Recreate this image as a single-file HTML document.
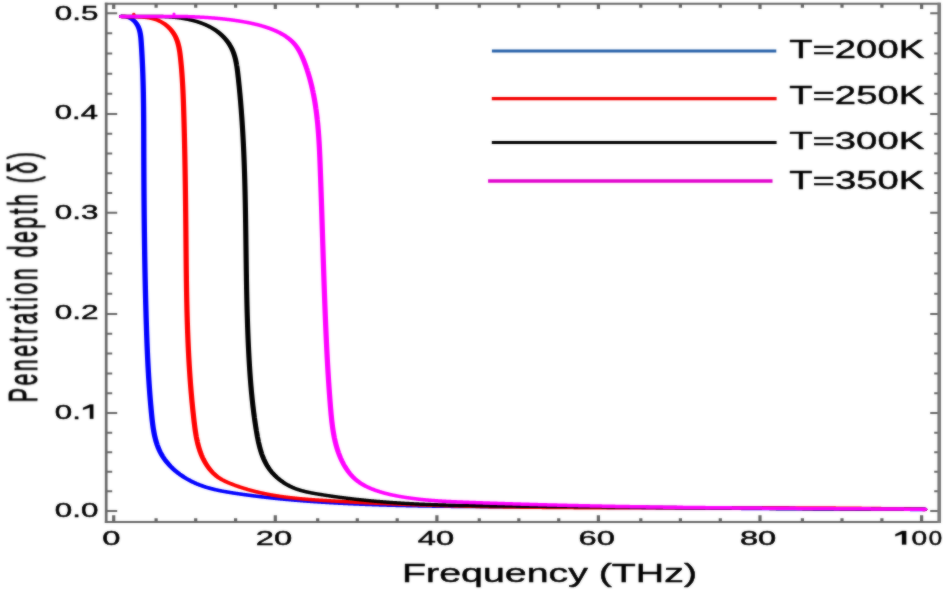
<!DOCTYPE html>
<html><head><meta charset="utf-8"><style>
html,body{margin:0;padding:0;background:#fff;width:943px;height:590px;overflow:hidden}
svg{display:block}
#w{width:943px;height:590px}
text{font-family:"Liberation Sans",sans-serif}
</style></head><body>
<div id="w"><svg width="943" height="590" viewBox="0 0 943 590">
<defs><filter id="bl" x="0" y="0" width="943" height="590" filterUnits="userSpaceOnUse" color-interpolation-filters="sRGB"><feGaussianBlur in="SourceGraphic" stdDeviation="0.9" result="b"/><feComposite in="SourceGraphic" in2="b" operator="arithmetic" k1="0" k2="0.5" k3="0.5" k4="0"/></filter></defs>
<rect width="943" height="590" fill="#fff"/>
<g filter="url(#bl)">
<path d="M113.70,522.0 V515.20 M113.70,3.7 V9.10 M156.10,522.0 V518.20 M156.10,3.7 V7.70 M195.70,522.0 V518.20 M195.70,3.7 V7.70 M235.60,522.0 V518.20 M235.60,3.7 V7.70 M275.30,522.0 V515.20 M275.30,3.7 V9.10 M317.70,522.0 V518.20 M317.70,3.7 V7.70 M357.30,522.0 V518.20 M357.30,3.7 V7.70 M397.20,522.0 V518.20 M397.20,3.7 V7.70 M436.90,522.0 V515.20 M436.90,3.7 V9.10 M479.27,522.0 V518.20 M479.27,3.7 V7.70 M518.85,522.0 V518.20 M518.85,3.7 V7.70 M558.73,522.0 V518.20 M558.73,3.7 V7.70 M598.40,522.0 V515.20 M598.40,3.7 V9.10 M640.80,522.0 V518.20 M640.80,3.7 V7.70 M680.40,522.0 V518.20 M680.40,3.7 V7.70 M720.30,522.0 V518.20 M720.30,3.7 V7.70 M760.00,522.0 V515.20 M760.00,3.7 V9.10 M802.40,522.0 V518.20 M802.40,3.7 V7.70 M842.00,522.0 V518.20 M842.00,3.7 V7.70 M881.90,522.0 V518.20 M881.90,3.7 V7.70 M921.60,522.0 V515.20 M921.60,3.7 V9.10" fill="none" stroke="#666" stroke-width="3.2"/>
<path d="M106.2,510.90 H117.20 M939.2,510.90 H930.20 M106.2,491.34 H112.20 M939.2,491.34 H934.20 M106.2,471.78 H112.20 M939.2,471.78 H934.20 M106.2,452.22 H112.20 M939.2,452.22 H934.20 M106.2,432.66 H112.20 M939.2,432.66 H934.20 M106.2,413.10 H117.20 M939.2,413.10 H930.20 M106.2,393.26 H112.20 M939.2,393.26 H934.20 M106.2,373.42 H112.20 M939.2,373.42 H934.20 M106.2,353.58 H112.20 M939.2,353.58 H934.20 M106.2,333.74 H112.20 M939.2,333.74 H934.20 M106.2,313.90 H117.20 M939.2,313.90 H930.20 M106.2,293.68 H112.20 M939.2,293.68 H934.20 M106.2,273.46 H112.20 M939.2,273.46 H934.20 M106.2,253.24 H112.20 M939.2,253.24 H934.20 M106.2,233.02 H112.20 M939.2,233.02 H934.20 M106.2,212.80 H117.20 M939.2,212.80 H930.20 M106.2,193.03 H112.20 M939.2,193.03 H934.20 M106.2,173.26 H112.20 M939.2,173.26 H934.20 M106.2,153.49 H112.20 M939.2,153.49 H934.20 M106.2,133.72 H112.20 M939.2,133.72 H934.20 M106.2,113.95 H117.20 M939.2,113.95 H930.20 M106.2,93.80 H112.20 M939.2,93.80 H934.20 M106.2,73.65 H112.20 M939.2,73.65 H934.20 M106.2,53.50 H112.20 M939.2,53.50 H934.20 M106.2,33.35 H112.20 M939.2,33.35 H934.20 M106.2,13.20 H117.20 M939.2,13.20 H930.20" fill="none" stroke="#666" stroke-width="2.0"/>
<path d="M104.85,3.7 H940.55 M104.85,522.0 H940.55" fill="none" stroke="#666" stroke-width="2.0"/>
<path d="M106.2,2.70 V523.00" fill="none" stroke="#666" stroke-width="2.7"/>
<path d="M939.2,2.70 V523.00" fill="none" stroke="#7a7a7a" stroke-width="3.6"/>
<g transform="scale(1.5,1)">
<path d="M80.98,16.39 L81.39,16.39 L81.78,16.40 L82.17,16.43 L82.56,16.48 L82.93,16.53 L83.30,16.61 L83.66,16.70 L84.02,16.80 L84.36,16.91 L84.70,17.04 L85.04,17.18 L85.36,17.33 L85.68,17.50 L86.00,17.68 L86.30,17.87 L86.60,18.07 L86.90,18.28 L87.18,18.51 L87.46,18.74 L87.74,18.99 L88.00,19.25 L88.26,19.52 L88.52,19.79 L88.76,20.08 L89.00,20.38 L89.24,20.68 L89.46,21.00 L89.69,21.32 L89.90,21.65 L90.11,21.99 L90.31,22.34 L90.51,22.69 L90.69,23.05 L90.88,23.42 L91.05,23.80 L91.22,24.18 L91.39,24.57 L91.55,24.97 L91.70,25.37 L91.84,25.78 L91.98,26.19 L92.12,26.61 L92.24,27.03 L92.37,27.45 L92.48,27.88 L92.59,28.32 L92.70,28.76 L92.79,29.20 L92.89,29.65 L92.98,30.10 L93.06,30.56 L93.14,31.01 L93.22,31.48 L93.29,31.94 L93.36,32.41 L93.42,32.88 L93.48,33.35 L93.54,33.83 L93.59,34.31 L93.64,34.79 L93.69,35.27 L93.73,35.76 L93.77,36.24 L93.81,36.73 L93.85,37.22 L93.88,37.71 L93.92,38.21 L93.95,38.70 L93.98,39.19 L94.00,39.69 L94.03,40.19 L94.06,40.68 L94.08,41.18 L94.11,41.68 L94.13,42.18 L94.15,42.68 L94.17,43.18 L94.20,43.67 L94.22,44.17 L94.24,44.67 L94.26,45.17 L94.28,45.66 L94.31,46.16 L94.33,46.66 L94.35,47.16 L94.37,47.65 L94.39,48.15 L94.41,48.65 L94.43,49.14 L94.45,49.64 L94.47,50.14 L94.49,50.63 L94.51,51.13 L94.53,51.63 L94.55,52.12 L94.57,52.62 L94.58,53.12 L94.60,53.61 L94.62,54.11 L94.64,54.60 L94.66,55.10 L94.67,55.59 L94.69,56.09 L94.71,56.59 L94.73,57.08 L94.74,57.58 L94.76,58.07 L94.78,58.57 L94.79,59.06 L94.81,59.56 L94.83,60.05 L94.84,60.54 L94.86,61.04 L94.87,61.53 L94.89,62.03 L94.90,62.52 L94.92,63.02 L94.93,63.51 L94.95,64.00 L94.96,64.50 L94.98,64.99 L94.99,65.49 L95.00,65.98 L95.02,66.47 L95.03,66.97 L95.05,67.46 L95.06,67.95 L95.07,68.45 L95.09,68.94 L95.10,69.43 L95.11,69.93 L95.12,70.42 L95.14,70.91 L95.15,71.40 L95.16,71.90 L95.17,72.39 L95.18,72.88 L95.20,73.37 L95.21,73.87 L95.22,74.36 L95.23,74.85 L95.24,75.34 L95.25,75.84 L95.26,76.33 L95.27,76.82 L95.28,77.31 L95.29,77.80 L95.30,78.29 L95.31,78.79 L95.32,79.28 L95.33,79.77 L95.34,80.26 L95.35,80.75 L95.36,81.24 L95.37,81.74 L95.38,82.23 L95.39,82.72 L95.40,83.21 L95.41,83.70 L95.42,84.19 L95.42,84.68 L95.43,85.17 L95.44,85.66 L95.45,86.16 L95.46,86.65 L95.46,87.14 L95.47,87.63 L95.48,88.12 L95.49,88.61 L95.49,89.10 L95.50,89.59 L95.51,90.08 L95.52,90.57 L95.52,91.06 L95.53,91.55 L95.54,92.04 L95.54,92.53 L95.55,93.02 L95.56,93.51 L95.56,94.00 L95.57,94.49 L95.57,94.98 L95.58,95.47 L95.59,95.96 L95.59,96.45 L95.60,96.94 L95.60,97.43 L95.61,97.92 L95.61,98.41 L95.62,98.90 L95.62,99.39 L95.63,99.88 L95.63,100.37 L95.64,100.86 L95.64,101.35 L95.65,101.84 L95.65,102.33 L95.66,102.82 L95.66,103.31 L95.67,103.79 L95.67,104.28 L95.68,104.77 L95.68,105.26 L95.68,105.75 L95.69,106.24 L95.69,106.73 L95.70,107.22 L95.70,107.71 L95.70,108.20 L95.71,108.69 L95.71,109.18 L95.71,109.67 L95.72,110.15 L95.72,110.64 L95.72,111.13 L95.73,111.62 L95.73,112.11 L95.73,112.60 L95.74,113.09 L95.74,113.58 L95.74,114.07 L95.74,114.55 L95.75,115.04 L95.75,115.53 L95.75,116.02 L95.75,116.51 L95.76,117.00 L95.76,117.49 L95.76,117.98 L95.76,118.47 L95.77,118.95 L95.77,119.44 L95.77,119.93 L95.77,120.42 L95.77,120.91 L95.78,121.40 L95.78,121.89 L95.78,122.38 L95.78,122.86 L95.78,123.35 L95.79,123.84 L95.79,124.33 L95.79,124.82 L95.79,125.31 L95.79,125.80 L95.79,126.29 L95.80,126.78 L95.80,127.26 L95.80,127.75 L95.80,128.24 L95.80,128.73 L95.80,129.22 L95.80,129.71 L95.81,130.20 L95.81,130.69 L95.81,131.17 L95.81,131.66 L95.81,132.15 L95.81,132.64 L95.81,133.13 L95.81,133.62 L95.82,134.11 L95.82,134.60 L95.82,135.09 L95.82,135.58 L95.82,136.06 L95.82,136.55 L95.82,137.04 L95.82,137.53 L95.82,138.02 L95.82,138.51 L95.83,139.00 L95.83,139.49 L95.83,139.98 L95.83,140.47 L95.83,140.96 L95.83,141.45 L95.83,141.93 L95.83,142.42 L95.83,142.91 L95.83,143.40 L95.84,143.89 L95.84,144.38 L95.84,144.87 L95.84,145.36 L95.84,145.85 L95.84,146.34 L95.84,146.83 L95.84,147.32 L95.84,147.81 L95.84,148.30 L95.84,148.79 L95.85,149.28 L95.85,149.77 L95.85,150.26 L95.85,150.75 L95.85,151.24 L95.85,151.73 L95.85,152.22 L95.85,152.71 L95.85,153.20 L95.86,153.69 L95.86,154.18 L95.86,154.67 L95.86,155.16 L95.86,155.65 L95.86,156.14 L95.86,156.63 L95.86,157.12 L95.87,157.61 L95.87,158.10 L95.87,158.59 L95.87,159.08 L95.87,159.57 L95.87,160.06 L95.87,160.55 L95.87,161.04 L95.88,161.53 L95.88,162.02 L95.88,162.51 L95.88,163.01 L95.88,163.50 L95.88,163.99 L95.88,164.48 L95.89,164.97 L95.89,165.46 L95.89,165.95 L95.89,166.44 L95.89,166.93 L95.89,167.42 L95.89,167.91 L95.90,168.41 L95.90,168.90 L95.90,169.39 L95.90,169.88 L95.90,170.37 L95.90,170.86 L95.91,171.35 L95.91,171.84 L95.91,172.33 L95.91,172.83 L95.91,173.32 L95.91,173.81 L95.92,174.30 L95.92,174.79 L95.92,175.28 L95.92,175.77 L95.92,176.27 L95.92,176.76 L95.93,177.25 L95.93,177.74 L95.93,178.23 L95.93,178.72 L95.93,179.21 L95.93,179.71 L95.94,180.20 L95.94,180.69 L95.94,181.18 L95.94,181.67 L95.94,182.16 L95.95,182.66 L95.95,183.15 L95.95,183.64 L95.95,184.13 L95.95,184.62 L95.96,185.12 L95.96,185.61 L95.96,186.10 L95.96,186.59 L95.97,187.08 L95.97,187.57 L95.97,188.07 L95.97,188.56 L95.97,189.05 L95.98,189.54 L95.98,190.03 L95.98,190.53 L95.98,191.02 L95.99,191.51 L95.99,192.00 L95.99,192.49 L95.99,192.99 L95.99,193.48 L96.00,193.97 L96.00,194.46 L96.00,194.96 L96.00,195.45 L96.01,195.94 L96.01,196.43 L96.01,196.92 L96.01,197.42 L96.02,197.91 L96.02,198.40 L96.02,198.89 L96.02,199.39 L96.03,199.88 L96.03,200.37 L96.03,200.86 L96.04,201.35 L96.04,201.85 L96.04,202.34 L96.04,202.83 L96.05,203.32 L96.05,203.82 L96.05,204.31 L96.05,204.80 L96.06,205.29 L96.06,205.79 L96.06,206.28 L96.07,206.77 L96.07,207.26 L96.07,207.76 L96.08,208.25 L96.08,208.74 L96.08,209.23 L96.08,209.73 L96.09,210.22 L96.09,210.71 L96.09,211.20 L96.10,211.70 L96.10,212.19 L96.10,212.68 L96.11,213.17 L96.11,213.67 L96.11,214.16 L96.12,214.65 L96.12,215.14 L96.12,215.64 L96.13,216.13 L96.13,216.62 L96.13,217.11 L96.14,217.61 L96.14,218.10 L96.14,218.59 L96.15,219.08 L96.15,219.58 L96.15,220.07 L96.16,220.56 L96.16,221.05 L96.16,221.55 L96.17,222.04 L96.17,222.53 L96.17,223.03 L96.18,223.52 L96.18,224.01 L96.19,224.50 L96.19,225.00 L96.19,225.49 L96.20,225.98 L96.20,226.47 L96.21,226.97 L96.21,227.46 L96.21,227.95 L96.22,228.44 L96.22,228.94 L96.22,229.43 L96.23,229.92 L96.23,230.41 L96.24,230.91 L96.24,231.40 L96.25,231.89 L96.25,232.39 L96.25,232.88 L96.26,233.37 L96.26,233.86 L96.27,234.36 L96.27,234.85 L96.27,235.34 L96.28,235.83 L96.28,236.33 L96.29,236.82 L96.29,237.31 L96.30,237.80 L96.30,238.30 L96.31,238.79 L96.31,239.28 L96.31,239.77 L96.32,240.27 L96.32,240.76 L96.33,241.25 L96.33,241.74 L96.34,242.24 L96.34,242.73 L96.35,243.22 L96.35,243.71 L96.36,244.21 L96.36,244.70 L96.37,245.19 L96.37,245.68 L96.38,246.18 L96.38,246.67 L96.39,247.16 L96.39,247.65 L96.40,248.15 L96.40,248.64 L96.41,249.13 L96.41,249.62 L96.42,250.11 L96.42,250.61 L96.43,251.10 L96.43,251.59 L96.44,252.08 L96.44,252.58 L96.45,253.07 L96.45,253.56 L96.46,254.05 L96.46,254.55 L96.47,255.04 L96.47,255.53 L96.48,256.02 L96.48,256.51 L96.49,257.01 L96.50,257.50 L96.50,257.99 L96.51,258.48 L96.51,258.97 L96.52,259.47 L96.52,259.96 L96.53,260.45 L96.54,260.94 L96.54,261.44 L96.55,261.93 L96.55,262.42 L96.56,262.91 L96.56,263.40 L96.57,263.90 L96.58,264.39 L96.58,264.88 L96.59,265.37 L96.59,265.86 L96.60,266.35 L96.61,266.85 L96.61,267.34 L96.62,267.83 L96.63,268.32 L96.63,268.81 L96.64,269.31 L96.64,269.80 L96.65,270.29 L96.66,270.78 L96.66,271.27 L96.67,271.76 L96.68,272.26 L96.68,272.75 L96.69,273.24 L96.70,273.73 L96.70,274.22 L96.71,274.71 L96.72,275.20 L96.72,275.70 L96.73,276.19 L96.74,276.68 L96.74,277.17 L96.75,277.66 L96.76,278.15 L96.76,278.64 L96.77,279.14 L96.78,279.63 L96.78,280.12 L96.79,280.61 L96.80,281.10 L96.81,281.59 L96.81,282.08 L96.82,282.57 L96.83,283.06 L96.83,283.56 L96.84,284.05 L96.85,284.54 L96.86,285.03 L96.86,285.52 L96.87,286.01 L96.88,286.50 L96.89,286.99 L96.89,287.48 L96.90,287.97 L96.91,288.46 L96.92,288.95 L96.92,289.45 L96.93,289.94 L96.94,290.43 L96.95,290.92 L96.96,291.41 L96.96,291.90 L96.97,292.39 L96.98,292.88 L96.99,293.37 L97.00,293.86 L97.00,294.35 L97.01,294.84 L97.02,295.33 L97.03,295.82 L97.04,296.31 L97.04,296.80 L97.05,297.29 L97.06,297.78 L97.07,298.27 L97.08,298.76 L97.09,299.25 L97.09,299.74 L97.10,300.23 L97.11,300.72 L97.12,301.21 L97.13,301.70 L97.14,302.19 L97.15,302.68 L97.15,303.17 L97.16,303.66 L97.17,304.15 L97.18,304.64 L97.19,305.13 L97.20,305.62 L97.21,306.11 L97.22,306.60 L97.23,307.09 L97.23,307.58 L97.24,308.07 L97.25,308.56 L97.26,309.05 L97.27,309.54 L97.28,310.02 L97.29,310.51 L97.30,311.00 L97.31,311.49 L97.32,311.98 L97.33,312.47 L97.34,312.96 L97.35,313.45 L97.36,313.94 L97.36,314.43 L97.37,314.91 L97.38,315.40 L97.39,315.89 L97.40,316.38 L97.41,316.87 L97.42,317.36 L97.43,317.85 L97.44,318.34 L97.45,318.82 L97.46,319.31 L97.47,319.80 L97.48,320.29 L97.49,320.78 L97.50,321.27 L97.51,321.75 L97.52,322.24 L97.53,322.73 L97.54,323.22 L97.55,323.71 L97.57,324.19 L97.58,324.68 L97.59,325.17 L97.60,325.66 L97.61,326.15 L97.62,326.63 L97.63,327.12 L97.64,327.61 L97.65,328.10 L97.66,328.58 L97.67,329.07 L97.68,329.56 L97.69,330.05 L97.70,330.53 L97.72,331.02 L97.73,331.51 L97.74,332.00 L97.75,332.48 L97.76,332.97 L97.77,333.46 L97.78,333.94 L97.79,334.43 L97.81,334.92 L97.82,335.41 L97.83,335.89 L97.84,336.38 L97.85,336.87 L97.86,337.35 L97.88,337.84 L97.89,338.33 L97.90,338.82 L97.91,339.30 L97.92,339.79 L97.94,340.28 L97.95,340.76 L97.96,341.25 L97.97,341.74 L97.98,342.22 L98.00,342.71 L98.01,343.20 L98.02,343.68 L98.04,344.17 L98.05,344.66 L98.06,345.14 L98.07,345.63 L98.09,346.12 L98.10,346.61 L98.11,347.09 L98.13,347.58 L98.14,348.07 L98.15,348.55 L98.17,349.04 L98.18,349.53 L98.19,350.01 L98.21,350.50 L98.22,350.99 L98.24,351.47 L98.25,351.96 L98.26,352.45 L98.28,352.94 L98.29,353.42 L98.31,353.91 L98.32,354.40 L98.34,354.88 L98.35,355.37 L98.36,355.86 L98.38,356.35 L98.39,356.83 L98.41,357.32 L98.42,357.81 L98.44,358.29 L98.46,358.78 L98.47,359.27 L98.49,359.76 L98.50,360.24 L98.52,360.73 L98.53,361.22 L98.55,361.71 L98.57,362.19 L98.58,362.68 L98.60,363.17 L98.61,363.66 L98.63,364.15 L98.65,364.63 L98.66,365.12 L98.68,365.61 L98.70,366.10 L98.72,366.59 L98.73,367.07 L98.75,367.56 L98.77,368.05 L98.79,368.54 L98.80,369.03 L98.82,369.52 L98.84,370.00 L98.86,370.49 L98.87,370.98 L98.89,371.47 L98.91,371.96 L98.93,372.45 L98.95,372.94 L98.97,373.43 L98.99,373.92 L99.01,374.41 L99.02,374.89 L99.04,375.38 L99.06,375.87 L99.08,376.36 L99.10,376.85 L99.12,377.34 L99.14,377.83 L99.16,378.32 L99.18,378.81 L99.20,379.30 L99.22,379.79 L99.24,380.28 L99.27,380.77 L99.29,381.26 L99.31,381.75 L99.33,382.24 L99.35,382.73 L99.37,383.23 L99.39,383.72 L99.42,384.21 L99.44,384.70 L99.46,385.19 L99.48,385.68 L99.50,386.17 L99.53,386.66 L99.55,387.16 L99.57,387.65 L99.60,388.14 L99.62,388.63 L99.64,389.12 L99.67,389.62 L99.69,390.11 L99.71,390.60 L99.74,391.09 L99.76,391.59 L99.79,392.08 L99.81,392.57 L99.83,393.06 L99.86,393.56 L99.88,394.05 L99.91,394.54 L99.93,395.04 L99.96,395.53 L99.99,396.02 L100.01,396.52 L100.04,397.01 L100.06,397.51 L100.09,398.00 L100.12,398.50 L100.14,398.99 L100.17,399.49 L100.20,399.98 L100.22,400.48 L100.25,400.97 L100.28,401.47 L100.31,401.96 L100.34,402.46 L100.36,402.95 L100.39,403.45 L100.42,403.95 L100.45,404.44 L100.48,404.94 L100.51,405.43 L100.54,405.93 L100.57,406.43 L100.60,406.93 L100.63,407.42 L100.66,407.92 L100.69,408.42 L100.72,408.91 L100.75,409.41 L100.78,409.91 L100.81,410.41 L100.84,410.91 L100.87,411.41 L100.90,411.90 L100.93,412.40 L100.97,412.90 L101.00,413.40 L101.03,413.90 L101.06,414.40 L101.10,414.90 L101.13,415.40 L101.16,415.90 L101.20,416.40 L101.23,416.90 L101.26,417.40 L101.30,417.90 L101.33,418.40 L101.37,418.90 L101.41,419.40 L101.44,419.90 L101.48,420.40 L101.52,420.90 L101.56,421.40 L101.60,421.90 L101.64,422.39 L101.68,422.89 L101.72,423.39 L101.76,423.89 L101.81,424.39 L101.85,424.88 L101.89,425.38 L101.94,425.88 L101.99,426.37 L102.03,426.87 L102.08,427.36 L102.13,427.85 L102.18,428.35 L102.23,428.84 L102.29,429.33 L102.34,429.82 L102.40,430.31 L102.45,430.80 L102.51,431.29 L102.57,431.78 L102.63,432.27 L102.69,432.76 L102.75,433.24 L102.82,433.73 L102.88,434.21 L102.95,434.69 L103.02,435.18 L103.09,435.66 L103.16,436.14 L103.23,436.62 L103.31,437.10 L103.38,437.57 L103.46,438.05 L103.54,438.52 L103.62,439.00 L103.70,439.47 L103.79,439.94 L103.87,440.41 L103.96,440.88 L104.05,441.35 L104.14,441.81 L104.24,442.28 L104.33,442.74 L104.43,443.20 L104.53,443.66 L104.63,444.12 L104.73,444.58 L104.84,445.03 L104.95,445.49 L105.06,445.94 L105.17,446.39 L105.28,446.84 L105.40,447.29 L105.52,447.74 L105.64,448.18 L105.76,448.62 L105.89,449.06 L106.02,449.50 L106.15,449.94 L106.28,450.38 L106.41,450.81 L106.55,451.24 L106.69,451.67 L106.83,452.10 L106.98,452.52 L107.13,452.95 L107.28,453.37 L107.43,453.79 L107.59,454.21 L107.74,454.62 L107.90,455.04 L108.07,455.45 L108.23,455.86 L108.40,456.26 L108.57,456.67 L108.75,457.07 L108.92,457.47 L109.10,457.87 L109.28,458.27 L109.46,458.67 L109.65,459.06 L109.83,459.45 L110.02,459.84 L110.21,460.22 L110.41,460.61 L110.60,460.99 L110.80,461.37 L111.00,461.75 L111.21,462.12 L111.41,462.50 L111.62,462.87 L111.83,463.24 L112.04,463.60 L112.25,463.97 L112.46,464.33 L112.68,464.69 L112.90,465.05 L113.12,465.40 L113.34,465.76 L113.57,466.11 L113.79,466.46 L114.02,466.80 L114.25,467.15 L114.48,467.49 L114.72,467.83 L114.95,468.17 L115.19,468.50 L115.43,468.84 L115.67,469.17 L115.91,469.50 L116.16,469.82 L116.40,470.15 L116.65,470.47 L116.90,470.79 L117.15,471.10 L117.40,471.42 L117.66,471.73 L117.91,472.04 L118.17,472.35 L118.43,472.65 L118.69,472.95 L118.95,473.25 L119.21,473.55 L119.47,473.85 L119.74,474.14 L120.00,474.43 L120.27,474.72 L120.54,475.01 L120.81,475.29 L121.08,475.57 L121.36,475.85 L121.63,476.13 L121.91,476.40 L122.18,476.67 L122.46,476.94 L122.74,477.20 L123.02,477.47 L123.30,477.73 L123.58,477.99 L123.86,478.25 L124.15,478.50 L124.43,478.75 L124.72,479.00 L125.01,479.25 L125.29,479.49 L125.58,479.73 L125.87,479.97 L126.16,480.20 L126.45,480.44 L126.75,480.67 L127.04,480.90 L127.33,481.12 L127.63,481.35 L127.92,481.57 L128.22,481.79 L128.52,482.00 L128.81,482.21 L129.11,482.42 L129.41,482.63 L129.71,482.84 L130.01,483.04 L130.31,483.24 L130.61,483.44 L130.91,483.63 L131.21,483.82 L131.52,484.01 L131.82,484.20 L132.12,484.38 L132.43,484.56 L132.73,484.74 L133.04,484.92 L133.34,485.09 L133.65,485.27 L133.95,485.44 L134.26,485.60 L134.57,485.77 L134.88,485.93 L135.19,486.09 L135.49,486.25 L135.80,486.41 L136.11,486.56 L136.42,486.72 L136.73,486.87 L137.05,487.01 L137.36,487.16 L137.67,487.30 L137.98,487.45 L138.29,487.59 L138.61,487.72 L138.92,487.86 L139.23,488.00 L139.55,488.13 L139.86,488.26 L140.18,488.39 L140.49,488.52 L140.81,488.64 L141.12,488.76 L141.44,488.89 L141.76,489.01 L142.07,489.13 L142.39,489.24 L142.71,489.36 L143.03,489.47 L143.34,489.59 L143.66,489.70 L143.98,489.81 L144.30,489.92 L144.62,490.02 L144.94,490.13 L145.26,490.23 L145.58,490.33 L145.90,490.44 L146.22,490.54 L146.54,490.64 L146.86,490.73 L147.18,490.83 L147.50,490.92 L147.82,491.02 L148.15,491.11 L148.47,491.20 L148.79,491.30 L149.11,491.39 L149.43,491.47 L149.76,491.56 L150.08,491.65 L150.40,491.74 L150.73,491.82 L151.05,491.91 L151.37,491.99 L151.70,492.07 L152.02,492.15 L152.34,492.24 L152.67,492.32 L152.99,492.40 L153.31,492.48 L153.64,492.55 L153.96,492.63 L154.29,492.71 L154.61,492.79 L154.94,492.86 L155.26,492.94 L155.59,493.01 L155.91,493.09 L156.23,493.16 L156.56,493.24 L156.88,493.31 L157.21,493.38 L157.53,493.46 L157.86,493.53 L158.18,493.60 L158.51,493.67 L158.83,493.74 L159.16,493.82 L159.48,493.89 L159.81,493.96 L160.13,494.03 L160.46,494.10 L160.78,494.17 L161.11,494.24 L161.43,494.31 L161.76,494.38 L162.08,494.44 L162.40,494.51 L162.73,494.58 L163.05,494.65 L163.38,494.72 L163.70,494.78 L164.03,494.85 L164.35,494.92 L164.68,494.98 L165.00,495.05 L165.33,495.11 L165.65,495.18 L165.98,495.24 L166.30,495.31 L166.63,495.37 L166.96,495.44 L167.28,495.50 L167.61,495.56 L167.93,495.63 L168.26,495.69 L168.58,495.75 L168.91,495.81 L169.23,495.88 L169.56,495.94 L169.88,496.00 L170.21,496.06 L170.53,496.12 L170.86,496.18 L171.18,496.24 L171.51,496.30 L171.83,496.36 L172.16,496.42 L172.48,496.48 L172.81,496.54 L173.13,496.60 L173.46,496.66 L173.79,496.72 L174.11,496.77 L174.44,496.83 L174.76,496.89 L175.09,496.95 L175.41,497.00 L175.74,497.06 L176.06,497.12 L176.39,497.17 L176.71,497.23 L177.04,497.28 L177.37,497.34 L177.69,497.39 L178.02,497.45 L178.34,497.50 L178.67,497.56 L178.99,497.61 L179.32,497.66 L179.64,497.72 L179.97,497.77 L180.30,497.82 L180.62,497.88 L180.95,497.93 L181.27,497.98 L181.60,498.03 L181.92,498.08 L182.25,498.13 L182.58,498.19 L182.90,498.24 L183.23,498.29 L183.55,498.34 L183.88,498.39 L184.20,498.44 L184.53,498.49 L184.86,498.54 L185.18,498.59 L185.51,498.63 L185.83,498.68 L186.16,498.73 L186.48,498.78 L186.81,498.83 L187.14,498.88 L187.46,498.92 L187.79,498.97 L188.11,499.02 L188.44,499.06 L188.77,499.11 L189.09,499.16 L189.42,499.20 L189.74,499.25 L190.07,499.29 L190.40,499.34 L190.72,499.39 L191.05,499.43 L191.37,499.47 L191.70,499.52 L192.03,499.56 L192.35,499.61 L192.68,499.65 L193.00,499.70 L193.33,499.74 L193.66,499.78 L193.98,499.82 L194.31,499.87 L194.63,499.91 L194.96,499.95 L195.29,499.99 L195.61,500.04 L195.94,500.08 L196.26,500.12 L196.59,500.16 L196.92,500.20 L197.24,500.24 L197.57,500.28 L197.90,500.32 L198.22,500.36 L198.55,500.40 L198.87,500.44 L199.20,500.48 L199.53,500.52 L199.85,500.56 L200.18,500.60 L200.51,500.64 L200.83,500.68 L201.16,500.72 L201.48,500.76 L201.81,500.79 L202.14,500.83 L202.46,500.87 L202.79,500.91 L203.12,500.94 L203.44,500.98 L203.77,501.02 L204.09,501.06 L204.42,501.09 L204.75,501.13 L205.07,501.16 L205.40,501.20 L205.73,501.24 L206.05,501.27 L206.38,501.31 L206.71,501.34 L207.03,501.38 L207.36,501.41 L207.68,501.45 L208.01,501.48 L208.34,501.52 L208.66,501.55 L208.99,501.58 L209.32,501.62 L209.64,501.65 L209.97,501.69 L210.30,501.72 L210.62,501.75 L210.95,501.79 L211.28,501.82 L211.60,501.85 L211.93,501.88 L212.26,501.92 L212.58,501.95 L212.91,501.98 L213.24,502.01 L213.56,502.04 L213.89,502.07 L214.21,502.11 L214.54,502.14 L214.87,502.17 L215.19,502.20 L215.52,502.23 L215.85,502.26 L216.17,502.29 L216.50,502.32 L216.83,502.35 L217.15,502.38 L217.48,502.41 L217.81,502.44 L218.13,502.47 L218.46,502.50 L218.79,502.53 L219.11,502.56 L219.44,502.59 L219.77,502.62 L220.09,502.65 L220.42,502.67 L220.75,502.70 L221.07,502.73 L221.40,502.76 L221.73,502.79 L222.05,502.81 L222.38,502.84 L222.71,502.87 L223.03,502.90 L223.36,502.92 L223.69,502.95 L224.01,502.98 L224.34,503.01 L224.67,503.03 L224.99,503.06 L225.32,503.09 L225.65,503.11 L225.97,503.14 L226.30,503.16 L226.63,503.19 L226.95,503.22 L227.28,503.24 L227.61,503.27 L227.94,503.29 L228.26,503.32 L228.59,503.34 L228.92,503.37 L229.24,503.39 L229.57,503.42 L229.90,503.44 L230.22,503.47 L230.55,503.49 L230.88,503.51 L231.20,503.54 L231.53,503.56 L231.86,503.59 L232.18,503.61 L232.51,503.63 L232.84,503.66 L233.16,503.68 L233.49,503.70 L233.82,503.73 L234.14,503.75 L234.47,503.77 L234.80,503.79 L235.13,503.82 L235.45,503.84 L235.78,503.86 L236.11,503.88 L236.43,503.91 L236.76,503.93 L237.09,503.95 L237.41,503.97 L237.74,503.99 L238.07,504.01 L238.39,504.04 L238.72,504.06 L239.05,504.08 L239.38,504.10 L239.70,504.12 L240.03,504.14 L240.36,504.16 L240.68,504.18 L241.01,504.20 L241.34,504.22 L241.66,504.24 L241.99,504.26 L242.32,504.28 L242.65,504.30 L242.97,504.32 L243.30,504.34 L243.63,504.36 L243.95,504.38 L244.28,504.40 L244.61,504.42 L244.93,504.44 L245.26,504.46 L245.59,504.48 L245.92,504.49 L246.24,504.51 L246.57,504.53 L246.90,504.55 L247.22,504.57 L247.55,504.59 L247.88,504.60 L248.20,504.62 L248.53,504.64 L248.86,504.66 L249.19,504.68 L249.51,504.69 L249.84,504.71 L250.17,504.73 L250.49,504.74 L250.82,504.76 L251.15,504.78 L251.48,504.80 L251.80,504.81 L252.13,504.83 L252.46,504.85 L252.78,504.86 L253.11,504.88 L253.44,504.89 L253.77,504.91 L254.09,504.93 L254.42,504.94 L254.75,504.96 L255.07,504.97 L255.40,504.99 L255.73,505.00 L256.06,505.02 L256.38,505.04 L256.71,505.05 L257.04,505.07 L257.36,505.08 L257.69,505.10 L258.02,505.11 L258.35,505.12 L258.67,505.14 L259.00,505.15 L259.33,505.17 L259.65,505.18 L259.98,505.20 L260.31,505.21 L260.64,505.23 L260.96,505.24 L261.29,505.25 L261.62,505.27 L261.94,505.28 L262.27,505.29 L262.60,505.31 L262.93,505.32 L263.25,505.33 L263.58,505.35 L263.91,505.36 L264.23,505.37 L264.56,505.39 L264.89,505.40 L265.22,505.41 L265.54,505.42 L265.87,505.44 L266.20,505.45 L266.53,505.46 L266.85,505.47 L267.18,505.49 L267.51,505.50 L267.83,505.51 L268.16,505.52 L268.49,505.53 L268.82,505.55 L269.14,505.56 L269.47,505.57 L269.80,505.58 L270.13,505.59 L270.45,505.60 L270.78,505.62 L271.11,505.63 L271.43,505.64 L271.76,505.65 L272.09,505.66 L272.42,505.67 L272.74,505.68 L273.07,505.69 L273.40,505.70 L273.73,505.71 L274.05,505.72 L274.38,505.73 L274.71,505.74 L275.04,505.76 L275.36,505.77 L275.69,505.78 L276.02,505.79 L276.34,505.80 L276.67,505.81 L277.00,505.82 L277.33,505.82 L277.65,505.83 L277.98,505.84 L278.31,505.85 L278.64,505.86 L278.96,505.87 L279.29,505.88 L279.62,505.89 L279.95,505.90 L280.27,505.91 L280.60,505.92 L280.93,505.93 L281.25,505.94 L281.58,505.94 L281.91,505.95 L282.24,505.96 L282.56,505.97 L282.89,505.98 L283.22,505.99 L283.55,506.00 L283.87,506.00 L284.20,506.01 L284.53,506.02 L284.86,506.03 L285.18,506.04 L285.51,506.04 L285.84,506.05 L286.17,506.06 L286.49,506.07 L286.82,506.08 L287.15,506.08 L287.48,506.09 L287.80,506.10 L288.13,506.11 L288.46,506.11 L288.78,506.12 L289.11,506.13 L289.44,506.14 L289.77,506.14 L290.09,506.15 L290.42,506.16 L290.75,506.16 L291.08,506.17 L291.40,506.18 L291.73,506.18 L292.06,506.19 L292.39,506.20 L292.71,506.20 L293.04,506.21 L293.37,506.22 L293.70,506.22 L294.02,506.23 L294.35,506.24 L294.68,506.24 L295.01,506.25 L295.33,506.26 L295.66,506.26 L295.99,506.27 L296.32,506.27 L296.64,506.28 L296.97,506.29 L297.30,506.29 L297.63,506.30 L297.95,506.30 L298.28,506.31 L298.61,506.31 L298.94,506.32 L299.26,506.33 L299.59,506.33 L299.92,506.34 L300.25,506.34 L300.57,506.35 L300.90,506.35 L301.23,506.36 L301.56,506.36 L301.88,506.37 L302.21,506.37 L302.54,506.38 L302.87,506.38 L303.19,506.39 L303.52,506.39 L303.85,506.40 L304.18,506.40 L304.50,506.41 L304.83,506.41 L305.16,506.42 L305.49,506.42 L305.81,506.43 L306.14,506.43 L306.47,506.44 L306.80,506.44 L307.12,506.45 L307.45,506.45 L307.78,506.46 L308.11,506.46 L308.43,506.46 L308.76,506.47 L309.09,506.47 L309.42,506.48 L309.74,506.48 L310.07,506.49 L310.40,506.49 L310.73,506.49 L311.05,506.50 L311.38,506.50 L311.71,506.51 L312.04,506.51 L312.36,506.51 L312.69,506.52 L313.02,506.52 L313.35,506.53 L313.67,506.53 L314.00,506.53 L314.33,506.54 L314.66,506.54 L314.98,506.54 L315.31,506.55 L315.64,506.55 L315.97,506.55 L316.29,506.56 L316.62,506.56 L316.95,506.57 L317.28,506.57 L317.60,506.57 L317.93,506.58 L318.26,506.58 L318.59,506.58 L318.91,506.59 L319.24,506.59 L319.57,506.59 L319.90,506.60 L320.22,506.60 L320.55,506.60 L320.88,506.61 L321.21,506.61 L321.53,506.61 L321.86,506.61 L322.19,506.62 L322.52,506.62 L322.84,506.62 L323.17,506.63 L323.50,506.63 L323.83,506.63 L324.15,506.64 L324.48,506.64 L324.81,506.64 L325.14,506.64 L325.46,506.65 L325.79,506.65 L326.12,506.65 L326.45,506.66 L326.77,506.66 L327.10,506.66 L327.43,506.66 L327.76,506.67 L328.08,506.67 L328.41,506.67 L328.74,506.68 L329.07,506.68 L329.39,506.68 L329.72,506.68 L330.05,506.69 L330.38,506.69 L330.70,506.69 L331.03,506.69 L331.36,506.70 L331.69,506.70 L332.01,506.70 L332.34,506.70 L332.67,506.71 L333.00,506.71 L333.32,506.71 L333.65,506.72 L333.98,506.72 L334.31,506.72 L334.64,506.72 L334.96,506.73 L335.29,506.73 L335.62,506.73 L335.95,506.73 L336.27,506.74 L336.60,506.74 L336.93,506.74 L337.26,506.74 L337.58,506.75 L337.91,506.75 L338.24,506.75 L338.57,506.75 L338.89,506.76 L339.22,506.76 L339.55,506.76 L339.88,506.76 L340.20,506.77 L340.53,506.77 L340.86,506.77 L341.19,506.77 L341.51,506.78 L341.84,506.78 L342.17,506.78 L342.50,506.78 L342.82,506.78 L343.15,506.79 L343.48,506.79 L343.81,506.79 L344.13,506.79 L344.46,506.80 L344.79,506.80 L345.12,506.80 L345.44,506.80 L345.77,506.81 L346.10,506.81 L346.43,506.81 L346.75,506.81 L347.08,506.82 L347.41,506.82 L347.74,506.82 L348.06,506.83 L348.39,506.83 L348.72,506.83 L349.05,506.83 L349.37,506.84 L349.70,506.84 L350.03,506.84 L350.36,506.84 L350.68,506.85 L351.01,506.85 L351.34,506.85 L351.67,506.85 L351.99,506.86 L352.32,506.86 L352.65,506.86 L352.98,506.86 L353.30,506.87 L353.63,506.87 L353.96,506.87 L354.29,506.87 L354.61,506.88 L354.94,506.88 L355.27,506.88 L355.60,506.89 L355.92,506.89 L356.25,506.89 L356.58,506.89 L356.91,506.90 L357.23,506.90 L357.56,506.90 L357.89,506.90 L358.22,506.91 L358.54,506.91 L358.87,506.91 L359.20,506.92 L359.53,506.92 L359.85,506.92 L360.18,506.92 L360.51,506.93 L360.84,506.93 L361.16,506.93 L361.49,506.94 L361.82,506.94 L362.15,506.94 L362.47,506.94 L362.80,506.95 L363.13,506.95 L363.46,506.95 L363.78,506.96 L364.11,506.96 L364.44,506.96 L364.77,506.96 L365.09,506.97 L365.42,506.97 L365.75,506.97 L366.08,506.98 L366.40,506.98 L366.73,506.98 L367.06,506.98 L367.38,506.99 L367.71,506.99 L368.04,506.99 L368.37,507.00 L368.69,507.00 L369.02,507.00 L369.35,507.00 L369.68,507.01 L370.00,507.01 L370.33,507.01 L370.66,507.02 L370.99,507.02 L371.31,507.02 L371.64,507.03 L371.97,507.03 L372.30,507.03 L372.62,507.03 L372.95,507.04 L373.28,507.04 L373.61,507.04 L373.93,507.05 L374.26,507.05 L374.59,507.05 L374.92,507.06 L375.24,507.06 L375.57,507.06 L375.90,507.06 L376.23,507.07 L376.55,507.07 L376.88,507.07 L377.21,507.08 L377.54,507.08 L377.86,507.08 L378.19,507.09 L378.52,507.09 L378.85,507.09 L379.17,507.10 L379.50,507.10 L379.83,507.10 L380.16,507.10 L380.48,507.11 L380.81,507.11 L381.14,507.11 L381.47,507.12 L381.79,507.12 L382.12,507.12 L382.45,507.13 L382.77,507.13 L383.10,507.13 L383.43,507.14 L383.76,507.14 L384.08,507.14 L384.41,507.15 L384.74,507.15 L385.07,507.15 L385.39,507.16 L385.72,507.16 L386.05,507.16 L386.38,507.16 L386.70,507.17 L387.03,507.17 L387.36,507.17 L387.69,507.18 L388.01,507.18 L388.34,507.18 L388.67,507.19 L389.00,507.19 L389.32,507.19 L389.65,507.20 L389.98,507.20 L390.31,507.20 L390.63,507.21 L390.96,507.21 L391.29,507.21 L391.62,507.22 L391.94,507.22 L392.27,507.22 L392.60,507.23 L392.92,507.23 L393.25,507.23 L393.58,507.24 L393.91,507.24 L394.23,507.24 L394.56,507.25 L394.89,507.25 L395.22,507.25 L395.54,507.26 L395.87,507.26 L396.20,507.26 L396.53,507.27 L396.85,507.27 L397.18,507.27 L397.51,507.28 L397.84,507.28 L398.16,507.28 L398.49,507.29 L398.82,507.29 L399.15,507.29 L399.47,507.30 L399.80,507.30 L400.13,507.30 L400.45,507.31 L400.78,507.31 L401.11,507.31 L401.44,507.32 L401.76,507.32 L402.09,507.32 L402.42,507.33 L402.75,507.33 L403.07,507.33 L403.40,507.34 L403.73,507.34 L404.06,507.34 L404.38,507.35 L404.71,507.35 L405.04,507.35 L405.37,507.36 L405.69,507.36 L406.02,507.36 L406.35,507.37 L406.68,507.37 L407.00,507.38 L407.33,507.38 L407.66,507.38 L407.98,507.39 L408.31,507.39 L408.64,507.39 L408.97,507.40 L409.29,507.40 L409.62,507.40 L409.95,507.41 L410.28,507.41 L410.60,507.41 L410.93,507.42 L411.26,507.42 L411.59,507.42 L411.91,507.43 L412.24,507.43 L412.57,507.43 L412.90,507.44 L413.22,507.44 L413.55,507.44 L413.88,507.45 L414.21,507.45 L414.53,507.46 L414.86,507.46 L415.19,507.46 L415.51,507.47 L415.84,507.47 L416.17,507.47 L416.50,507.48 L416.82,507.48 L417.15,507.48 L417.48,507.49 L417.81,507.49 L418.13,507.49 L418.46,507.50 L418.79,507.50 L419.12,507.50 L419.44,507.51 L419.77,507.51 L420.10,507.52 L420.43,507.52 L420.75,507.52 L421.08,507.53 L421.41,507.53 L421.73,507.53 L422.06,507.54 L422.39,507.54 L422.72,507.54 L423.04,507.55 L423.37,507.55 L423.70,507.55 L424.03,507.56 L424.35,507.56 L424.68,507.57 L425.01,507.57 L425.34,507.57 L425.66,507.58 L425.99,507.58 L426.32,507.58 L426.65,507.59 L426.97,507.59 L427.30,507.59 L427.63,507.60 L427.95,507.60 L428.28,507.61 L428.61,507.61 L428.94,507.61 L429.26,507.62 L429.59,507.62 L429.92,507.62 L430.25,507.63 L430.57,507.63 L430.90,507.63 L431.23,507.64 L431.56,507.64 L431.88,507.65 L432.21,507.65 L432.54,507.65 L432.86,507.66 L433.19,507.66 L433.52,507.66 L433.85,507.67 L434.17,507.67 L434.50,507.67 L434.83,507.68 L435.16,507.68 L435.48,507.69 L435.81,507.69 L436.14,507.69 L436.47,507.70 L436.79,507.70 L437.12,507.70 L437.45,507.71 L437.78,507.71 L438.10,507.71 L438.43,507.72 L438.76,507.72 L439.08,507.73 L439.41,507.73 L439.74,507.73 L440.07,507.74 L440.39,507.74 L440.72,507.74 L441.05,507.75 L441.38,507.75 L441.70,507.76 L442.03,507.76 L442.36,507.76 L442.69,507.77 L443.01,507.77 L443.34,507.77 L443.67,507.78 L443.99,507.78 L444.32,507.78 L444.65,507.79 L444.98,507.79 L445.30,507.80 L445.63,507.80 L445.96,507.80 L446.29,507.81 L446.61,507.81 L446.94,507.81 L447.27,507.82 L447.60,507.82 L447.92,507.83 L448.25,507.83 L448.58,507.83 L448.91,507.84 L449.23,507.84 L449.56,507.84 L449.89,507.85 L450.21,507.85 L450.54,507.86 L450.87,507.86 L451.20,507.86 L451.52,507.87 L451.85,507.87 L452.18,507.87 L452.51,507.88 L452.83,507.88 L453.16,507.89 L453.49,507.89 L453.82,507.89 L454.14,507.90 L454.47,507.90 L454.80,507.90 L455.12,507.91 L455.45,507.91 L455.78,507.91 L456.11,507.92 L456.43,507.92 L456.76,507.93 L457.09,507.93 L457.42,507.93 L457.74,507.94 L458.07,507.94 L458.40,507.94 L458.73,507.95 L459.05,507.95 L459.38,507.96 L459.71,507.96 L460.03,507.96 L460.36,507.97 L460.69,507.97 L461.02,507.97 L461.34,507.98 L461.67,507.98 L462.00,507.99 L462.33,507.99 L462.65,507.99 L462.98,508.00 L463.31,508.00 L463.64,508.00 L463.96,508.01 L464.29,508.01 L464.62,508.02 L464.94,508.02 L465.27,508.02 L465.60,508.03 L465.93,508.03 L466.25,508.03 L466.58,508.04 L466.91,508.04 L467.24,508.04 L467.56,508.05 L467.89,508.05 L468.22,508.06 L468.55,508.06 L468.87,508.06 L469.20,508.07 L469.53,508.07 L469.85,508.07 L470.18,508.08 L470.51,508.08 L470.84,508.09 L471.16,508.09 L471.49,508.09 L471.82,508.10 L472.15,508.10 L472.47,508.10 L472.80,508.11 L473.13,508.11 L473.46,508.12 L473.78,508.12 L474.11,508.12 L474.44,508.13 L474.76,508.13 L475.09,508.13 L475.42,508.14 L475.75,508.14 L476.07,508.15 L476.40,508.15 L476.73,508.15 L477.06,508.16 L477.38,508.16 L477.71,508.16 L478.04,508.17 L478.37,508.17 L478.69,508.17 L479.02,508.18 L479.35,508.18 L479.68,508.19 L480.00,508.19 L480.33,508.19 L480.66,508.20 L480.98,508.20 L481.31,508.20 L481.64,508.21 L481.97,508.21 L482.29,508.22 L482.62,508.22 L482.95,508.22 L483.28,508.23 L483.60,508.23 L483.93,508.23 L484.26,508.24 L484.59,508.24 L484.91,508.24 L485.24,508.25 L485.57,508.25 L485.89,508.26 L486.22,508.26 L486.55,508.26 L486.88,508.27 L487.20,508.27 L487.53,508.27 L487.86,508.28 L488.19,508.28 L488.51,508.29 L488.84,508.29 L489.17,508.29 L489.50,508.30 L489.82,508.30 L490.15,508.30 L490.48,508.31 L490.80,508.31 L491.13,508.31 L491.46,508.32 L491.79,508.32 L492.11,508.33 L492.44,508.33 L492.77,508.33 L493.10,508.34 L493.42,508.34 L493.75,508.34 L494.08,508.35 L494.41,508.35 L494.73,508.35 L495.06,508.36 L495.39,508.36 L495.71,508.36 L496.04,508.37 L496.37,508.37 L496.70,508.38 L497.02,508.38 L497.35,508.38 L497.68,508.39 L498.01,508.39 L498.33,508.39 L498.66,508.40 L498.99,508.40 L499.32,508.40 L499.64,508.41 L499.97,508.41 L500.30,508.42 L500.62,508.42 L500.95,508.42 L501.28,508.43 L501.61,508.43 L501.93,508.43 L502.26,508.44 L502.59,508.44 L502.92,508.44 L503.24,508.45 L503.57,508.45 L503.90,508.45 L504.23,508.46 L504.55,508.46 L504.88,508.47 L505.21,508.47 L505.54,508.47 L505.86,508.48 L506.19,508.48 L506.52,508.48 L506.84,508.49 L507.17,508.49 L507.50,508.49 L507.83,508.50 L508.15,508.50 L508.48,508.50 L508.81,508.51 L509.14,508.51 L509.46,508.51 L509.79,508.52 L510.12,508.52 L510.45,508.53 L510.77,508.53 L511.10,508.53 L511.43,508.54 L511.75,508.54 L512.08,508.54 L512.41,508.55 L512.74,508.55 L513.06,508.55 L513.39,508.56 L513.72,508.56 L514.05,508.56 L514.37,508.57 L514.70,508.57 L515.03,508.57 L515.36,508.58 L515.68,508.58 L516.01,508.58 L516.34,508.59 L516.67,508.59 L516.99,508.59 L517.32,508.60 L517.65,508.60 L517.97,508.60 L518.30,508.61 L518.63,508.61 L518.96,508.62 L519.28,508.62 L519.61,508.62 L519.94,508.63 L520.27,508.63 L520.59,508.63 L520.92,508.64 L521.25,508.64 L521.58,508.64 L521.90,508.65 L522.23,508.65 L522.56,508.65 L522.88,508.66 L523.21,508.66 L523.54,508.66 L523.87,508.67 L524.19,508.67 L524.52,508.67 L524.85,508.68 L525.18,508.68 L525.50,508.68 L525.83,508.69 L526.16,508.69 L526.49,508.69 L526.81,508.70 L527.14,508.70 L527.47,508.70 L527.80,508.71 L528.12,508.71 L528.45,508.71 L528.78,508.72 L529.10,508.72 L529.43,508.72 L529.76,508.73 L530.09,508.73 L530.41,508.73 L530.74,508.74 L531.07,508.74 L531.40,508.74 L531.72,508.75 L532.05,508.75 L532.38,508.75 L532.71,508.76 L533.03,508.76 L533.36,508.76 L533.69,508.77 L534.02,508.77 L534.34,508.77 L534.67,508.78 L535.00,508.78 L535.33,508.78 L535.65,508.78 L535.98,508.79 L536.31,508.79 L536.63,508.79 L536.96,508.80 L537.29,508.80 L537.62,508.80 L537.94,508.81 L538.27,508.81 L538.60,508.81 L538.93,508.82 L539.25,508.82 L539.58,508.82 L539.91,508.83 L540.24,508.83 L540.56,508.83 L540.89,508.84 L541.22,508.84 L541.55,508.84 L541.87,508.85 L542.20,508.85 L542.53,508.85 L542.85,508.85 L543.18,508.86 L543.51,508.86 L543.84,508.86 L544.16,508.87 L544.49,508.87 L544.82,508.87 L545.15,508.88 L545.47,508.88 L545.80,508.88 L546.13,508.89 L546.46,508.89 L546.78,508.89 L547.11,508.89 L547.44,508.90 L547.77,508.90 L548.09,508.90 L548.42,508.91 L548.75,508.91 L549.08,508.91 L549.40,508.92 L549.73,508.92 L550.06,508.92 L550.38,508.92 L550.71,508.93 L551.04,508.93 L551.37,508.93 L551.69,508.94 L552.02,508.94 L552.35,508.94 L552.68,508.95 L553.00,508.95 L553.33,508.95 L553.66,508.95 L553.99,508.96 L554.31,508.96 L554.64,508.96 L554.97,508.97 L555.30,508.97 L555.62,508.97 L555.95,508.98 L556.28,508.98 L556.61,508.98 L556.93,508.98 L557.26,508.99 L557.59,508.99 L557.92,508.99 L558.24,509.00 L558.57,509.00 L558.90,509.00 L559.22,509.00 L559.55,509.01 L559.88,509.01 L560.21,509.01 L560.53,509.02 L560.86,509.02 L561.19,509.02 L561.52,509.02 L561.84,509.03 L562.17,509.03 L562.50,509.03 L562.83,509.03 L563.15,509.04 L563.48,509.04 L563.81,509.04 L564.14,509.05 L564.46,509.05 L564.79,509.05 L565.12,509.05 L565.45,509.06 L565.77,509.06 L566.10,509.06 L566.43,509.07 L566.76,509.07 L567.08,509.07 L567.41,509.07 L567.74,509.08 L568.07,509.08 L568.39,509.08 L568.72,509.08 L569.05,509.09 L569.38,509.09 L569.70,509.09 L570.03,509.09 L570.36,509.10 L570.68,509.10 L571.01,509.10 L571.34,509.11 L571.67,509.11 L571.99,509.11 L572.32,509.11 L572.65,509.12 L572.98,509.12 L573.30,509.12 L573.63,509.12 L573.96,509.13 L574.29,509.13 L574.61,509.13 L574.94,509.13 L575.27,509.14 L575.60,509.14 L575.92,509.14 L576.25,509.14 L576.58,509.15 L576.91,509.15 L577.23,509.15 L577.56,509.15 L577.89,509.16 L578.22,509.16 L578.54,509.16 L578.87,509.16 L579.20,509.17 L579.53,509.17 L579.85,509.17 L580.18,509.17 L580.51,509.18 L580.84,509.18 L581.16,509.18 L581.49,509.18 L581.82,509.19 L582.15,509.19 L582.47,509.19 L582.80,509.19 L583.13,509.20 L583.46,509.20 L583.78,509.20 L584.11,509.20 L584.44,509.20 L584.77,509.21 L585.09,509.21 L585.42,509.21 L585.75,509.21 L586.08,509.22 L586.40,509.22 L586.73,509.22 L587.06,509.22 L587.39,509.23 L587.71,509.23 L588.04,509.23 L588.37,509.23 L588.69,509.23 L589.02,509.24 L589.35,509.24 L589.68,509.24 L590.00,509.24 L590.33,509.25 L590.66,509.25 L590.99,509.25 L591.31,509.25 L591.64,509.25 L591.97,509.26 L592.30,509.26 L592.62,509.26 L592.95,509.26 L593.28,509.27 L593.61,509.27 L593.93,509.27 L594.26,509.27 L594.59,509.27 L594.92,509.28 L595.24,509.28 L595.57,509.28 L595.90,509.28 L596.23,509.28 L596.55,509.29 L596.88,509.29 L597.21,509.29 L597.54,509.29 L597.86,509.29 L598.19,509.30 L598.52,509.30 L598.85,509.30 L599.17,509.30 L599.50,509.30 L599.83,509.31 L600.16,509.31 L600.48,509.31 L600.81,509.31 L601.14,509.31 L601.47,509.32 L601.79,509.32 L602.12,509.32 L602.45,509.32 L602.78,509.32 L603.10,509.33 L603.43,509.33 L603.76,509.33 L604.09,509.33 L604.41,509.33 L604.74,509.34 L605.07,509.34 L605.40,509.34 L605.72,509.34 L606.05,509.34 L606.38,509.34 L606.71,509.35 L607.03,509.35 L607.36,509.35 L607.69,509.35 L608.02,509.35 L608.35,509.36 L608.67,509.36 L609.00,509.36 L609.33,509.36 L609.66,509.36 L609.98,509.36 L610.31,509.37 L610.64,509.37 L610.97,509.37 L611.29,509.37 L611.62,509.37 L611.95,509.37 L612.28,509.38 L612.60,509.38 L612.93,509.38 L613.26,509.38 L613.59,509.38 L613.91,509.38 L614.24,509.39 L614.57,509.39 L614.90,509.39 L615.22,509.39 L615.55,509.39 L615.88,509.39 L616.21,509.39 L616.53,509.40" fill="none" stroke="#0000ff" stroke-width="3.55" stroke-linejoin="round" stroke-linecap="round"/>
<path d="M81.00,16.40 L81.30,16.43 L81.61,16.46 L81.92,16.49 L82.23,16.51 L82.54,16.54 L82.85,16.56 L83.16,16.58 L83.47,16.59 L83.79,16.61 L84.11,16.62 L84.43,16.64 L84.74,16.65 L85.07,16.66 L85.39,16.67 L85.71,16.68 L86.03,16.69 L86.36,16.70 L86.68,16.70 L87.01,16.71 L87.34,16.72 L87.67,16.72 L88.00,16.73 L88.33,16.74 L88.66,16.75 L88.99,16.75 L89.32,16.76 L89.65,16.77 L89.98,16.78 L90.32,16.79 L90.65,16.80 L90.98,16.82 L91.32,16.83 L91.65,16.84 L91.99,16.86 L92.32,16.88 L92.65,16.90 L92.99,16.92 L93.32,16.95 L93.66,16.97 L93.99,17.00 L94.33,17.03 L94.66,17.06 L94.99,17.10 L95.33,17.14 L95.66,17.18 L95.99,17.22 L96.32,17.27 L96.66,17.32 L96.99,17.37 L97.32,17.43 L97.65,17.49 L97.98,17.55 L98.30,17.62 L98.63,17.69 L98.96,17.76 L99.29,17.84 L99.61,17.93 L99.93,18.02 L100.26,18.11 L100.58,18.21 L100.90,18.31 L101.22,18.41 L101.54,18.53 L101.86,18.64 L102.17,18.77 L102.49,18.89 L102.80,19.03 L103.11,19.16 L103.42,19.31 L103.73,19.46 L104.04,19.61 L104.34,19.78 L104.65,19.94 L104.95,20.12 L105.25,20.30 L105.55,20.49 L105.84,20.68 L106.14,20.88 L106.43,21.09 L106.72,21.30 L107.01,21.52 L107.30,21.75 L107.58,21.98 L107.86,22.22 L108.14,22.46 L108.42,22.71 L108.70,22.97 L108.97,23.23 L109.24,23.50 L109.51,23.77 L109.77,24.05 L110.03,24.34 L110.29,24.63 L110.55,24.93 L110.80,25.23 L111.06,25.53 L111.30,25.84 L111.55,26.16 L111.79,26.48 L112.03,26.81 L112.27,27.14 L112.50,27.48 L112.73,27.82 L112.96,28.17 L113.18,28.52 L113.40,28.87 L113.61,29.23 L113.83,29.59 L114.04,29.96 L114.24,30.33 L114.44,30.71 L114.64,31.09 L114.84,31.47 L115.03,31.86 L115.21,32.25 L115.40,32.65 L115.58,33.05 L115.75,33.45 L115.92,33.86 L116.09,34.27 L116.25,34.68 L116.41,35.10 L116.56,35.52 L116.71,35.94 L116.86,36.36 L117.00,36.79 L117.14,37.22 L117.27,37.66 L117.40,38.10 L117.52,38.54 L117.65,38.98 L117.77,39.42 L117.88,39.87 L117.99,40.32 L118.10,40.77 L118.20,41.23 L118.30,41.68 L118.40,42.14 L118.50,42.61 L118.59,43.07 L118.68,43.53 L118.76,44.00 L118.85,44.47 L118.93,44.94 L119.01,45.41 L119.08,45.89 L119.15,46.37 L119.22,46.84 L119.29,47.32 L119.36,47.80 L119.42,48.28 L119.48,48.77 L119.54,49.25 L119.60,49.74 L119.65,50.22 L119.71,50.71 L119.76,51.20 L119.81,51.69 L119.86,52.18 L119.91,52.67 L119.95,53.16 L120.00,53.65 L120.04,54.14 L120.08,54.64 L120.12,55.13 L120.16,55.62 L120.20,56.12 L120.24,56.61 L120.28,57.10 L120.32,57.60 L120.35,58.09 L120.39,58.59 L120.42,59.08 L120.46,59.58 L120.49,60.07 L120.53,60.56 L120.56,61.06 L120.59,61.55 L120.63,62.04 L120.66,62.54 L120.69,63.03 L120.72,63.52 L120.75,64.01 L120.78,64.50 L120.81,65.00 L120.84,65.49 L120.87,65.98 L120.90,66.47 L120.93,66.96 L120.96,67.45 L120.99,67.95 L121.01,68.44 L121.04,68.93 L121.07,69.42 L121.10,69.91 L121.12,70.40 L121.15,70.89 L121.17,71.38 L121.20,71.87 L121.22,72.36 L121.25,72.85 L121.27,73.34 L121.30,73.83 L121.32,74.32 L121.34,74.81 L121.37,75.29 L121.39,75.78 L121.41,76.27 L121.43,76.76 L121.46,77.25 L121.48,77.74 L121.50,78.23 L121.52,78.71 L121.54,79.20 L121.56,79.69 L121.58,80.18 L121.60,80.67 L121.62,81.15 L121.64,81.64 L121.66,82.13 L121.68,82.62 L121.70,83.10 L121.72,83.59 L121.73,84.08 L121.75,84.57 L121.77,85.05 L121.79,85.54 L121.80,86.03 L121.82,86.51 L121.84,87.00 L121.86,87.49 L121.87,87.97 L121.89,88.46 L121.90,88.95 L121.92,89.43 L121.93,89.92 L121.95,90.41 L121.97,90.89 L121.98,91.38 L121.99,91.87 L122.01,92.35 L122.02,92.84 L122.04,93.32 L122.05,93.81 L122.07,94.30 L122.08,94.78 L122.09,95.27 L122.11,95.75 L122.12,96.24 L122.13,96.73 L122.15,97.21 L122.16,97.70 L122.17,98.18 L122.18,98.67 L122.20,99.15 L122.21,99.64 L122.22,100.13 L122.23,100.61 L122.24,101.10 L122.26,101.58 L122.27,102.07 L122.28,102.55 L122.29,103.04 L122.30,103.53 L122.31,104.01 L122.32,104.50 L122.33,104.98 L122.35,105.47 L122.36,105.95 L122.37,106.44 L122.38,106.92 L122.39,107.41 L122.40,107.90 L122.41,108.38 L122.42,108.87 L122.43,109.35 L122.44,109.84 L122.45,110.32 L122.46,110.81 L122.47,111.30 L122.48,111.78 L122.49,112.27 L122.50,112.75 L122.51,113.24 L122.52,113.73 L122.53,114.21 L122.54,114.70 L122.55,115.18 L122.56,115.67 L122.57,116.16 L122.58,116.64 L122.59,117.13 L122.60,117.62 L122.61,118.10 L122.62,118.59 L122.63,119.07 L122.64,119.56 L122.64,120.05 L122.65,120.53 L122.66,121.02 L122.67,121.51 L122.68,121.99 L122.69,122.48 L122.70,122.97 L122.71,123.45 L122.72,123.94 L122.73,124.43 L122.74,124.91 L122.74,125.40 L122.75,125.89 L122.76,126.37 L122.77,126.86 L122.78,127.35 L122.79,127.83 L122.80,128.32 L122.80,128.81 L122.81,129.29 L122.82,129.78 L122.83,130.27 L122.84,130.75 L122.85,131.24 L122.85,131.73 L122.86,132.22 L122.87,132.70 L122.88,133.19 L122.89,133.68 L122.90,134.16 L122.90,134.65 L122.91,135.14 L122.92,135.63 L122.93,136.11 L122.93,136.60 L122.94,137.09 L122.95,137.57 L122.96,138.06 L122.97,138.55 L122.97,139.04 L122.98,139.52 L122.99,140.01 L123.00,140.50 L123.00,140.99 L123.01,141.47 L123.02,141.96 L123.03,142.45 L123.03,142.94 L123.04,143.42 L123.05,143.91 L123.06,144.40 L123.06,144.89 L123.07,145.37 L123.08,145.86 L123.08,146.35 L123.09,146.84 L123.10,147.32 L123.11,147.81 L123.11,148.30 L123.12,148.79 L123.13,149.28 L123.13,149.76 L123.14,150.25 L123.15,150.74 L123.15,151.23 L123.16,151.72 L123.17,152.20 L123.17,152.69 L123.18,153.18 L123.19,153.67 L123.19,154.15 L123.20,154.64 L123.21,155.13 L123.21,155.62 L123.22,156.11 L123.23,156.60 L123.23,157.08 L123.24,157.57 L123.24,158.06 L123.25,158.55 L123.26,159.04 L123.26,159.52 L123.27,160.01 L123.28,160.50 L123.28,160.99 L123.29,161.48 L123.29,161.96 L123.30,162.45 L123.31,162.94 L123.31,163.43 L123.32,163.92 L123.32,164.41 L123.33,164.89 L123.34,165.38 L123.34,165.87 L123.35,166.36 L123.35,166.85 L123.36,167.34 L123.36,167.82 L123.37,168.31 L123.38,168.80 L123.38,169.29 L123.39,169.78 L123.39,170.27 L123.40,170.75 L123.40,171.24 L123.41,171.73 L123.41,172.22 L123.42,172.71 L123.42,173.20 L123.43,173.69 L123.44,174.17 L123.44,174.66 L123.45,175.15 L123.45,175.64 L123.46,176.13 L123.46,176.62 L123.47,177.11 L123.47,177.59 L123.48,178.08 L123.48,178.57 L123.49,179.06 L123.49,179.55 L123.50,180.04 L123.50,180.53 L123.51,181.01 L123.51,181.50 L123.52,181.99 L123.52,182.48 L123.53,182.97 L123.53,183.46 L123.54,183.95 L123.54,184.44 L123.55,184.92 L123.55,185.41 L123.56,185.90 L123.56,186.39 L123.56,186.88 L123.57,187.37 L123.57,187.86 L123.58,188.35 L123.58,188.83 L123.59,189.32 L123.59,189.81 L123.60,190.30 L123.60,190.79 L123.61,191.28 L123.61,191.77 L123.61,192.26 L123.62,192.74 L123.62,193.23 L123.63,193.72 L123.63,194.21 L123.64,194.70 L123.64,195.19 L123.65,195.68 L123.65,196.17 L123.65,196.66 L123.66,197.14 L123.66,197.63 L123.67,198.12 L123.67,198.61 L123.67,199.10 L123.68,199.59 L123.68,200.08 L123.69,200.57 L123.69,201.06 L123.70,201.54 L123.70,202.03 L123.70,202.52 L123.71,203.01 L123.71,203.50 L123.72,203.99 L123.72,204.48 L123.72,204.97 L123.73,205.46 L123.73,205.94 L123.73,206.43 L123.74,206.92 L123.74,207.41 L123.75,207.90 L123.75,208.39 L123.75,208.88 L123.76,209.37 L123.76,209.86 L123.77,210.34 L123.77,210.83 L123.77,211.32 L123.78,211.81 L123.78,212.30 L123.78,212.79 L123.79,213.28 L123.79,213.77 L123.80,214.25 L123.80,214.74 L123.80,215.23 L123.81,215.72 L123.81,216.21 L123.81,216.70 L123.82,217.19 L123.82,217.68 L123.82,218.17 L123.83,218.65 L123.83,219.14 L123.83,219.63 L123.84,220.12 L123.84,220.61 L123.84,221.10 L123.85,221.59 L123.85,222.08 L123.86,222.56 L123.86,223.05 L123.86,223.54 L123.87,224.03 L123.87,224.52 L123.87,225.01 L123.88,225.50 L123.88,225.99 L123.88,226.47 L123.89,226.96 L123.89,227.45 L123.89,227.94 L123.90,228.43 L123.90,228.92 L123.90,229.41 L123.91,229.90 L123.91,230.38 L123.91,230.87 L123.92,231.36 L123.92,231.85 L123.92,232.34 L123.93,232.83 L123.93,233.32 L123.93,233.80 L123.93,234.29 L123.94,234.78 L123.94,235.27 L123.94,235.76 L123.95,236.25 L123.95,236.74 L123.95,237.22 L123.96,237.71 L123.96,238.20 L123.96,238.69 L123.97,239.18 L123.97,239.67 L123.97,240.16 L123.98,240.64 L123.98,241.13 L123.98,241.62 L123.99,242.11 L123.99,242.60 L123.99,243.09 L123.99,243.58 L124.00,244.06 L124.00,244.55 L124.00,245.04 L124.01,245.53 L124.01,246.02 L124.01,246.51 L124.02,246.99 L124.02,247.48 L124.02,247.97 L124.03,248.46 L124.03,248.95 L124.03,249.44 L124.04,249.92 L124.04,250.41 L124.04,250.90 L124.05,251.39 L124.05,251.88 L124.05,252.37 L124.06,252.85 L124.06,253.34 L124.06,253.83 L124.07,254.32 L124.07,254.81 L124.07,255.29 L124.07,255.78 L124.08,256.27 L124.08,256.76 L124.08,257.25 L124.09,257.74 L124.09,258.22 L124.10,258.71 L124.10,259.20 L124.10,259.69 L124.11,260.18 L124.11,260.66 L124.11,261.15 L124.12,261.64 L124.12,262.13 L124.12,262.62 L124.13,263.10 L124.13,263.59 L124.13,264.08 L124.14,264.57 L124.14,265.06 L124.14,265.54 L124.15,266.03 L124.15,266.52 L124.16,267.01 L124.16,267.50 L124.16,267.98 L124.17,268.47 L124.17,268.96 L124.18,269.45 L124.18,269.94 L124.18,270.42 L124.19,270.91 L124.19,271.40 L124.20,271.89 L124.20,272.38 L124.20,272.86 L124.21,273.35 L124.21,273.84 L124.22,274.33 L124.22,274.82 L124.22,275.30 L124.23,275.79 L124.23,276.28 L124.24,276.77 L124.24,277.26 L124.25,277.74 L124.25,278.23 L124.26,278.72 L124.26,279.21 L124.26,279.69 L124.27,280.18 L124.27,280.67 L124.28,281.16 L124.28,281.65 L124.29,282.13 L124.29,282.62 L124.30,283.11 L124.30,283.60 L124.31,284.08 L124.31,284.57 L124.32,285.06 L124.32,285.55 L124.33,286.04 L124.33,286.52 L124.34,287.01 L124.34,287.50 L124.35,287.99 L124.36,288.47 L124.36,288.96 L124.37,289.45 L124.37,289.94 L124.38,290.43 L124.38,290.91 L124.39,291.40 L124.39,291.89 L124.40,292.38 L124.41,292.86 L124.41,293.35 L124.42,293.84 L124.42,294.33 L124.43,294.81 L124.44,295.30 L124.44,295.79 L124.45,296.28 L124.45,296.76 L124.46,297.25 L124.47,297.74 L124.47,298.23 L124.48,298.71 L124.49,299.20 L124.49,299.69 L124.50,300.18 L124.51,300.67 L124.51,301.15 L124.52,301.64 L124.53,302.13 L124.54,302.62 L124.54,303.10 L124.55,303.59 L124.56,304.08 L124.56,304.57 L124.57,305.05 L124.58,305.54 L124.59,306.03 L124.59,306.52 L124.60,307.00 L124.61,307.49 L124.62,307.98 L124.62,308.47 L124.63,308.95 L124.64,309.44 L124.65,309.93 L124.66,310.42 L124.66,310.90 L124.67,311.39 L124.68,311.88 L124.69,312.37 L124.70,312.85 L124.71,313.34 L124.72,313.83 L124.72,314.32 L124.73,314.80 L124.74,315.29 L124.75,315.78 L124.76,316.26 L124.77,316.75 L124.78,317.24 L124.79,317.73 L124.80,318.21 L124.81,318.70 L124.82,319.19 L124.82,319.68 L124.83,320.16 L124.84,320.65 L124.85,321.14 L124.86,321.63 L124.87,322.11 L124.88,322.60 L124.89,323.09 L124.90,323.58 L124.91,324.06 L124.92,324.55 L124.94,325.04 L124.95,325.53 L124.96,326.01 L124.97,326.50 L124.98,326.99 L124.99,327.47 L125.00,327.96 L125.01,328.45 L125.02,328.94 L125.03,329.42 L125.05,329.91 L125.06,330.40 L125.07,330.89 L125.08,331.37 L125.09,331.86 L125.10,332.35 L125.12,332.84 L125.13,333.32 L125.14,333.81 L125.15,334.30 L125.16,334.78 L125.18,335.27 L125.19,335.76 L125.20,336.25 L125.21,336.73 L125.23,337.22 L125.24,337.71 L125.25,338.20 L125.27,338.68 L125.28,339.17 L125.29,339.66 L125.31,340.14 L125.32,340.63 L125.33,341.12 L125.35,341.61 L125.36,342.09 L125.38,342.58 L125.39,343.07 L125.40,343.56 L125.42,344.04 L125.43,344.53 L125.45,345.02 L125.46,345.50 L125.48,345.99 L125.49,346.48 L125.51,346.97 L125.52,347.45 L125.54,347.94 L125.55,348.43 L125.57,348.92 L125.58,349.40 L125.60,349.89 L125.61,350.38 L125.63,350.86 L125.65,351.35 L125.66,351.84 L125.68,352.33 L125.69,352.81 L125.71,353.30 L125.73,353.79 L125.74,354.28 L125.76,354.76 L125.78,355.25 L125.79,355.74 L125.81,356.22 L125.83,356.71 L125.85,357.20 L125.86,357.69 L125.88,358.17 L125.90,358.66 L125.92,359.15 L125.94,359.63 L125.95,360.12 L125.97,360.61 L125.99,361.10 L126.01,361.58 L126.03,362.07 L126.05,362.56 L126.06,363.05 L126.08,363.53 L126.10,364.02 L126.12,364.51 L126.14,364.99 L126.16,365.48 L126.18,365.97 L126.20,366.46 L126.22,366.94 L126.24,367.43 L126.26,367.92 L126.28,368.40 L126.30,368.89 L126.32,369.38 L126.34,369.87 L126.36,370.35 L126.38,370.84 L126.41,371.33 L126.43,371.82 L126.45,372.30 L126.47,372.79 L126.49,373.28 L126.51,373.76 L126.54,374.25 L126.56,374.74 L126.58,375.23 L126.60,375.71 L126.62,376.20 L126.65,376.69 L126.67,377.18 L126.69,377.66 L126.72,378.15 L126.74,378.64 L126.76,379.12 L126.79,379.61 L126.81,380.10 L126.83,380.59 L126.86,381.07 L126.88,381.56 L126.91,382.05 L126.93,382.53 L126.96,383.02 L126.98,383.51 L127.00,384.00 L127.03,384.48 L127.05,384.97 L127.08,385.46 L127.11,385.95 L127.13,386.43 L127.16,386.92 L127.18,387.41 L127.21,387.89 L127.24,388.38 L127.26,388.87 L127.29,389.36 L127.32,389.84 L127.34,390.33 L127.37,390.82 L127.40,391.31 L127.42,391.79 L127.45,392.28 L127.48,392.77 L127.51,393.25 L127.53,393.74 L127.56,394.23 L127.59,394.72 L127.62,395.20 L127.65,395.69 L127.68,396.18 L127.71,396.67 L127.73,397.15 L127.76,397.64 L127.79,398.13 L127.82,398.61 L127.85,399.10 L127.88,399.59 L127.91,400.08 L127.94,400.56 L127.97,401.05 L128.00,401.54 L128.03,402.03 L128.07,402.51 L128.10,403.00 L128.13,403.49 L128.16,403.98 L128.19,404.46 L128.22,404.95 L128.25,405.44 L128.29,405.92 L128.32,406.41 L128.35,406.90 L128.38,407.39 L128.42,407.87 L128.45,408.36 L128.48,408.85 L128.52,409.34 L128.55,409.82 L128.58,410.31 L128.62,410.80 L128.65,411.29 L128.69,411.77 L128.72,412.26 L128.76,412.75 L128.79,413.24 L128.83,413.72 L128.86,414.21 L128.90,414.70 L128.93,415.18 L128.97,415.67 L129.00,416.16 L129.04,416.65 L129.08,417.13 L129.11,417.62 L129.15,418.11 L129.19,418.60 L129.22,419.08 L129.26,419.57 L129.30,420.06 L129.33,420.55 L129.37,421.03 L129.41,421.52 L129.45,422.01 L129.49,422.50 L129.53,422.98 L129.56,423.47 L129.60,423.96 L129.64,424.44 L129.68,424.93 L129.73,425.42 L129.77,425.90 L129.81,426.39 L129.85,426.88 L129.89,427.36 L129.94,427.85 L129.98,428.34 L130.03,428.82 L130.07,429.31 L130.12,429.79 L130.16,430.27 L130.21,430.76 L130.26,431.24 L130.31,431.73 L130.36,432.21 L130.41,432.69 L130.46,433.18 L130.51,433.66 L130.56,434.14 L130.62,434.62 L130.67,435.10 L130.73,435.58 L130.79,436.06 L130.85,436.54 L130.90,437.02 L130.97,437.50 L131.03,437.98 L131.09,438.45 L131.15,438.93 L131.22,439.41 L131.29,439.88 L131.35,440.36 L131.42,440.83 L131.49,441.30 L131.56,441.78 L131.64,442.25 L131.71,442.72 L131.79,443.19 L131.87,443.66 L131.94,444.13 L132.02,444.60 L132.11,445.07 L132.19,445.53 L132.27,446.00 L132.36,446.47 L132.45,446.93 L132.54,447.40 L132.63,447.86 L132.73,448.32 L132.82,448.78 L132.92,449.24 L133.02,449.70 L133.12,450.16 L133.22,450.62 L133.32,451.07 L133.43,451.53 L133.54,451.98 L133.65,452.44 L133.76,452.89 L133.88,453.34 L133.99,453.79 L134.11,454.24 L134.23,454.69 L134.35,455.14 L134.48,455.58 L134.61,456.03 L134.74,456.47 L134.87,456.91 L135.00,457.36 L135.14,457.80 L135.27,458.23 L135.42,458.67 L135.56,459.11 L135.70,459.54 L135.85,459.98 L136.00,460.41 L136.16,460.84 L136.31,461.27 L136.47,461.70 L136.63,462.13 L136.79,462.55 L136.96,462.98 L137.13,463.40 L137.30,463.82 L137.47,464.24 L137.64,464.65 L137.82,465.06 L138.00,465.48 L138.18,465.88 L138.37,466.29 L138.56,466.69 L138.75,467.09 L138.94,467.49 L139.14,467.89 L139.33,468.28 L139.53,468.67 L139.74,469.06 L139.94,469.44 L140.15,469.82 L140.36,470.20 L140.57,470.57 L140.79,470.94 L141.01,471.31 L141.23,471.67 L141.45,472.03 L141.68,472.38 L141.90,472.73 L142.14,473.08 L142.37,473.42 L142.60,473.76 L142.84,474.10 L143.08,474.43 L143.33,474.75 L143.57,475.07 L143.82,475.39 L144.07,475.70 L144.33,476.01 L144.58,476.31 L144.84,476.61 L145.10,476.90 L145.37,477.18 L145.63,477.47 L145.90,477.74 L146.17,478.01 L146.45,478.28 L146.72,478.54 L147.00,478.79 L147.28,479.04 L147.56,479.29 L147.85,479.53 L148.13,479.77 L148.42,480.00 L148.71,480.23 L149.00,480.46 L149.30,480.68 L149.59,480.90 L149.89,481.12 L150.18,481.33 L150.48,481.54 L150.78,481.74 L151.08,481.95 L151.39,482.15 L151.69,482.34 L151.99,482.54 L152.29,482.73 L152.60,482.92 L152.90,483.11 L153.21,483.30 L153.52,483.48 L153.82,483.67 L154.13,483.85 L154.44,484.03 L154.74,484.21 L155.05,484.39 L155.36,484.56 L155.66,484.74 L155.97,484.91 L156.28,485.09 L156.59,485.26 L156.89,485.43 L157.20,485.60 L157.51,485.76 L157.82,485.93 L158.13,486.09 L158.44,486.26 L158.75,486.42 L159.06,486.58 L159.37,486.74 L159.67,486.90 L159.98,487.05 L160.29,487.21 L160.60,487.36 L160.91,487.51 L161.23,487.67 L161.54,487.82 L161.85,487.97 L162.16,488.11 L162.47,488.26 L162.78,488.40 L163.09,488.55 L163.40,488.69 L163.71,488.83 L164.03,488.97 L164.34,489.11 L164.65,489.25 L164.96,489.39 L165.27,489.52 L165.59,489.66 L165.90,489.79 L166.21,489.92 L166.53,490.05 L166.84,490.18 L167.15,490.31 L167.47,490.44 L167.78,490.57 L168.09,490.69 L168.41,490.82 L168.72,490.94 L169.04,491.06 L169.35,491.18 L169.66,491.30 L169.98,491.42 L170.29,491.54 L170.61,491.66 L170.92,491.77 L171.24,491.89 L171.55,492.00 L171.87,492.11 L172.18,492.22 L172.50,492.33 L172.82,492.44 L173.13,492.55 L173.45,492.66 L173.76,492.77 L174.08,492.87 L174.40,492.97 L174.71,493.08 L175.03,493.18 L175.35,493.28 L175.66,493.38 L175.98,493.48 L176.30,493.58 L176.62,493.68 L176.93,493.77 L177.25,493.87 L177.57,493.96 L177.89,494.06 L178.20,494.15 L178.52,494.24 L178.84,494.33 L179.16,494.42 L179.48,494.51 L179.79,494.60 L180.11,494.69 L180.43,494.78 L180.75,494.86 L181.07,494.95 L181.39,495.03 L181.71,495.11 L182.03,495.20 L182.35,495.28 L182.67,495.36 L182.99,495.44 L183.30,495.52 L183.62,495.60 L183.94,495.67 L184.26,495.75 L184.58,495.83 L184.90,495.90 L185.22,495.98 L185.54,496.05 L185.87,496.12 L186.19,496.19 L186.51,496.27 L186.83,496.34 L187.15,496.41 L187.47,496.47 L187.79,496.54 L188.11,496.61 L188.43,496.68 L188.75,496.74 L189.07,496.81 L189.40,496.87 L189.72,496.94 L190.04,497.00 L190.36,497.07 L190.68,497.13 L191.00,497.19 L191.32,497.25 L191.65,497.31 L191.97,497.37 L192.29,497.43 L192.61,497.49 L192.94,497.54 L193.26,497.60 L193.58,497.66 L193.90,497.71 L194.22,497.77 L194.55,497.82 L194.87,497.88 L195.19,497.93 L195.52,497.98 L195.84,498.04 L196.16,498.09 L196.48,498.14 L196.81,498.19 L197.13,498.24 L197.45,498.29 L197.78,498.34 L198.10,498.39 L198.42,498.44 L198.75,498.48 L199.07,498.53 L199.39,498.58 L199.72,498.62 L200.04,498.67 L200.36,498.71 L200.69,498.76 L201.01,498.80 L201.34,498.85 L201.66,498.89 L201.98,498.93 L202.31,498.98 L202.63,499.02 L202.96,499.06 L203.28,499.10 L203.60,499.14 L203.93,499.18 L204.25,499.22 L204.58,499.26 L204.90,499.30 L205.23,499.34 L205.55,499.38 L205.87,499.42 L206.20,499.46 L206.52,499.49 L206.85,499.53 L207.17,499.57 L207.50,499.60 L207.82,499.64 L208.15,499.67 L208.47,499.71 L208.80,499.75 L209.12,499.78 L209.45,499.82 L209.77,499.85 L210.10,499.88 L210.42,499.92 L210.75,499.95 L211.07,499.98 L211.40,500.02 L211.72,500.05 L212.05,500.08 L212.37,500.11 L212.70,500.15 L213.02,500.18 L213.35,500.21 L213.67,500.24 L214.00,500.27 L214.32,500.30 L214.65,500.33 L214.97,500.36 L215.30,500.40 L215.62,500.43 L215.95,500.46 L216.27,500.49 L216.60,500.52 L216.92,500.55 L217.25,500.57 L217.57,500.60 L217.90,500.63 L218.22,500.66 L218.55,500.69 L218.88,500.72 L219.20,500.75 L219.53,500.78 L219.85,500.81 L220.18,500.84 L220.50,500.86 L220.83,500.89 L221.15,500.92 L221.48,500.95 L221.80,500.98 L222.13,501.01 L222.45,501.03 L222.78,501.06 L223.10,501.09 L223.43,501.12 L223.76,501.14 L224.08,501.17 L224.41,501.20 L224.73,501.23 L225.06,501.26 L225.38,501.28 L225.71,501.31 L226.03,501.34 L226.36,501.36 L226.68,501.39 L227.01,501.42 L227.33,501.45 L227.66,501.47 L227.98,501.50 L228.31,501.53 L228.64,501.55 L228.96,501.58 L229.29,501.61 L229.61,501.63 L229.94,501.66 L230.26,501.68 L230.59,501.71 L230.91,501.74 L231.24,501.76 L231.56,501.79 L231.89,501.81 L232.21,501.84 L232.54,501.87 L232.86,501.89 L233.19,501.92 L233.52,501.94 L233.84,501.97 L234.17,501.99 L234.49,502.02 L234.82,502.04 L235.14,502.07 L235.47,502.09 L235.79,502.12 L236.12,502.14 L236.44,502.17 L236.77,502.19 L237.09,502.22 L237.42,502.24 L237.74,502.27 L238.07,502.29 L238.40,502.32 L238.72,502.34 L239.05,502.37 L239.37,502.39 L239.70,502.41 L240.02,502.44 L240.35,502.46 L240.67,502.49 L241.00,502.51 L241.32,502.53 L241.65,502.56 L241.97,502.58 L242.30,502.60 L242.62,502.63 L242.95,502.65 L243.28,502.67 L243.60,502.70 L243.93,502.72 L244.25,502.74 L244.58,502.77 L244.90,502.79 L245.23,502.81 L245.55,502.84 L245.88,502.86 L246.20,502.88 L246.53,502.90 L246.85,502.93 L247.18,502.95 L247.50,502.97 L247.83,502.99 L248.16,503.02 L248.48,503.04 L248.81,503.06 L249.13,503.08 L249.46,503.11 L249.78,503.13 L250.11,503.15 L250.43,503.17 L250.76,503.19 L251.08,503.22 L251.41,503.24 L251.73,503.26 L252.06,503.28 L252.38,503.30 L252.71,503.32 L253.04,503.34 L253.36,503.37 L253.69,503.39 L254.01,503.41 L254.34,503.43 L254.66,503.45 L254.99,503.47 L255.31,503.49 L255.64,503.51 L255.96,503.53 L256.29,503.55 L256.61,503.57 L256.94,503.60 L257.26,503.62 L257.59,503.64 L257.92,503.66 L258.24,503.68 L258.57,503.70 L258.89,503.72 L259.22,503.74 L259.54,503.76 L259.87,503.78 L260.19,503.80 L260.52,503.82 L260.84,503.84 L261.17,503.86 L261.49,503.88 L261.82,503.90 L262.14,503.91 L262.47,503.93 L262.80,503.95 L263.12,503.97 L263.45,503.99 L263.77,504.01 L264.10,504.03 L264.42,504.05 L264.75,504.07 L265.07,504.09 L265.40,504.11 L265.72,504.13 L266.05,504.14 L266.37,504.16 L266.70,504.18 L267.02,504.20 L267.35,504.22 L267.68,504.24 L268.00,504.26 L268.33,504.27 L268.65,504.29 L268.98,504.31 L269.30,504.33 L269.63,504.35 L269.95,504.36 L270.28,504.38 L270.60,504.40 L270.93,504.42 L271.25,504.44 L271.58,504.45 L271.90,504.47 L272.23,504.49 L272.56,504.51 L272.88,504.52 L273.21,504.54 L273.53,504.56 L273.86,504.58 L274.18,504.59 L274.51,504.61 L274.83,504.63 L275.16,504.64 L275.48,504.66 L275.81,504.68 L276.13,504.69 L276.46,504.71 L276.79,504.73 L277.11,504.75 L277.44,504.76 L277.76,504.78 L278.09,504.79 L278.41,504.81 L278.74,504.83 L279.06,504.84 L279.39,504.86 L279.71,504.88 L280.04,504.89 L280.36,504.91 L280.69,504.92 L281.01,504.94 L281.34,504.96 L281.67,504.97 L281.99,504.99 L282.32,505.00 L282.64,505.02 L282.97,505.04 L283.29,505.05 L283.62,505.07 L283.94,505.08 L284.27,505.10 L284.59,505.11 L284.92,505.13 L285.24,505.14 L285.57,505.16 L285.90,505.17 L286.22,505.19 L286.55,505.20 L286.87,505.22 L287.20,505.23 L287.52,505.25 L287.85,505.26 L288.17,505.28 L288.50,505.29 L288.82,505.31 L289.15,505.32 L289.47,505.34 L289.80,505.35 L290.12,505.37 L290.45,505.38 L290.78,505.39 L291.10,505.41 L291.43,505.42 L291.75,505.44 L292.08,505.45 L292.40,505.46 L292.73,505.48 L293.05,505.49 L293.38,505.51 L293.70,505.52 L294.03,505.53 L294.35,505.55 L294.68,505.56 L295.00,505.57 L295.33,505.59 L295.66,505.60 L295.98,505.62 L296.31,505.63 L296.63,505.64 L296.96,505.66 L297.28,505.67 L297.61,505.68 L297.93,505.69 L298.26,505.71 L298.58,505.72 L298.91,505.73 L299.23,505.75 L299.56,505.76 L299.89,505.77 L300.21,505.79 L300.54,505.80 L300.86,505.81 L301.19,505.82 L301.51,505.84 L301.84,505.85 L302.16,505.86 L302.49,505.87 L302.81,505.89 L303.14,505.90 L303.46,505.91 L303.79,505.92 L304.11,505.93 L304.44,505.95 L304.77,505.96 L305.09,505.97 L305.42,505.98 L305.74,505.99 L306.07,506.01 L306.39,506.02 L306.72,506.03 L307.04,506.04 L307.37,506.05 L307.69,506.06 L308.02,506.08 L308.34,506.09 L308.67,506.10 L309.00,506.11 L309.32,506.12 L309.65,506.13 L309.97,506.14 L310.30,506.16 L310.62,506.17 L310.95,506.18 L311.27,506.19 L311.60,506.20 L311.92,506.21 L312.25,506.22 L312.57,506.23 L312.90,506.24 L313.23,506.25 L313.55,506.26 L313.88,506.28 L314.20,506.29 L314.53,506.30 L314.85,506.31 L315.18,506.32 L315.50,506.33 L315.83,506.34 L316.15,506.35 L316.48,506.36 L316.80,506.37 L317.13,506.38 L317.45,506.39 L317.78,506.40 L318.11,506.41 L318.43,506.42 L318.76,506.43 L319.08,506.44 L319.41,506.45 L319.73,506.46 L320.06,506.47 L320.38,506.48 L320.71,506.49 L321.03,506.50 L321.36,506.51 L321.68,506.52 L322.01,506.53 L322.34,506.54 L322.66,506.55 L322.99,506.55 L323.31,506.56 L323.64,506.57 L323.96,506.58 L324.29,506.59 L324.61,506.60 L324.94,506.61 L325.26,506.62 L325.59,506.63 L325.91,506.64 L326.24,506.65 L326.57,506.66 L326.89,506.66 L327.22,506.67 L327.54,506.68 L327.87,506.69 L328.19,506.70 L328.52,506.71 L328.84,506.72 L329.17,506.72 L329.49,506.73 L329.82,506.74 L330.14,506.75 L330.47,506.76 L330.80,506.77 L331.12,506.77 L331.45,506.78 L331.77,506.79 L332.10,506.80 L332.42,506.81 L332.75,506.82 L333.07,506.82 L333.40,506.83 L333.72,506.84 L334.05,506.85 L334.37,506.86 L334.70,506.86 L335.02,506.87 L335.35,506.88 L335.68,506.89 L336.00,506.89 L336.33,506.90 L336.65,506.91 L336.98,506.92 L337.30,506.92 L337.63,506.93 L337.95,506.94 L338.28,506.95 L338.60,506.95 L338.93,506.96 L339.25,506.97 L339.58,506.98 L339.91,506.98 L340.23,506.99 L340.56,507.00 L340.88,507.00 L341.21,507.01 L341.53,507.02 L341.86,507.03 L342.18,507.03 L342.51,507.04 L342.83,507.05 L343.16,507.05 L343.48,507.06 L343.81,507.07 L344.14,507.07 L344.46,507.08 L344.79,507.09 L345.11,507.09 L345.44,507.10 L345.76,507.11 L346.09,507.11 L346.41,507.12 L346.74,507.13 L347.06,507.13 L347.39,507.14 L347.71,507.14 L348.04,507.15 L348.37,507.16 L348.69,507.16 L349.02,507.17 L349.34,507.18 L349.67,507.18 L349.99,507.19 L350.32,507.19 L350.64,507.20 L350.97,507.21 L351.29,507.21 L351.62,507.22 L351.94,507.22 L352.27,507.23 L352.60,507.23 L352.92,507.24 L353.25,507.25 L353.57,507.25 L353.90,507.26 L354.22,507.26 L354.55,507.27 L354.87,507.27 L355.20,507.28 L355.52,507.28 L355.85,507.29 L356.17,507.30 L356.50,507.30 L356.83,507.31 L357.15,507.31 L357.48,507.32 L357.80,507.32 L358.13,507.33 L358.45,507.33 L358.78,507.34 L359.10,507.34 L359.43,507.35 L359.75,507.35 L360.08,507.36 L360.40,507.36 L360.73,507.37 L361.06,507.37 L361.38,507.38 L361.71,507.38 L362.03,507.39 L362.36,507.39 L362.68,507.40 L363.01,507.40 L363.33,507.40 L363.66,507.41 L363.98,507.41 L364.31,507.42 L364.63,507.42 L364.96,507.43 L365.29,507.43 L365.61,507.44 L365.94,507.44 L366.26,507.45 L366.59,507.45 L366.91,507.45 L367.24,507.46 L367.56,507.46 L367.89,507.47 L368.21,507.47 L368.54,507.47 L368.86,507.48 L369.19,507.48 L369.52,507.49 L369.84,507.49 L370.17,507.50 L370.49,507.50 L370.82,507.50 L371.14,507.51 L371.47,507.51 L371.79,507.51 L372.12,507.52 L372.44,507.52 L372.77,507.53 L373.09,507.53 L373.42,507.53 L373.75,507.54 L374.07,507.54 L374.40,507.54 L374.72,507.55 L375.05,507.55 L375.37,507.55 L375.70,507.56 L376.02,507.56 L376.35,507.57 L376.67,507.57 L377.00,507.57 L377.32,507.58 L377.65,507.58 L377.98,507.58 L378.30,507.59 L378.63,507.59 L378.95,507.59 L379.28,507.60 L379.60,507.60 L379.93,507.60 L380.25,507.60 L380.58,507.61 L380.90,507.61 L381.23,507.61 L381.56,507.62 L381.88,507.62 L382.21,507.62 L382.53,507.63 L382.86,507.63 L383.18,507.63 L383.51,507.63 L383.83,507.64 L384.16,507.64 L384.48,507.64 L384.81,507.65 L385.13,507.65 L385.46,507.65 L385.79,507.65 L386.11,507.66 L386.44,507.66 L386.76,507.66 L387.09,507.66 L387.41,507.67 L387.74,507.67 L388.06,507.67 L388.39,507.67 L388.71,507.68 L389.04,507.68 L389.36,507.68 L389.69,507.68 L390.02,507.69 L390.34,507.69 L390.67,507.69 L390.99,507.69 L391.32,507.70 L391.64,507.70 L391.97,507.70 L392.29,507.70 L392.62,507.70 L392.94,507.71 L393.27,507.71 L393.59,507.71 L393.92,507.71 L394.25,507.71 L394.57,507.72 L394.90,507.72 L395.22,507.72 L395.55,507.72 L395.87,507.72 L396.20,507.73 L396.52,507.73 L396.85,507.73 L397.17,507.73 L397.50,507.73 L397.83,507.74 L398.15,507.74 L398.48,507.74 L398.80,507.74 L399.13,507.74 L399.45,507.75 L399.78,507.75 L400.10,507.75 L400.43,507.75 L400.75,507.75 L401.08,507.75 L401.40,507.76 L401.73,507.76 L402.06,507.76 L402.38,507.76 L402.71,507.76 L403.03,507.76 L403.36,507.76 L403.68,507.77 L404.01,507.77 L404.33,507.77 L404.66,507.77 L404.98,507.77 L405.31,507.77 L405.63,507.77 L405.96,507.78 L406.29,507.78 L406.61,507.78 L406.94,507.78 L407.26,507.78 L407.59,507.78 L407.91,507.78 L408.24,507.78 L408.56,507.79 L408.89,507.79 L409.21,507.79 L409.54,507.79 L409.87,507.79 L410.19,507.79 L410.52,507.79 L410.84,507.79 L411.17,507.79 L411.49,507.80 L411.82,507.80 L412.14,507.80 L412.47,507.80 L412.79,507.80 L413.12,507.80 L413.44,507.80 L413.77,507.80 L414.10,507.80 L414.42,507.80 L414.75,507.81 L415.07,507.81 L415.40,507.81 L415.72,507.81 L416.05,507.81 L416.37,507.81 L416.70,507.81 L417.02,507.81 L417.35,507.81 L417.68,507.81 L418.00,507.81 L418.33,507.81 L418.65,507.81 L418.98,507.82 L419.30,507.82 L419.63,507.82 L419.95,507.82 L420.28,507.82 L420.60,507.82 L420.93,507.82 L421.25,507.82 L421.58,507.82 L421.91,507.82 L422.23,507.82 L422.56,507.82 L422.88,507.82 L423.21,507.82 L423.53,507.82 L423.86,507.82 L424.18,507.82 L424.51,507.82 L424.83,507.83 L425.16,507.83 L425.49,507.83 L425.81,507.83 L426.14,507.83 L426.46,507.83 L426.79,507.83 L427.11,507.83 L427.44,507.83 L427.76,507.83 L428.09,507.83 L428.41,507.83 L428.74,507.83 L429.06,507.83 L429.39,507.83 L429.72,507.83 L430.04,507.83 L430.37,507.83 L430.69,507.83 L431.02,507.83 L431.34,507.83 L431.67,507.83 L431.99,507.83 L432.32,507.83 L432.64,507.83 L432.97,507.83 L433.30,507.83 L433.62,507.83 L433.95,507.83 L434.27,507.83 L434.60,507.83 L434.92,507.83 L435.25,507.83 L435.57,507.83 L435.90,507.83 L436.22,507.83 L436.55,507.83 L436.87,507.83 L437.20,507.83 L437.53,507.83 L437.85,507.83 L438.18,507.83 L438.50,507.83 L438.83,507.83 L439.15,507.83 L439.48,507.83 L439.80,507.83 L440.13,507.83 L440.45,507.83 L440.78,507.83 L441.11,507.83 L441.43,507.83 L441.76,507.83 L442.08,507.83 L442.41,507.83 L442.73,507.83 L443.06,507.83 L443.38,507.83 L443.71,507.83 L444.03,507.83 L444.36,507.83 L444.68,507.83 L445.01,507.83 L445.34,507.83 L445.66,507.83 L445.99,507.83 L446.31,507.83 L446.64,507.83 L446.96,507.83 L447.29,507.83 L447.61,507.83 L447.94,507.83 L448.26,507.83 L448.59,507.83 L448.92,507.83 L449.24,507.83 L449.57,507.83 L449.89,507.83 L450.22,507.83 L450.54,507.83 L450.87,507.83 L451.19,507.83 L451.52,507.83 L451.84,507.83 L452.17,507.83 L452.50,507.83 L452.82,507.83 L453.15,507.83 L453.47,507.83 L453.80,507.83 L454.12,507.83 L454.45,507.83 L454.77,507.83 L455.10,507.83 L455.42,507.83 L455.75,507.83 L456.07,507.83 L456.40,507.83 L456.73,507.83 L457.05,507.83 L457.38,507.83 L457.70,507.83 L458.03,507.83 L458.35,507.83 L458.68,507.83 L459.00,507.83 L459.33,507.83 L459.65,507.83 L459.98,507.83 L460.31,507.83 L460.63,507.83 L460.96,507.83 L461.28,507.83 L461.61,507.83 L461.93,507.83 L462.26,507.83 L462.58,507.83 L462.91,507.83 L463.23,507.83 L463.56,507.83 L463.89,507.83 L464.21,507.83 L464.54,507.83 L464.86,507.83 L465.19,507.83 L465.51,507.83 L465.84,507.83 L466.16,507.83 L466.49,507.83 L466.81,507.83 L467.14,507.83 L467.47,507.83 L467.79,507.83 L468.12,507.83 L468.44,507.83 L468.77,507.83 L469.09,507.83 L469.42,507.83 L469.74,507.83 L470.07,507.83 L470.39,507.83 L470.72,507.83 L471.05,507.83 L471.37,507.83 L471.70,507.83 L472.02,507.83 L472.35,507.83 L472.67,507.83 L473.00,507.83 L473.32,507.83 L473.65,507.83 L473.97,507.83 L474.30,507.83 L474.62,507.83 L474.95,507.83 L475.28,507.83 L475.60,507.83 L475.93,507.83 L476.25,507.83 L476.58,507.83 L476.90,507.83 L477.23,507.83 L477.55,507.83 L477.88,507.83 L478.20,507.83 L478.53,507.83 L478.86,507.83 L479.18,507.83 L479.51,507.83 L479.83,507.83 L480.16,507.83 L480.48,507.83 L480.81,507.83 L481.13,507.83 L481.46,507.83 L481.78,507.83 L482.11,507.83 L482.44,507.83 L482.76,507.83 L483.09,507.83 L483.41,507.83 L483.74,507.83 L484.06,507.83 L484.39,507.83 L484.71,507.83 L485.04,507.83 L485.36,507.83 L485.69,507.83 L486.02,507.83 L486.34,507.83 L486.67,507.83 L486.99,507.83 L487.32,507.83 L487.64,507.83 L487.97,507.83 L488.29,507.83 L488.62,507.83 L488.94,507.83 L489.27,507.83 L489.60,507.83 L489.92,507.83 L490.25,507.83 L490.57,507.83 L490.90,507.83 L491.22,507.83 L491.55,507.83 L491.87,507.83 L492.20,507.83 L492.52,507.83 L492.85,507.83 L493.18,507.83 L493.50,507.83 L493.83,507.83 L494.15,507.83 L494.48,507.83 L494.80,507.83 L495.13,507.83 L495.45,507.83 L495.78,507.83 L496.10,507.83 L496.43,507.83 L496.76,507.83 L497.08,507.83 L497.41,507.83 L497.73,507.83 L498.06,507.83 L498.38,507.83 L498.71,507.83 L499.03,507.83 L499.36,507.83 L499.68,507.83 L500.01,507.83 L500.34,507.83 L500.66,507.83 L500.99,507.83 L501.31,507.83 L501.64,507.83 L501.96,507.83 L502.29,507.83 L502.61,507.83 L502.94,507.83 L503.26,507.83 L503.59,507.83 L503.92,507.83 L504.24,507.83 L504.57,507.83 L504.89,507.83 L505.22,507.83 L505.54,507.83 L505.87,507.83 L506.19,507.83 L506.52,507.83 L506.84,507.83 L507.17,507.83 L507.50,507.83 L507.82,507.83 L508.15,507.83 L508.47,507.83 L508.80,507.83 L509.12,507.83 L509.45,507.83 L509.77,507.83 L510.10,507.83 L510.42,507.83 L510.75,507.83 L511.08,507.83 L511.40,507.83 L511.73,507.83 L512.05,507.83 L512.38,507.83 L512.70,507.83 L513.03,507.83 L513.35,507.83 L513.68,507.83 L514.00,507.83 L514.33,507.83 L514.66,507.83 L514.98,507.83 L515.31,507.83 L515.63,507.84 L515.96,507.84 L516.28,507.84 L516.61,507.84 L516.93,507.84 L517.26,507.84 L517.58,507.84 L517.91,507.84 L518.24,507.84 L518.56,507.84 L518.89,507.85 L519.21,507.85 L519.54,507.85 L519.86,507.85 L520.19,507.85 L520.51,507.85 L520.84,507.85 L521.16,507.85 L521.49,507.86 L521.82,507.86 L522.14,507.86 L522.47,507.86 L522.79,507.86 L523.12,507.86 L523.44,507.86 L523.77,507.86 L524.09,507.87 L524.42,507.87 L524.74,507.87 L525.07,507.87 L525.40,507.87 L525.72,507.87 L526.05,507.87 L526.37,507.88 L526.70,507.88 L527.02,507.88 L527.35,507.88 L527.67,507.88 L528.00,507.88 L528.33,507.89 L528.65,507.89 L528.98,507.89 L529.30,507.89 L529.63,507.89 L529.95,507.89 L530.28,507.90 L530.60,507.90 L530.93,507.90 L531.25,507.90 L531.58,507.90 L531.91,507.91 L532.23,507.91 L532.56,507.91 L532.88,507.91 L533.21,507.91 L533.53,507.92 L533.86,507.92 L534.18,507.92 L534.51,507.92 L534.83,507.92 L535.16,507.93 L535.49,507.93 L535.81,507.93 L536.14,507.93 L536.46,507.93 L536.79,507.94 L537.11,507.94 L537.44,507.94 L537.76,507.94 L538.09,507.95 L538.41,507.95 L538.74,507.95 L539.07,507.95 L539.39,507.96 L539.72,507.96 L540.04,507.96 L540.37,507.96 L540.69,507.96 L541.02,507.97 L541.34,507.97 L541.67,507.97 L542.00,507.98 L542.32,507.98 L542.65,507.98 L542.97,507.98 L543.30,507.99 L543.62,507.99 L543.95,507.99 L544.27,507.99 L544.60,508.00 L544.92,508.00 L545.25,508.00 L545.58,508.01 L545.90,508.01 L546.23,508.01 L546.55,508.01 L546.88,508.02 L547.20,508.02 L547.53,508.02 L547.85,508.03 L548.18,508.03 L548.50,508.03 L548.83,508.04 L549.16,508.04 L549.48,508.04 L549.81,508.05 L550.13,508.05 L550.46,508.05 L550.78,508.05 L551.11,508.06 L551.43,508.06 L551.76,508.07 L552.08,508.07 L552.41,508.07 L552.74,508.08 L553.06,508.08 L553.39,508.08 L553.71,508.09 L554.04,508.09 L554.36,508.09 L554.69,508.10 L555.01,508.10 L555.34,508.10 L555.67,508.11 L555.99,508.11 L556.32,508.12 L556.64,508.12 L556.97,508.12 L557.29,508.13 L557.62,508.13 L557.94,508.13 L558.27,508.14 L558.59,508.14 L558.92,508.15 L559.25,508.15 L559.57,508.15 L559.90,508.16 L560.22,508.16 L560.55,508.17 L560.87,508.17 L561.20,508.18 L561.52,508.18 L561.85,508.18 L562.17,508.19 L562.50,508.19 L562.83,508.20 L563.15,508.20 L563.48,508.21 L563.80,508.21 L564.13,508.21 L564.45,508.22 L564.78,508.22 L565.10,508.23 L565.43,508.23 L565.76,508.24 L566.08,508.24 L566.41,508.25 L566.73,508.25 L567.06,508.26 L567.38,508.26 L567.71,508.27 L568.03,508.27 L568.36,508.28 L568.68,508.28 L569.01,508.29 L569.34,508.29 L569.66,508.30 L569.99,508.30 L570.31,508.31 L570.64,508.31 L570.96,508.32 L571.29,508.32 L571.61,508.33 L571.94,508.33 L572.27,508.34 L572.59,508.34 L572.92,508.35 L573.24,508.35 L573.57,508.36 L573.89,508.36 L574.22,508.37 L574.54,508.38 L574.87,508.38 L575.19,508.39 L575.52,508.39 L575.85,508.40 L576.17,508.40 L576.50,508.41 L576.82,508.42 L577.15,508.42 L577.47,508.43 L577.80,508.43 L578.12,508.44 L578.45,508.45 L578.77,508.45 L579.10,508.46 L579.43,508.46 L579.75,508.47 L580.08,508.48 L580.40,508.48 L580.73,508.49 L581.05,508.49 L581.38,508.50 L581.70,508.51 L582.03,508.51 L582.36,508.52 L582.68,508.53 L583.01,508.53 L583.33,508.54 L583.66,508.55 L583.98,508.55 L584.31,508.56 L584.63,508.57 L584.96,508.57 L585.28,508.58 L585.61,508.59 L585.94,508.59 L586.26,508.60 L586.59,508.61 L586.91,508.61 L587.24,508.62 L587.56,508.63 L587.89,508.63 L588.21,508.64 L588.54,508.65 L588.87,508.66 L589.19,508.66 L589.52,508.67 L589.84,508.68 L590.17,508.69 L590.49,508.69 L590.82,508.70 L591.14,508.71 L591.47,508.72 L591.79,508.72 L592.12,508.73 L592.45,508.74 L592.77,508.75 L593.10,508.75 L593.42,508.76 L593.75,508.77 L594.07,508.78 L594.40,508.78 L594.72,508.79 L595.05,508.80 L595.38,508.81 L595.70,508.82 L596.03,508.82 L596.35,508.83 L596.68,508.84 L597.00,508.85 L597.33,508.86 L597.65,508.87 L597.98,508.87 L598.31,508.88 L598.63,508.89 L598.96,508.90 L599.28,508.91 L599.61,508.92 L599.93,508.92 L600.26,508.93 L600.58,508.94 L600.91,508.95 L601.23,508.96 L601.56,508.97 L601.89,508.98 L602.21,508.99 L602.54,508.99 L602.86,509.00 L603.19,509.01 L603.51,509.02 L603.84,509.03 L604.16,509.04 L604.49,509.05 L604.82,509.06 L605.14,509.07 L605.47,509.08 L605.79,509.09 L606.12,509.10 L606.44,509.11 L606.77,509.11 L607.09,509.12 L607.42,509.13 L607.74,509.14 L608.07,509.15 L608.40,509.16 L608.72,509.17 L609.05,509.18 L609.37,509.19 L609.70,509.20 L610.02,509.21 L610.35,509.22 L610.67,509.23 L611.00,509.24 L611.33,509.25 L611.65,509.26 L611.98,509.27 L612.30,509.28 L612.63,509.29 L612.95,509.30 L613.28,509.31 L613.60,509.32 L613.93,509.34 L614.26,509.35 L614.58,509.36 L614.91,509.37 L615.23,509.38 L615.56,509.39 L615.88,509.40 L616.21,509.41 L616.53,509.42" fill="none" stroke="#ff0000" stroke-width="3.5" stroke-linejoin="round" stroke-linecap="round"/>
<path d="M81.00,16.40 L81.32,16.41 L81.65,16.43 L81.97,16.44 L82.29,16.45 L82.62,16.46 L82.94,16.47 L83.27,16.48 L83.59,16.48 L83.91,16.49 L84.24,16.50 L84.56,16.50 L84.88,16.51 L85.21,16.51 L85.53,16.52 L85.85,16.52 L86.18,16.52 L86.50,16.53 L86.82,16.53 L87.14,16.53 L87.47,16.53 L87.79,16.53 L88.11,16.53 L88.44,16.53 L88.76,16.53 L89.08,16.53 L89.41,16.53 L89.73,16.53 L90.05,16.53 L90.37,16.53 L90.70,16.53 L91.02,16.53 L91.34,16.53 L91.66,16.53 L91.99,16.53 L92.31,16.53 L92.63,16.53 L92.96,16.53 L93.28,16.53 L93.60,16.53 L93.92,16.53 L94.24,16.53 L94.57,16.53 L94.89,16.53 L95.21,16.53 L95.53,16.53 L95.86,16.53 L96.18,16.53 L96.50,16.53 L96.82,16.53 L97.14,16.53 L97.47,16.53 L97.79,16.53 L98.11,16.53 L98.43,16.53 L98.75,16.53 L99.08,16.53 L99.40,16.53 L99.72,16.53 L100.04,16.53 L100.36,16.53 L100.69,16.53 L101.01,16.53 L101.33,16.53 L101.65,16.53 L101.97,16.53 L102.29,16.53 L102.61,16.53 L102.94,16.53 L103.26,16.53 L103.58,16.53 L103.90,16.53 L104.22,16.53 L104.54,16.53 L104.86,16.53 L105.18,16.53 L105.51,16.53 L105.83,16.53 L106.15,16.53 L106.47,16.53 L106.79,16.53 L107.11,16.53 L107.43,16.53 L107.75,16.55 L108.07,16.56 L108.39,16.58 L108.71,16.59 L109.03,16.61 L109.36,16.63 L109.68,16.65 L110.00,16.67 L110.32,16.70 L110.64,16.72 L110.96,16.74 L111.28,16.77 L111.60,16.80 L111.92,16.82 L112.24,16.85 L112.56,16.88 L112.88,16.92 L113.20,16.95 L113.52,16.98 L113.84,17.02 L114.16,17.06 L114.48,17.09 L114.80,17.13 L115.12,17.18 L115.44,17.22 L115.76,17.26 L116.08,17.31 L116.40,17.35 L116.72,17.40 L117.04,17.45 L117.36,17.50 L117.68,17.56 L117.99,17.61 L118.31,17.67 L118.63,17.73 L118.95,17.79 L119.27,17.85 L119.59,17.91 L119.91,17.98 L120.23,18.04 L120.55,18.11 L120.87,18.18 L121.19,18.26 L121.51,18.33 L121.82,18.40 L122.14,18.48 L122.46,18.56 L122.78,18.64 L123.10,18.73 L123.42,18.81 L123.74,18.90 L124.05,18.99 L124.37,19.08 L124.69,19.18 L125.01,19.27 L125.33,19.37 L125.65,19.47 L125.96,19.57 L126.28,19.68 L126.60,19.78 L126.92,19.89 L127.24,20.00 L127.55,20.12 L127.87,20.23 L128.19,20.35 L128.51,20.47 L128.83,20.59 L129.14,20.72 L129.46,20.85 L129.78,20.98 L130.09,21.11 L130.41,21.24 L130.72,21.38 L131.04,21.52 L131.36,21.66 L131.67,21.81 L131.98,21.96 L132.30,22.11 L132.61,22.26 L132.92,22.42 L133.23,22.57 L133.55,22.74 L133.86,22.90 L134.17,23.07 L134.47,23.24 L134.78,23.41 L135.09,23.59 L135.40,23.76 L135.70,23.95 L136.01,24.13 L136.31,24.32 L136.61,24.51 L136.92,24.70 L137.22,24.90 L137.52,25.10 L137.81,25.30 L138.11,25.51 L138.41,25.71 L138.70,25.93 L139.00,26.14 L139.29,26.36 L139.58,26.58 L139.87,26.81 L140.16,27.04 L140.45,27.27 L140.73,27.50 L141.02,27.74 L141.30,27.98 L141.58,28.23 L141.86,28.48 L142.14,28.73 L142.42,28.99 L142.70,29.25 L142.97,29.51 L143.24,29.78 L143.51,30.05 L143.78,30.32 L144.05,30.60 L144.31,30.88 L144.58,31.17 L144.84,31.45 L145.10,31.75 L145.35,32.04 L145.61,32.34 L145.86,32.64 L146.11,32.95 L146.36,33.26 L146.61,33.57 L146.86,33.89 L147.10,34.21 L147.34,34.53 L147.58,34.85 L147.82,35.18 L148.05,35.51 L148.28,35.85 L148.51,36.19 L148.74,36.53 L148.96,36.87 L149.19,37.22 L149.41,37.57 L149.62,37.92 L149.84,38.28 L150.05,38.64 L150.26,39.00 L150.47,39.37 L150.68,39.73 L150.88,40.10 L151.08,40.48 L151.27,40.85 L151.47,41.23 L151.66,41.61 L151.85,42.00 L152.03,42.38 L152.22,42.77 L152.40,43.16 L152.57,43.56 L152.75,43.95 L152.92,44.35 L153.09,44.75 L153.25,45.16 L153.42,45.56 L153.57,45.97 L153.73,46.38 L153.88,46.79 L154.03,47.21 L154.18,47.62 L154.32,48.04 L154.46,48.47 L154.60,48.89 L154.73,49.31 L154.86,49.74 L154.99,50.17 L155.11,50.60 L155.23,51.04 L155.35,51.47 L155.47,51.91 L155.58,52.35 L155.69,52.79 L155.80,53.23 L155.90,53.67 L156.00,54.12 L156.10,54.57 L156.20,55.02 L156.29,55.47 L156.38,55.92 L156.47,56.37 L156.56,56.83 L156.64,57.28 L156.72,57.74 L156.80,58.20 L156.88,58.66 L156.96,59.12 L157.03,59.59 L157.10,60.05 L157.17,60.52 L157.24,60.98 L157.30,61.45 L157.37,61.92 L157.43,62.39 L157.49,62.86 L157.55,63.33 L157.61,63.80 L157.66,64.28 L157.72,64.75 L157.77,65.23 L157.83,65.70 L157.88,66.18 L157.93,66.66 L157.97,67.13 L158.02,67.61 L158.07,68.09 L158.11,68.57 L158.16,69.05 L158.20,69.53 L158.24,70.01 L158.28,70.49 L158.33,70.98 L158.37,71.46 L158.41,71.94 L158.44,72.43 L158.48,72.91 L158.52,73.39 L158.56,73.88 L158.59,74.36 L158.63,74.84 L158.67,75.33 L158.70,75.81 L158.74,76.30 L158.78,76.78 L158.81,77.26 L158.85,77.75 L158.88,78.23 L158.92,78.72 L158.95,79.20 L158.99,79.68 L159.02,80.17 L159.06,80.65 L159.09,81.14 L159.12,81.62 L159.16,82.10 L159.19,82.59 L159.23,83.07 L159.26,83.56 L159.29,84.04 L159.33,84.52 L159.36,85.01 L159.39,85.49 L159.42,85.98 L159.46,86.46 L159.49,86.94 L159.52,87.43 L159.55,87.91 L159.58,88.40 L159.62,88.88 L159.65,89.36 L159.68,89.85 L159.71,90.33 L159.74,90.82 L159.77,91.30 L159.80,91.78 L159.83,92.27 L159.86,92.75 L159.89,93.24 L159.92,93.72 L159.95,94.20 L159.98,94.69 L160.01,95.17 L160.04,95.66 L160.07,96.14 L160.10,96.62 L160.13,97.11 L160.16,97.59 L160.18,98.08 L160.21,98.56 L160.24,99.04 L160.27,99.53 L160.30,100.01 L160.32,100.50 L160.35,100.98 L160.38,101.46 L160.41,101.95 L160.43,102.43 L160.46,102.92 L160.49,103.40 L160.51,103.88 L160.54,104.37 L160.57,104.85 L160.59,105.34 L160.62,105.82 L160.64,106.30 L160.67,106.79 L160.70,107.27 L160.72,107.76 L160.75,108.24 L160.77,108.72 L160.80,109.21 L160.82,109.69 L160.85,110.18 L160.87,110.66 L160.89,111.14 L160.92,111.63 L160.94,112.11 L160.97,112.60 L160.99,113.08 L161.01,113.57 L161.04,114.05 L161.06,114.53 L161.09,115.02 L161.11,115.50 L161.13,115.99 L161.15,116.47 L161.18,116.95 L161.20,117.44 L161.22,117.92 L161.24,118.41 L161.27,118.89 L161.29,119.37 L161.31,119.86 L161.33,120.34 L161.35,120.83 L161.38,121.31 L161.40,121.79 L161.42,122.28 L161.44,122.76 L161.46,123.25 L161.48,123.73 L161.50,124.21 L161.52,124.70 L161.54,125.18 L161.56,125.67 L161.58,126.15 L161.60,126.63 L161.62,127.12 L161.64,127.60 L161.66,128.09 L161.68,128.57 L161.70,129.05 L161.72,129.54 L161.74,130.02 L161.76,130.51 L161.78,130.99 L161.80,131.47 L161.82,131.96 L161.84,132.44 L161.85,132.93 L161.87,133.41 L161.89,133.89 L161.91,134.38 L161.93,134.86 L161.94,135.35 L161.96,135.83 L161.98,136.31 L162.00,136.80 L162.02,137.28 L162.03,137.77 L162.05,138.25 L162.07,138.73 L162.08,139.22 L162.10,139.70 L162.12,140.18 L162.13,140.67 L162.15,141.15 L162.17,141.64 L162.18,142.12 L162.20,142.60 L162.22,143.09 L162.23,143.57 L162.25,144.06 L162.26,144.54 L162.28,145.02 L162.29,145.51 L162.31,145.99 L162.33,146.48 L162.34,146.96 L162.36,147.44 L162.37,147.93 L162.39,148.41 L162.40,148.90 L162.42,149.38 L162.43,149.86 L162.44,150.35 L162.46,150.83 L162.47,151.32 L162.49,151.80 L162.50,152.28 L162.52,152.77 L162.53,153.25 L162.54,153.74 L162.56,154.22 L162.57,154.70 L162.58,155.19 L162.60,155.67 L162.61,156.16 L162.62,156.64 L162.64,157.12 L162.65,157.61 L162.66,158.09 L162.68,158.58 L162.69,159.06 L162.70,159.54 L162.71,160.03 L162.73,160.51 L162.74,161.00 L162.75,161.48 L162.76,161.96 L162.78,162.45 L162.79,162.93 L162.80,163.41 L162.81,163.90 L162.82,164.38 L162.84,164.87 L162.85,165.35 L162.86,165.83 L162.87,166.32 L162.88,166.80 L162.89,167.29 L162.90,167.77 L162.91,168.25 L162.93,168.74 L162.94,169.22 L162.95,169.71 L162.96,170.19 L162.97,170.67 L162.98,171.16 L162.99,171.64 L163.00,172.13 L163.01,172.61 L163.02,173.09 L163.03,173.58 L163.04,174.06 L163.05,174.54 L163.06,175.03 L163.07,175.51 L163.08,176.00 L163.09,176.48 L163.10,176.96 L163.11,177.45 L163.12,177.93 L163.13,178.42 L163.14,178.90 L163.15,179.38 L163.16,179.87 L163.17,180.35 L163.18,180.84 L163.19,181.32 L163.19,181.80 L163.20,182.29 L163.21,182.77 L163.22,183.25 L163.23,183.74 L163.24,184.22 L163.25,184.71 L163.25,185.19 L163.26,185.67 L163.27,186.16 L163.28,186.64 L163.29,187.13 L163.30,187.61 L163.30,188.09 L163.31,188.58 L163.32,189.06 L163.33,189.54 L163.34,190.03 L163.34,190.51 L163.35,191.00 L163.36,191.48 L163.37,191.96 L163.38,192.45 L163.38,192.93 L163.39,193.42 L163.40,193.90 L163.40,194.38 L163.41,194.87 L163.42,195.35 L163.43,195.83 L163.43,196.32 L163.44,196.80 L163.45,197.29 L163.46,197.77 L163.46,198.25 L163.47,198.74 L163.48,199.22 L163.48,199.71 L163.49,200.19 L163.50,200.67 L163.50,201.16 L163.51,201.64 L163.52,202.12 L163.52,202.61 L163.53,203.09 L163.54,203.58 L163.54,204.06 L163.55,204.54 L163.55,205.03 L163.56,205.51 L163.57,205.99 L163.57,206.48 L163.58,206.96 L163.58,207.45 L163.59,207.93 L163.60,208.41 L163.60,208.90 L163.61,209.38 L163.61,209.87 L163.62,210.35 L163.63,210.83 L163.63,211.32 L163.64,211.80 L163.64,212.28 L163.65,212.77 L163.65,213.25 L163.66,213.74 L163.67,214.22 L163.67,214.70 L163.68,215.19 L163.68,215.67 L163.69,216.15 L163.69,216.64 L163.70,217.12 L163.70,217.61 L163.71,218.09 L163.71,218.57 L163.72,219.06 L163.72,219.54 L163.73,220.02 L163.73,220.51 L163.74,220.99 L163.74,221.48 L163.75,221.96 L163.75,222.44 L163.76,222.93 L163.76,223.41 L163.77,223.89 L163.77,224.38 L163.78,224.86 L163.78,225.34 L163.79,225.83 L163.79,226.31 L163.80,226.80 L163.80,227.28 L163.81,227.76 L163.81,228.25 L163.82,228.73 L163.82,229.21 L163.83,229.70 L163.83,230.18 L163.84,230.67 L163.84,231.15 L163.85,231.63 L163.85,232.12 L163.85,232.60 L163.86,233.08 L163.86,233.57 L163.87,234.05 L163.87,234.54 L163.88,235.02 L163.88,235.50 L163.89,235.99 L163.89,236.47 L163.89,236.95 L163.90,237.44 L163.90,237.92 L163.91,238.40 L163.91,238.89 L163.92,239.37 L163.92,239.86 L163.93,240.34 L163.93,240.82 L163.93,241.31 L163.94,241.79 L163.94,242.27 L163.95,242.76 L163.95,243.24 L163.96,243.72 L163.96,244.21 L163.96,244.69 L163.97,245.18 L163.97,245.66 L163.98,246.14 L163.98,246.63 L163.99,247.11 L163.99,247.59 L164.00,248.08 L164.00,248.56 L164.00,249.04 L164.01,249.53 L164.01,250.01 L164.02,250.49 L164.02,250.98 L164.03,251.46 L164.03,251.95 L164.03,252.43 L164.04,252.91 L164.04,253.40 L164.05,253.88 L164.05,254.36 L164.06,254.85 L164.06,255.33 L164.07,255.81 L164.07,256.30 L164.07,256.78 L164.08,257.26 L164.08,257.75 L164.09,258.23 L164.09,258.72 L164.10,259.20 L164.10,259.68 L164.11,260.17 L164.11,260.65 L164.11,261.13 L164.12,261.62 L164.12,262.10 L164.13,262.58 L164.13,263.07 L164.14,263.55 L164.14,264.03 L164.15,264.52 L164.15,265.00 L164.16,265.48 L164.16,265.97 L164.17,266.45 L164.17,266.94 L164.18,267.42 L164.18,267.90 L164.18,268.39 L164.19,268.87 L164.19,269.35 L164.20,269.84 L164.20,270.32 L164.21,270.80 L164.21,271.29 L164.22,271.77 L164.22,272.25 L164.23,272.74 L164.23,273.22 L164.24,273.70 L164.24,274.19 L164.25,274.67 L164.26,275.15 L164.26,275.64 L164.27,276.12 L164.27,276.60 L164.28,277.09 L164.28,277.57 L164.29,278.05 L164.29,278.54 L164.30,279.02 L164.30,279.51 L164.31,279.99 L164.31,280.47 L164.32,280.96 L164.33,281.44 L164.33,281.92 L164.34,282.41 L164.34,282.89 L164.35,283.37 L164.35,283.86 L164.36,284.34 L164.37,284.82 L164.37,285.31 L164.38,285.79 L164.38,286.27 L164.39,286.76 L164.40,287.24 L164.40,287.72 L164.41,288.21 L164.41,288.69 L164.42,289.17 L164.43,289.66 L164.43,290.14 L164.44,290.62 L164.45,291.11 L164.45,291.59 L164.46,292.07 L164.47,292.56 L164.47,293.04 L164.48,293.52 L164.49,294.01 L164.49,294.49 L164.50,294.97 L164.51,295.46 L164.51,295.94 L164.52,296.42 L164.53,296.91 L164.53,297.39 L164.54,297.87 L164.55,298.36 L164.56,298.84 L164.56,299.32 L164.57,299.81 L164.58,300.29 L164.59,300.77 L164.59,301.26 L164.60,301.74 L164.61,302.22 L164.62,302.71 L164.62,303.19 L164.63,303.67 L164.64,304.16 L164.65,304.64 L164.65,305.12 L164.66,305.61 L164.67,306.09 L164.68,306.57 L164.69,307.05 L164.70,307.54 L164.70,308.02 L164.71,308.50 L164.72,308.99 L164.73,309.47 L164.74,309.95 L164.75,310.44 L164.76,310.92 L164.76,311.40 L164.77,311.89 L164.78,312.37 L164.79,312.85 L164.80,313.34 L164.81,313.82 L164.82,314.30 L164.83,314.79 L164.84,315.27 L164.85,315.75 L164.86,316.24 L164.87,316.72 L164.88,317.20 L164.89,317.68 L164.90,318.17 L164.91,318.65 L164.92,319.13 L164.93,319.62 L164.94,320.10 L164.95,320.58 L164.96,321.07 L164.97,321.55 L164.98,322.03 L164.99,322.52 L165.00,323.00 L165.01,323.48 L165.02,323.97 L165.03,324.45 L165.04,324.93 L165.05,325.41 L165.06,325.90 L165.07,326.38 L165.09,326.86 L165.10,327.35 L165.11,327.83 L165.12,328.31 L165.13,328.80 L165.14,329.28 L165.15,329.76 L165.17,330.25 L165.18,330.73 L165.19,331.21 L165.20,331.69 L165.21,332.18 L165.23,332.66 L165.24,333.14 L165.25,333.63 L165.26,334.11 L165.28,334.59 L165.29,335.08 L165.30,335.56 L165.32,336.04 L165.33,336.53 L165.34,337.01 L165.35,337.49 L165.37,337.97 L165.38,338.46 L165.40,338.94 L165.41,339.42 L165.42,339.91 L165.44,340.39 L165.45,340.87 L165.46,341.36 L165.48,341.84 L165.49,342.32 L165.51,342.80 L165.52,343.29 L165.54,343.77 L165.55,344.25 L165.56,344.74 L165.58,345.22 L165.59,345.70 L165.61,346.18 L165.62,346.67 L165.64,347.15 L165.66,347.63 L165.67,348.12 L165.69,348.60 L165.70,349.08 L165.72,349.56 L165.73,350.05 L165.75,350.53 L165.77,351.01 L165.78,351.50 L165.80,351.98 L165.81,352.46 L165.83,352.95 L165.85,353.43 L165.86,353.91 L165.88,354.39 L165.90,354.88 L165.91,355.36 L165.93,355.84 L165.95,356.33 L165.97,356.81 L165.98,357.29 L166.00,357.77 L166.02,358.26 L166.04,358.74 L166.06,359.22 L166.07,359.70 L166.09,360.19 L166.11,360.67 L166.13,361.15 L166.15,361.64 L166.17,362.12 L166.19,362.60 L166.20,363.08 L166.22,363.57 L166.24,364.05 L166.26,364.53 L166.28,365.02 L166.30,365.50 L166.32,365.98 L166.34,366.46 L166.36,366.95 L166.38,367.43 L166.40,367.91 L166.42,368.39 L166.44,368.88 L166.46,369.36 L166.49,369.84 L166.51,370.33 L166.53,370.81 L166.55,371.29 L166.57,371.77 L166.59,372.26 L166.62,372.74 L166.64,373.22 L166.66,373.71 L166.68,374.19 L166.71,374.67 L166.73,375.15 L166.75,375.64 L166.78,376.12 L166.80,376.60 L166.82,377.08 L166.85,377.57 L166.87,378.05 L166.89,378.53 L166.92,379.02 L166.94,379.50 L166.97,379.98 L166.99,380.46 L167.02,380.95 L167.04,381.43 L167.07,381.91 L167.09,382.39 L167.12,382.88 L167.15,383.36 L167.17,383.84 L167.20,384.33 L167.23,384.81 L167.25,385.29 L167.28,385.77 L167.31,386.26 L167.33,386.74 L167.36,387.22 L167.39,387.70 L167.42,388.19 L167.45,388.67 L167.48,389.15 L167.50,389.63 L167.53,390.12 L167.56,390.60 L167.59,391.08 L167.62,391.57 L167.65,392.05 L167.68,392.53 L167.71,393.01 L167.74,393.50 L167.77,393.98 L167.80,394.46 L167.84,394.94 L167.87,395.43 L167.90,395.91 L167.93,396.39 L167.96,396.88 L168.00,397.36 L168.03,397.84 L168.06,398.32 L168.10,398.81 L168.13,399.29 L168.16,399.77 L168.20,400.26 L168.23,400.74 L168.27,401.22 L168.30,401.70 L168.34,402.19 L168.37,402.67 L168.41,403.15 L168.44,403.63 L168.48,404.12 L168.51,404.60 L168.55,405.08 L168.59,405.57 L168.63,406.05 L168.66,406.53 L168.70,407.01 L168.74,407.50 L168.78,407.98 L168.81,408.46 L168.85,408.95 L168.89,409.43 L168.93,409.91 L168.97,410.39 L169.01,410.88 L169.05,411.36 L169.09,411.84 L169.13,412.32 L169.17,412.81 L169.22,413.29 L169.26,413.77 L169.30,414.26 L169.34,414.74 L169.38,415.22 L169.43,415.70 L169.47,416.19 L169.51,416.67 L169.56,417.15 L169.60,417.64 L169.65,418.12 L169.69,418.60 L169.74,419.08 L169.78,419.57 L169.83,420.05 L169.87,420.53 L169.92,421.02 L169.97,421.50 L170.01,421.98 L170.06,422.47 L170.11,422.95 L170.16,423.43 L170.20,423.91 L170.25,424.40 L170.30,424.88 L170.35,425.36 L170.40,425.85 L170.45,426.33 L170.50,426.81 L170.55,427.29 L170.60,427.78 L170.65,428.26 L170.70,428.74 L170.76,429.23 L170.81,429.71 L170.86,430.19 L170.91,430.68 L170.97,431.16 L171.02,431.64 L171.08,432.13 L171.13,432.61 L171.18,433.09 L171.24,433.57 L171.30,434.06 L171.35,434.54 L171.41,435.02 L171.47,435.50 L171.53,435.98 L171.58,436.47 L171.64,436.95 L171.70,437.43 L171.77,437.91 L171.83,438.39 L171.89,438.87 L171.95,439.35 L172.02,439.83 L172.08,440.30 L172.15,440.78 L172.22,441.26 L172.28,441.74 L172.35,442.21 L172.42,442.69 L172.49,443.16 L172.57,443.64 L172.64,444.11 L172.71,444.58 L172.79,445.05 L172.87,445.52 L172.94,445.99 L173.02,446.46 L173.10,446.93 L173.19,447.40 L173.27,447.87 L173.35,448.33 L173.44,448.80 L173.53,449.26 L173.62,449.72 L173.71,450.19 L173.80,450.65 L173.89,451.10 L173.99,451.56 L174.08,452.02 L174.18,452.48 L174.28,452.93 L174.38,453.38 L174.48,453.84 L174.59,454.29 L174.70,454.74 L174.80,455.18 L174.92,455.63 L175.03,456.08 L175.14,456.52 L175.26,456.96 L175.38,457.40 L175.50,457.84 L175.62,458.28 L175.74,458.72 L175.87,459.15 L176.00,459.58 L176.13,460.02 L176.26,460.45 L176.39,460.87 L176.53,461.30 L176.67,461.72 L176.81,462.15 L176.95,462.57 L177.10,462.99 L177.25,463.40 L177.40,463.82 L177.55,464.23 L177.71,464.64 L177.86,465.05 L178.02,465.46 L178.19,465.86 L178.35,466.27 L178.52,466.67 L178.69,467.07 L178.86,467.46 L179.04,467.86 L179.22,468.25 L179.40,468.64 L179.58,469.03 L179.77,469.41 L179.96,469.80 L180.15,470.18 L180.35,470.56 L180.54,470.93 L180.74,471.31 L180.95,471.68 L181.15,472.05 L181.36,472.41 L181.57,472.78 L181.78,473.14 L182.00,473.50 L182.22,473.85 L182.44,474.21 L182.66,474.56 L182.89,474.91 L183.11,475.25 L183.34,475.59 L183.57,475.93 L183.81,476.27 L184.05,476.60 L184.28,476.94 L184.52,477.26 L184.77,477.59 L185.01,477.91 L185.26,478.23 L185.51,478.55 L185.76,478.86 L186.01,479.17 L186.26,479.48 L186.52,479.79 L186.78,480.09 L187.04,480.38 L187.30,480.68 L187.56,480.97 L187.83,481.26 L188.09,481.55 L188.36,481.83 L188.63,482.11 L188.90,482.38 L189.17,482.65 L189.45,482.92 L189.72,483.19 L190.00,483.45 L190.28,483.71 L190.56,483.96 L190.84,484.21 L191.12,484.46 L191.41,484.71 L191.69,484.95 L191.98,485.18 L192.26,485.42 L192.55,485.65 L192.84,485.87 L193.13,486.09 L193.42,486.31 L193.71,486.53 L194.01,486.74 L194.30,486.95 L194.60,487.15 L194.89,487.35 L195.19,487.54 L195.49,487.73 L195.79,487.92 L196.08,488.11 L196.38,488.29 L196.68,488.46 L196.99,488.64 L197.29,488.81 L197.59,488.97 L197.89,489.13 L198.20,489.29 L198.50,489.45 L198.81,489.60 L199.11,489.75 L199.42,489.90 L199.73,490.05 L200.03,490.19 L200.34,490.33 L200.65,490.46 L200.96,490.60 L201.27,490.73 L201.58,490.85 L201.89,490.98 L202.20,491.10 L202.52,491.22 L202.83,491.34 L203.14,491.46 L203.45,491.57 L203.77,491.68 L204.08,491.79 L204.40,491.90 L204.71,492.01 L205.03,492.11 L205.34,492.21 L205.66,492.31 L205.97,492.41 L206.29,492.51 L206.61,492.61 L206.92,492.70 L207.24,492.79 L207.56,492.89 L207.87,492.98 L208.19,493.07 L208.51,493.15 L208.83,493.24 L209.15,493.33 L209.46,493.41 L209.78,493.50 L210.10,493.58 L210.42,493.66 L210.74,493.75 L211.06,493.83 L211.38,493.91 L211.70,493.99 L212.02,494.07 L212.34,494.15 L212.65,494.23 L212.97,494.31 L213.29,494.38 L213.61,494.46 L213.93,494.54 L214.25,494.62 L214.57,494.69 L214.89,494.77 L215.21,494.85 L215.53,494.92 L215.85,495.00 L216.17,495.07 L216.49,495.15 L216.81,495.22 L217.12,495.30 L217.44,495.37 L217.76,495.44 L218.08,495.52 L218.40,495.59 L218.72,495.66 L219.04,495.73 L219.36,495.81 L219.68,495.88 L220.00,495.95 L220.32,496.02 L220.64,496.09 L220.96,496.16 L221.28,496.23 L221.60,496.30 L221.92,496.37 L222.24,496.44 L222.56,496.50 L222.88,496.57 L223.20,496.64 L223.52,496.71 L223.84,496.77 L224.16,496.84 L224.48,496.91 L224.80,496.97 L225.12,497.04 L225.44,497.10 L225.76,497.17 L226.08,497.23 L226.40,497.30 L226.72,497.36 L227.04,497.43 L227.36,497.49 L227.68,497.55 L228.00,497.61 L228.32,497.68 L228.64,497.74 L228.96,497.80 L229.28,497.86 L229.60,497.92 L229.92,497.98 L230.24,498.04 L230.56,498.10 L230.88,498.16 L231.20,498.22 L231.52,498.28 L231.84,498.34 L232.16,498.40 L232.48,498.46 L232.80,498.52 L233.12,498.57 L233.44,498.63 L233.76,498.69 L234.08,498.75 L234.40,498.80 L234.72,498.86 L235.04,498.91 L235.36,498.97 L235.68,499.02 L236.00,499.08 L236.32,499.13 L236.64,499.19 L236.96,499.24 L237.28,499.30 L237.60,499.35 L237.92,499.40 L238.24,499.46 L238.57,499.51 L238.89,499.56 L239.21,499.61 L239.53,499.66 L239.85,499.71 L240.17,499.77 L240.49,499.82 L240.81,499.87 L241.13,499.92 L241.45,499.97 L241.77,500.02 L242.09,500.07 L242.41,500.12 L242.73,500.16 L243.05,500.21 L243.38,500.26 L243.70,500.31 L244.02,500.36 L244.34,500.40 L244.66,500.45 L244.98,500.50 L245.30,500.54 L245.62,500.59 L245.94,500.64 L246.26,500.68 L246.58,500.73 L246.90,500.77 L247.23,500.82 L247.55,500.86 L247.87,500.91 L248.19,500.95 L248.51,501.00 L248.83,501.04 L249.15,501.08 L249.47,501.13 L249.79,501.17 L250.11,501.21 L250.44,501.25 L250.76,501.30 L251.08,501.34 L251.40,501.38 L251.72,501.42 L252.04,501.46 L252.36,501.50 L252.68,501.54 L253.01,501.58 L253.33,501.62 L253.65,501.66 L253.97,501.70 L254.29,501.74 L254.61,501.78 L254.93,501.82 L255.25,501.86 L255.58,501.90 L255.90,501.93 L256.22,501.97 L256.54,502.01 L256.86,502.05 L257.18,502.08 L257.50,502.12 L257.82,502.16 L258.15,502.19 L258.47,502.23 L258.79,502.26 L259.11,502.30 L259.43,502.34 L259.75,502.37 L260.07,502.41 L260.40,502.44 L260.72,502.47 L261.04,502.51 L261.36,502.54 L261.68,502.58 L262.00,502.61 L262.32,502.64 L262.65,502.68 L262.97,502.71 L263.29,502.74 L263.61,502.77 L263.93,502.81 L264.25,502.84 L264.58,502.87 L264.90,502.90 L265.22,502.93 L265.54,502.96 L265.86,502.99 L266.18,503.02 L266.51,503.05 L266.83,503.08 L267.15,503.11 L267.47,503.14 L267.79,503.17 L268.11,503.20 L268.44,503.23 L268.76,503.26 L269.08,503.29 L269.40,503.32 L269.72,503.35 L270.04,503.37 L270.37,503.40 L270.69,503.43 L271.01,503.46 L271.33,503.49 L271.65,503.51 L271.98,503.54 L272.30,503.57 L272.62,503.59 L272.94,503.62 L273.26,503.64 L273.59,503.67 L273.91,503.70 L274.23,503.72 L274.55,503.75 L274.87,503.77 L275.20,503.80 L275.52,503.82 L275.84,503.85 L276.16,503.87 L276.48,503.89 L276.80,503.92 L277.13,503.94 L277.45,503.97 L277.77,503.99 L278.09,504.01 L278.42,504.03 L278.74,504.06 L279.06,504.08 L279.38,504.10 L279.70,504.12 L280.03,504.15 L280.35,504.17 L280.67,504.19 L280.99,504.21 L281.31,504.23 L281.64,504.25 L281.96,504.28 L282.28,504.30 L282.60,504.32 L282.92,504.34 L283.25,504.36 L283.57,504.38 L283.89,504.40 L284.21,504.42 L284.54,504.44 L284.86,504.46 L285.18,504.48 L285.50,504.50 L285.82,504.51 L286.15,504.53 L286.47,504.55 L286.79,504.57 L287.11,504.59 L287.44,504.61 L287.76,504.63 L288.08,504.64 L288.40,504.66 L288.73,504.68 L289.05,504.70 L289.37,504.71 L289.69,504.73 L290.01,504.75 L290.34,504.76 L290.66,504.78 L290.98,504.80 L291.30,504.81 L291.63,504.83 L291.95,504.85 L292.27,504.86 L292.59,504.88 L292.92,504.89 L293.24,504.91 L293.56,504.92 L293.88,504.94 L294.21,504.95 L294.53,504.97 L294.85,504.98 L295.17,505.00 L295.50,505.01 L295.82,505.03 L296.14,505.04 L296.46,505.06 L296.79,505.07 L297.11,505.08 L297.43,505.10 L297.75,505.11 L298.08,505.12 L298.40,505.14 L298.72,505.15 L299.04,505.16 L299.37,505.18 L299.69,505.19 L300.01,505.20 L300.33,505.22 L300.66,505.23 L300.98,505.24 L301.30,505.25 L301.62,505.26 L301.95,505.28 L302.27,505.29 L302.59,505.30 L302.91,505.31 L303.24,505.32 L303.56,505.33 L303.88,505.35 L304.20,505.36 L304.53,505.37 L304.85,505.38 L305.17,505.39 L305.49,505.40 L305.82,505.41 L306.14,505.42 L306.46,505.43 L306.78,505.44 L307.11,505.45 L307.43,505.46 L307.75,505.47 L308.08,505.48 L308.40,505.49 L308.72,505.50 L309.04,505.51 L309.37,505.52 L309.69,505.53 L310.01,505.54 L310.33,505.55 L310.66,505.56 L310.98,505.57 L311.30,505.57 L311.63,505.58 L311.95,505.59 L312.27,505.60 L312.59,505.61 L312.92,505.62 L313.24,505.63 L313.56,505.63 L313.88,505.64 L314.21,505.65 L314.53,505.66 L314.85,505.67 L315.18,505.67 L315.50,505.68 L315.82,505.69 L316.14,505.70 L316.47,505.71 L316.79,505.71 L317.11,505.72 L317.43,505.73 L317.76,505.73 L318.08,505.74 L318.40,505.75 L318.73,505.76 L319.05,505.76 L319.37,505.77 L319.69,505.78 L320.02,505.78 L320.34,505.79 L320.66,505.80 L320.99,505.80 L321.31,505.81 L321.63,505.82 L321.95,505.82 L322.28,505.83 L322.60,505.83 L322.92,505.84 L323.24,505.85 L323.57,505.85 L323.89,505.86 L324.21,505.86 L324.54,505.87 L324.86,505.88 L325.18,505.88 L325.50,505.89 L325.83,505.89 L326.15,505.90 L326.47,505.90 L326.80,505.91 L327.12,505.91 L327.44,505.92 L327.76,505.92 L328.09,505.93 L328.41,505.93 L328.73,505.94 L329.06,505.95 L329.38,505.95 L329.70,505.96 L330.02,505.96 L330.35,505.97 L330.67,505.97 L330.99,505.97 L331.32,505.98 L331.64,505.98 L331.96,505.99 L332.28,505.99 L332.61,506.00 L332.93,506.00 L333.25,506.01 L333.58,506.01 L333.90,506.02 L334.22,506.02 L334.54,506.03 L334.87,506.03 L335.19,506.03 L335.51,506.04 L335.84,506.04 L336.16,506.05 L336.48,506.05 L336.80,506.06 L337.13,506.06 L337.45,506.06 L337.77,506.07 L338.10,506.07 L338.42,506.08 L338.74,506.08 L339.06,506.09 L339.39,506.09 L339.71,506.09 L340.03,506.10 L340.36,506.10 L340.68,506.11 L341.00,506.11 L341.32,506.11 L341.65,506.12 L341.97,506.12 L342.29,506.13 L342.62,506.13 L342.94,506.13 L343.26,506.14 L343.58,506.14 L343.91,506.15 L344.23,506.15 L344.55,506.15 L344.88,506.16 L345.20,506.16 L345.52,506.17 L345.84,506.17 L346.17,506.17 L346.49,506.18 L346.81,506.18 L347.14,506.19 L347.46,506.19 L347.78,506.19 L348.10,506.20 L348.43,506.20 L348.75,506.21 L349.07,506.21 L349.40,506.21 L349.72,506.22 L350.04,506.22 L350.36,506.23 L350.69,506.23 L351.01,506.23 L351.33,506.24 L351.66,506.24 L351.98,506.25 L352.30,506.25 L352.62,506.25 L352.95,506.26 L353.27,506.26 L353.59,506.27 L353.91,506.27 L354.24,506.27 L354.56,506.28 L354.88,506.28 L355.21,506.29 L355.53,506.29 L355.85,506.30 L356.17,506.30 L356.50,506.30 L356.82,506.31 L357.14,506.31 L357.47,506.32 L357.79,506.32 L358.11,506.32 L358.43,506.33 L358.76,506.33 L359.08,506.34 L359.40,506.34 L359.73,506.34 L360.05,506.35 L360.37,506.35 L360.69,506.36 L361.02,506.36 L361.34,506.37 L361.66,506.37 L361.98,506.37 L362.31,506.38 L362.63,506.38 L362.95,506.39 L363.28,506.39 L363.60,506.39 L363.92,506.40 L364.24,506.40 L364.57,506.41 L364.89,506.41 L365.21,506.42 L365.53,506.42 L365.86,506.42 L366.18,506.43 L366.50,506.43 L366.83,506.44 L367.15,506.44 L367.47,506.45 L367.79,506.45 L368.12,506.45 L368.44,506.46 L368.76,506.46 L369.08,506.47 L369.41,506.47 L369.73,506.47 L370.05,506.48 L370.38,506.48 L370.70,506.49 L371.02,506.49 L371.34,506.50 L371.67,506.50 L371.99,506.50 L372.31,506.51 L372.64,506.51 L372.96,506.52 L373.28,506.52 L373.60,506.53 L373.93,506.53 L374.25,506.53 L374.57,506.54 L374.89,506.54 L375.22,506.55 L375.54,506.55 L375.86,506.56 L376.18,506.56 L376.51,506.56 L376.83,506.57 L377.15,506.57 L377.48,506.58 L377.80,506.58 L378.12,506.59 L378.44,506.59 L378.77,506.59 L379.09,506.60 L379.41,506.60 L379.73,506.61 L380.06,506.61 L380.38,506.62 L380.70,506.62 L381.03,506.62 L381.35,506.63 L381.67,506.63 L381.99,506.64 L382.32,506.64 L382.64,506.65 L382.96,506.65 L383.28,506.66 L383.61,506.66 L383.93,506.66 L384.25,506.67 L384.58,506.67 L384.90,506.68 L385.22,506.68 L385.54,506.69 L385.87,506.69 L386.19,506.69 L386.51,506.70 L386.83,506.70 L387.16,506.71 L387.48,506.71 L387.80,506.72 L388.12,506.72 L388.45,506.73 L388.77,506.73 L389.09,506.73 L389.42,506.74 L389.74,506.74 L390.06,506.75 L390.38,506.75 L390.71,506.76 L391.03,506.76 L391.35,506.76 L391.67,506.77 L392.00,506.77 L392.32,506.78 L392.64,506.78 L392.96,506.79 L393.29,506.79 L393.61,506.80 L393.93,506.80 L394.25,506.80 L394.58,506.81 L394.90,506.81 L395.22,506.82 L395.55,506.82 L395.87,506.83 L396.19,506.83 L396.51,506.84 L396.84,506.84 L397.16,506.84 L397.48,506.85 L397.80,506.85 L398.13,506.86 L398.45,506.86 L398.77,506.87 L399.09,506.87 L399.42,506.88 L399.74,506.88 L400.06,506.88 L400.39,506.89 L400.71,506.89 L401.03,506.90 L401.35,506.90 L401.68,506.91 L402.00,506.91 L402.32,506.92 L402.64,506.92 L402.97,506.92 L403.29,506.93 L403.61,506.93 L403.93,506.94 L404.26,506.94 L404.58,506.95 L404.90,506.95 L405.22,506.96 L405.55,506.96 L405.87,506.96 L406.19,506.97 L406.52,506.97 L406.84,506.98 L407.16,506.98 L407.48,506.99 L407.81,506.99 L408.13,507.00 L408.45,507.00 L408.77,507.00 L409.10,507.01 L409.42,507.01 L409.74,507.02 L410.06,507.02 L410.39,507.03 L410.71,507.03 L411.03,507.04 L411.35,507.04 L411.68,507.04 L412.00,507.05 L412.32,507.05 L412.64,507.06 L412.97,507.06 L413.29,507.07 L413.61,507.07 L413.93,507.08 L414.26,507.08 L414.58,507.08 L414.90,507.09 L415.23,507.09 L415.55,507.10 L415.87,507.10 L416.19,507.11 L416.52,507.11 L416.84,507.12 L417.16,507.12 L417.48,507.13 L417.81,507.13 L418.13,507.13 L418.45,507.14 L418.77,507.14 L419.10,507.15 L419.42,507.15 L419.74,507.16 L420.06,507.16 L420.39,507.17 L420.71,507.17 L421.03,507.17 L421.35,507.18 L421.68,507.18 L422.00,507.19 L422.32,507.19 L422.64,507.20 L422.97,507.20 L423.29,507.21 L423.61,507.21 L423.94,507.22 L424.26,507.22 L424.58,507.22 L424.90,507.23 L425.23,507.23 L425.55,507.24 L425.87,507.24 L426.19,507.25 L426.52,507.25 L426.84,507.26 L427.16,507.26 L427.48,507.26 L427.81,507.27 L428.13,507.27 L428.45,507.28 L428.77,507.28 L429.10,507.29 L429.42,507.29 L429.74,507.30 L430.06,507.30 L430.39,507.30 L430.71,507.31 L431.03,507.31 L431.35,507.32 L431.68,507.32 L432.00,507.33 L432.32,507.33 L432.64,507.34 L432.97,507.34 L433.29,507.35 L433.61,507.35 L433.93,507.35 L434.26,507.36 L434.58,507.36 L434.90,507.37 L435.22,507.37 L435.55,507.38 L435.87,507.38 L436.19,507.39 L436.52,507.39 L436.84,507.39 L437.16,507.40 L437.48,507.40 L437.81,507.41 L438.13,507.41 L438.45,507.42 L438.77,507.42 L439.10,507.43 L439.42,507.43 L439.74,507.43 L440.06,507.44 L440.39,507.44 L440.71,507.45 L441.03,507.45 L441.35,507.46 L441.68,507.46 L442.00,507.47 L442.32,507.47 L442.64,507.48 L442.97,507.48 L443.29,507.48 L443.61,507.49 L443.93,507.49 L444.26,507.50 L444.58,507.50 L444.90,507.51 L445.22,507.51 L445.55,507.52 L445.87,507.52 L446.19,507.52 L446.51,507.53 L446.84,507.53 L447.16,507.54 L447.48,507.54 L447.80,507.55 L448.13,507.55 L448.45,507.56 L448.77,507.56 L449.09,507.56 L449.42,507.57 L449.74,507.57 L450.06,507.58 L450.38,507.58 L450.71,507.59 L451.03,507.59 L451.35,507.60 L451.67,507.60 L452.00,507.60 L452.32,507.61 L452.64,507.61 L452.96,507.62 L453.29,507.62 L453.61,507.63 L453.93,507.63 L454.25,507.64 L454.58,507.64 L454.90,507.64 L455.22,507.65 L455.55,507.65 L455.87,507.66 L456.19,507.66 L456.51,507.67 L456.84,507.67 L457.16,507.67 L457.48,507.68 L457.80,507.68 L458.13,507.69 L458.45,507.69 L458.77,507.70 L459.09,507.70 L459.42,507.71 L459.74,507.71 L460.06,507.71 L460.38,507.72 L460.71,507.72 L461.03,507.73 L461.35,507.73 L461.67,507.74 L462.00,507.74 L462.32,507.75 L462.64,507.75 L462.96,507.75 L463.29,507.76 L463.61,507.76 L463.93,507.77 L464.25,507.77 L464.58,507.78 L464.90,507.78 L465.22,507.78 L465.54,507.79 L465.87,507.79 L466.19,507.80 L466.51,507.80 L466.83,507.81 L467.16,507.81 L467.48,507.81 L467.80,507.82 L468.12,507.82 L468.45,507.83 L468.77,507.83 L469.09,507.84 L469.41,507.84 L469.74,507.85 L470.06,507.85 L470.38,507.85 L470.70,507.86 L471.03,507.86 L471.35,507.87 L471.67,507.87 L471.99,507.88 L472.32,507.88 L472.64,507.88 L472.96,507.89 L473.28,507.89 L473.61,507.90 L473.93,507.90 L474.25,507.91 L474.57,507.91 L474.90,507.91 L475.22,507.92 L475.54,507.92 L475.86,507.93 L476.19,507.93 L476.51,507.94 L476.83,507.94 L477.15,507.94 L477.48,507.95 L477.80,507.95 L478.12,507.96 L478.44,507.96 L478.77,507.97 L479.09,507.97 L479.41,507.97 L479.73,507.98 L480.06,507.98 L480.38,507.99 L480.70,507.99 L481.02,508.00 L481.35,508.00 L481.67,508.00 L481.99,508.01 L482.31,508.01 L482.64,508.02 L482.96,508.02 L483.28,508.02 L483.60,508.03 L483.93,508.03 L484.25,508.04 L484.57,508.04 L484.89,508.05 L485.22,508.05 L485.54,508.05 L485.86,508.06 L486.18,508.06 L486.51,508.07 L486.83,508.07 L487.15,508.07 L487.47,508.08 L487.80,508.08 L488.12,508.09 L488.44,508.09 L488.77,508.10 L489.09,508.10 L489.41,508.10 L489.73,508.11 L490.06,508.11 L490.38,508.12 L490.70,508.12 L491.02,508.12 L491.35,508.13 L491.67,508.13 L491.99,508.14 L492.31,508.14 L492.64,508.15 L492.96,508.15 L493.28,508.15 L493.60,508.16 L493.93,508.16 L494.25,508.17 L494.57,508.17 L494.89,508.17 L495.22,508.18 L495.54,508.18 L495.86,508.19 L496.18,508.19 L496.51,508.19 L496.83,508.20 L497.15,508.20 L497.47,508.21 L497.80,508.21 L498.12,508.21 L498.44,508.22 L498.76,508.22 L499.09,508.23 L499.41,508.23 L499.73,508.23 L500.05,508.24 L500.38,508.24 L500.70,508.25 L501.02,508.25 L501.34,508.26 L501.67,508.26 L501.99,508.26 L502.31,508.27 L502.63,508.27 L502.96,508.28 L503.28,508.28 L503.60,508.28 L503.92,508.29 L504.25,508.29 L504.57,508.29 L504.89,508.30 L505.21,508.30 L505.54,508.31 L505.86,508.31 L506.18,508.31 L506.50,508.32 L506.83,508.32 L507.15,508.33 L507.47,508.33 L507.79,508.33 L508.12,508.34 L508.44,508.34 L508.76,508.35 L509.08,508.35 L509.41,508.35 L509.73,508.36 L510.05,508.36 L510.37,508.37 L510.70,508.37 L511.02,508.37 L511.34,508.38 L511.66,508.38 L511.99,508.38 L512.31,508.39 L512.63,508.39 L512.96,508.40 L513.28,508.40 L513.60,508.40 L513.92,508.41 L514.25,508.41 L514.57,508.42 L514.89,508.42 L515.21,508.42 L515.54,508.43 L515.86,508.43 L516.18,508.43 L516.50,508.44 L516.83,508.44 L517.15,508.45 L517.47,508.45 L517.79,508.45 L518.12,508.46 L518.44,508.46 L518.76,508.47 L519.08,508.47 L519.41,508.47 L519.73,508.48 L520.05,508.48 L520.37,508.48 L520.70,508.49 L521.02,508.49 L521.34,508.50 L521.66,508.50 L521.99,508.50 L522.31,508.51 L522.63,508.51 L522.95,508.51 L523.28,508.52 L523.60,508.52 L523.92,508.52 L524.24,508.53 L524.57,508.53 L524.89,508.54 L525.21,508.54 L525.53,508.54 L525.86,508.55 L526.18,508.55 L526.50,508.55 L526.82,508.56 L527.15,508.56 L527.47,508.56 L527.79,508.57 L528.12,508.57 L528.44,508.58 L528.76,508.58 L529.08,508.58 L529.41,508.59 L529.73,508.59 L530.05,508.59 L530.37,508.60 L530.70,508.60 L531.02,508.60 L531.34,508.61 L531.66,508.61 L531.99,508.61 L532.31,508.62 L532.63,508.62 L532.95,508.63 L533.28,508.63 L533.60,508.63 L533.92,508.64 L534.24,508.64 L534.57,508.64 L534.89,508.65 L535.21,508.65 L535.53,508.65 L535.86,508.66 L536.18,508.66 L536.50,508.66 L536.82,508.67 L537.15,508.67 L537.47,508.67 L537.79,508.68 L538.12,508.68 L538.44,508.68 L538.76,508.69 L539.08,508.69 L539.41,508.69 L539.73,508.70 L540.05,508.70 L540.37,508.71 L540.70,508.71 L541.02,508.71 L541.34,508.72 L541.66,508.72 L541.99,508.72 L542.31,508.73 L542.63,508.73 L542.95,508.73 L543.28,508.74 L543.60,508.74 L543.92,508.74 L544.24,508.75 L544.57,508.75 L544.89,508.75 L545.21,508.76 L545.53,508.76 L545.86,508.76 L546.18,508.77 L546.50,508.77 L546.83,508.77 L547.15,508.77 L547.47,508.78 L547.79,508.78 L548.12,508.78 L548.44,508.79 L548.76,508.79 L549.08,508.79 L549.41,508.80 L549.73,508.80 L550.05,508.80 L550.37,508.81 L550.70,508.81 L551.02,508.81 L551.34,508.82 L551.66,508.82 L551.99,508.82 L552.31,508.83 L552.63,508.83 L552.95,508.83 L553.28,508.84 L553.60,508.84 L553.92,508.84 L554.25,508.84 L554.57,508.85 L554.89,508.85 L555.21,508.85 L555.54,508.86 L555.86,508.86 L556.18,508.86 L556.50,508.87 L556.83,508.87 L557.15,508.87 L557.47,508.88 L557.79,508.88 L558.12,508.88 L558.44,508.88 L558.76,508.89 L559.08,508.89 L559.41,508.89 L559.73,508.90 L560.05,508.90 L560.38,508.90 L560.70,508.91 L561.02,508.91 L561.34,508.91 L561.67,508.91 L561.99,508.92 L562.31,508.92 L562.63,508.92 L562.96,508.93 L563.28,508.93 L563.60,508.93 L563.92,508.94 L564.25,508.94 L564.57,508.94 L564.89,508.94 L565.22,508.95 L565.54,508.95 L565.86,508.95 L566.18,508.96 L566.51,508.96 L566.83,508.96 L567.15,508.96 L567.47,508.97 L567.80,508.97 L568.12,508.97 L568.44,508.97 L568.76,508.98 L569.09,508.98 L569.41,508.98 L569.73,508.99 L570.06,508.99 L570.38,508.99 L570.70,508.99 L571.02,509.00 L571.35,509.00 L571.67,509.00 L571.99,509.01 L572.31,509.01 L572.64,509.01 L572.96,509.01 L573.28,509.02 L573.60,509.02 L573.93,509.02 L574.25,509.02 L574.57,509.03 L574.90,509.03 L575.22,509.03 L575.54,509.03 L575.86,509.04 L576.19,509.04 L576.51,509.04 L576.83,509.04 L577.15,509.05 L577.48,509.05 L577.80,509.05 L578.12,509.05 L578.45,509.06 L578.77,509.06 L579.09,509.06 L579.41,509.07 L579.74,509.07 L580.06,509.07 L580.38,509.07 L580.70,509.08 L581.03,509.08 L581.35,509.08 L581.67,509.08 L582.00,509.08 L582.32,509.09 L582.64,509.09 L582.96,509.09 L583.29,509.09 L583.61,509.10 L583.93,509.10 L584.25,509.10 L584.58,509.10 L584.90,509.11 L585.22,509.11 L585.55,509.11 L585.87,509.11 L586.19,509.12 L586.51,509.12 L586.84,509.12 L587.16,509.12 L587.48,509.13 L587.80,509.13 L588.13,509.13 L588.45,509.13 L588.77,509.13 L589.10,509.14 L589.42,509.14 L589.74,509.14 L590.06,509.14 L590.39,509.15 L590.71,509.15 L591.03,509.15 L591.35,509.15 L591.68,509.15 L592.00,509.16 L592.32,509.16 L592.65,509.16 L592.97,509.16 L593.29,509.17 L593.61,509.17 L593.94,509.17 L594.26,509.17 L594.58,509.17 L594.90,509.18 L595.23,509.18 L595.55,509.18 L595.87,509.18 L596.20,509.18 L596.52,509.19 L596.84,509.19 L597.16,509.19 L597.49,509.19 L597.81,509.19 L598.13,509.20 L598.46,509.20 L598.78,509.20 L599.10,509.20 L599.42,509.20 L599.75,509.21 L600.07,509.21 L600.39,509.21 L600.71,509.21 L601.04,509.21 L601.36,509.22 L601.68,509.22 L602.01,509.22 L602.33,509.22 L602.65,509.22 L602.97,509.23 L603.30,509.23 L603.62,509.23 L603.94,509.23 L604.27,509.23 L604.59,509.24 L604.91,509.24 L605.23,509.24 L605.56,509.24 L605.88,509.24 L606.20,509.24 L606.53,509.25 L606.85,509.25 L607.17,509.25 L607.49,509.25 L607.82,509.25 L608.14,509.25 L608.46,509.26 L608.79,509.26 L609.11,509.26 L609.43,509.26 L609.75,509.26 L610.08,509.26 L610.40,509.27 L610.72,509.27 L611.05,509.27 L611.37,509.27 L611.69,509.27 L612.01,509.27 L612.34,509.28 L612.66,509.28 L612.98,509.28 L613.31,509.28 L613.63,509.28 L613.95,509.28 L614.27,509.29 L614.60,509.29 L614.92,509.29 L615.24,509.29 L615.57,509.29 L615.89,509.29 L616.21,509.29 L616.53,509.30" fill="none" stroke="#000000" stroke-width="3.45" stroke-linejoin="round" stroke-linecap="round"/>
<ellipse cx="89.20" cy="14.2" rx="1.13" ry="1.4" fill="#f01010"/>
<ellipse cx="116.00" cy="14.0" rx="1.07" ry="1.5" fill="#ff00ff"/>
<path d="M81.00,16.40 L81.32,16.40 L81.64,16.40 L81.95,16.40 L82.27,16.40 L82.59,16.40 L82.91,16.40 L83.23,16.40 L83.55,16.40 L83.87,16.40 L84.18,16.40 L84.50,16.40 L84.82,16.40 L85.14,16.40 L85.46,16.40 L85.78,16.40 L86.10,16.40 L86.42,16.40 L86.73,16.40 L87.05,16.40 L87.37,16.40 L87.69,16.40 L88.01,16.40 L88.33,16.40 L88.65,16.40 L88.97,16.40 L89.29,16.40 L89.61,16.40 L89.93,16.40 L90.25,16.40 L90.57,16.40 L90.89,16.40 L91.20,16.40 L91.52,16.40 L91.84,16.40 L92.16,16.40 L92.48,16.40 L92.80,16.40 L93.12,16.40 L93.44,16.40 L93.76,16.40 L94.08,16.40 L94.40,16.40 L94.72,16.40 L95.04,16.40 L95.36,16.40 L95.68,16.40 L96.00,16.40 L96.32,16.40 L96.64,16.40 L96.96,16.40 L97.28,16.40 L97.60,16.40 L97.92,16.40 L98.24,16.40 L98.56,16.40 L98.88,16.40 L99.20,16.40 L99.52,16.40 L99.84,16.40 L100.16,16.40 L100.48,16.40 L100.80,16.40 L101.12,16.40 L101.44,16.40 L101.76,16.40 L102.08,16.40 L102.40,16.40 L102.72,16.40 L103.04,16.40 L103.37,16.40 L103.69,16.40 L104.01,16.40 L104.33,16.40 L104.65,16.40 L104.97,16.40 L105.29,16.40 L105.61,16.40 L105.93,16.40 L106.25,16.40 L106.57,16.40 L106.89,16.40 L107.21,16.40 L107.53,16.40 L107.85,16.40 L108.17,16.40 L108.49,16.40 L108.81,16.40 L109.13,16.40 L109.45,16.40 L109.77,16.40 L110.10,16.40 L110.42,16.40 L110.74,16.40 L111.06,16.40 L111.38,16.40 L111.70,16.40 L112.02,16.40 L112.34,16.40 L112.66,16.40 L112.98,16.40 L113.30,16.40 L113.62,16.40 L113.94,16.40 L114.26,16.40 L114.58,16.40 L114.90,16.40 L115.22,16.40 L115.54,16.40 L115.86,16.40 L116.18,16.40 L116.51,16.40 L116.83,16.40 L117.15,16.40 L117.47,16.40 L117.79,16.40 L118.11,16.40 L118.43,16.40 L118.75,16.40 L119.07,16.41 L119.39,16.42 L119.71,16.42 L120.03,16.43 L120.35,16.44 L120.67,16.45 L120.99,16.46 L121.31,16.47 L121.63,16.48 L121.95,16.49 L122.27,16.51 L122.59,16.52 L122.91,16.53 L123.23,16.54 L123.55,16.55 L123.87,16.57 L124.19,16.58 L124.51,16.59 L124.83,16.61 L125.15,16.62 L125.47,16.64 L125.79,16.65 L126.11,16.67 L126.43,16.68 L126.75,16.70 L127.07,16.72 L127.39,16.73 L127.71,16.75 L128.03,16.77 L128.35,16.79 L128.67,16.81 L128.99,16.82 L129.31,16.84 L129.63,16.86 L129.95,16.88 L130.27,16.90 L130.59,16.92 L130.91,16.95 L131.23,16.97 L131.55,16.99 L131.86,17.01 L132.18,17.04 L132.50,17.06 L132.82,17.08 L133.14,17.11 L133.46,17.13 L133.78,17.16 L134.10,17.18 L134.42,17.21 L134.74,17.24 L135.06,17.26 L135.37,17.29 L135.69,17.32 L136.01,17.35 L136.33,17.38 L136.65,17.41 L136.97,17.44 L137.29,17.47 L137.61,17.50 L137.92,17.53 L138.24,17.56 L138.56,17.59 L138.88,17.63 L139.20,17.66 L139.52,17.70 L139.84,17.73 L140.15,17.77 L140.47,17.80 L140.79,17.84 L141.11,17.87 L141.43,17.91 L141.74,17.95 L142.06,17.99 L142.38,18.03 L142.70,18.07 L143.02,18.11 L143.33,18.15 L143.65,18.19 L143.97,18.23 L144.29,18.27 L144.60,18.31 L144.92,18.36 L145.24,18.40 L145.55,18.45 L145.87,18.49 L146.19,18.54 L146.51,18.58 L146.82,18.63 L147.14,18.68 L147.46,18.73 L147.77,18.78 L148.09,18.83 L148.41,18.88 L148.72,18.93 L149.04,18.98 L149.36,19.03 L149.67,19.08 L149.99,19.14 L150.31,19.19 L150.62,19.24 L150.94,19.30 L151.26,19.36 L151.57,19.41 L151.89,19.47 L152.20,19.53 L152.52,19.59 L152.83,19.65 L153.15,19.71 L153.47,19.77 L153.78,19.83 L154.10,19.89 L154.41,19.95 L154.73,20.02 L155.04,20.08 L155.36,20.14 L155.67,20.21 L155.99,20.28 L156.30,20.34 L156.62,20.41 L156.93,20.48 L157.25,20.55 L157.56,20.62 L157.88,20.69 L158.19,20.76 L158.51,20.83 L158.82,20.90 L159.13,20.98 L159.45,21.05 L159.76,21.13 L160.08,21.20 L160.39,21.28 L160.70,21.36 L161.02,21.43 L161.33,21.51 L161.65,21.59 L161.96,21.67 L162.27,21.76 L162.59,21.84 L162.90,21.92 L163.21,22.01 L163.52,22.09 L163.84,22.18 L164.15,22.26 L164.46,22.35 L164.78,22.44 L165.09,22.53 L165.40,22.63 L165.71,22.72 L166.03,22.81 L166.34,22.91 L166.65,23.00 L166.96,23.10 L167.28,23.20 L167.59,23.30 L167.90,23.40 L168.21,23.50 L168.52,23.61 L168.84,23.71 L169.15,23.82 L169.46,23.93 L169.77,24.04 L170.08,24.15 L170.40,24.26 L170.71,24.38 L171.02,24.49 L171.33,24.61 L171.64,24.73 L171.95,24.85 L172.26,24.97 L172.58,25.09 L172.89,25.22 L173.20,25.34 L173.51,25.47 L173.82,25.60 L174.13,25.73 L174.44,25.87 L174.75,26.00 L175.06,26.14 L175.37,26.28 L175.69,26.42 L176.00,26.56 L176.31,26.71 L176.62,26.85 L176.93,27.00 L177.24,27.15 L177.55,27.30 L177.86,27.46 L178.17,27.61 L178.48,27.77 L178.79,27.93 L179.10,28.09 L179.41,28.26 L179.72,28.42 L180.03,28.59 L180.33,28.76 L180.64,28.94 L180.95,29.11 L181.26,29.29 L181.56,29.47 L181.87,29.65 L182.17,29.84 L182.47,30.02 L182.78,30.21 L183.08,30.41 L183.38,30.60 L183.68,30.80 L183.98,31.00 L184.28,31.20 L184.57,31.40 L184.87,31.61 L185.16,31.82 L185.46,32.04 L185.75,32.25 L186.04,32.47 L186.33,32.69 L186.62,32.91 L186.91,33.14 L187.19,33.37 L187.48,33.60 L187.76,33.84 L188.04,34.08 L188.32,34.32 L188.60,34.56 L188.88,34.81 L189.15,35.06 L189.42,35.31 L189.69,35.57 L189.96,35.83 L190.23,36.09 L190.49,36.36 L190.76,36.63 L191.02,36.90 L191.28,37.17 L191.54,37.45 L191.79,37.73 L192.04,38.02 L192.29,38.31 L192.54,38.60 L192.79,38.90 L193.03,39.20 L193.27,39.50 L193.51,39.80 L193.75,40.11 L193.98,40.43 L194.21,40.74 L194.44,41.06 L194.67,41.39 L194.89,41.72 L195.11,42.05 L195.33,42.38 L195.54,42.72 L195.75,43.07 L195.96,43.41 L196.17,43.76 L196.37,44.12 L196.57,44.47 L196.77,44.84 L196.96,45.20 L197.15,45.57 L197.34,45.94 L197.53,46.32 L197.71,46.70 L197.89,47.08 L198.07,47.47 L198.24,47.86 L198.41,48.25 L198.58,48.65 L198.75,49.05 L198.92,49.45 L199.08,49.85 L199.24,50.26 L199.40,50.67 L199.56,51.08 L199.71,51.49 L199.86,51.91 L200.01,52.33 L200.16,52.75 L200.30,53.17 L200.45,53.60 L200.59,54.02 L200.73,54.45 L200.87,54.88 L201.00,55.32 L201.14,55.75 L201.27,56.19 L201.40,56.62 L201.53,57.06 L201.66,57.50 L201.79,57.94 L201.92,58.39 L202.04,58.83 L202.16,59.28 L202.28,59.72 L202.40,60.17 L202.52,60.62 L202.64,61.06 L202.76,61.51 L202.87,61.96 L202.99,62.41 L203.10,62.86 L203.22,63.31 L203.33,63.77 L203.44,64.22 L203.55,64.67 L203.66,65.12 L203.77,65.57 L203.88,66.03 L203.98,66.48 L204.09,66.93 L204.19,67.39 L204.30,67.84 L204.40,68.29 L204.50,68.75 L204.61,69.20 L204.71,69.66 L204.81,70.11 L204.91,70.57 L205.00,71.03 L205.10,71.48 L205.20,71.94 L205.29,72.39 L205.39,72.85 L205.48,73.31 L205.58,73.77 L205.67,74.22 L205.76,74.68 L205.85,75.14 L205.94,75.60 L206.03,76.06 L206.12,76.52 L206.21,76.98 L206.30,77.43 L206.39,77.89 L206.47,78.35 L206.56,78.81 L206.64,79.28 L206.72,79.74 L206.81,80.20 L206.89,80.66 L206.97,81.12 L207.05,81.58 L207.13,82.04 L207.21,82.51 L207.29,82.97 L207.37,83.43 L207.44,83.89 L207.52,84.36 L207.60,84.82 L207.67,85.28 L207.75,85.75 L207.82,86.21 L207.89,86.68 L207.96,87.14 L208.04,87.61 L208.11,88.07 L208.18,88.54 L208.25,89.00 L208.31,89.47 L208.38,89.93 L208.45,90.40 L208.52,90.87 L208.58,91.33 L208.65,91.80 L208.71,92.27 L208.78,92.73 L208.84,93.20 L208.90,93.67 L208.97,94.14 L209.03,94.60 L209.09,95.07 L209.15,95.54 L209.21,96.01 L209.27,96.48 L209.33,96.95 L209.39,97.42 L209.44,97.88 L209.50,98.35 L209.56,98.82 L209.61,99.29 L209.67,99.76 L209.72,100.23 L209.78,100.70 L209.83,101.17 L209.88,101.65 L209.93,102.12 L209.99,102.59 L210.04,103.06 L210.09,103.53 L210.14,104.00 L210.19,104.47 L210.24,104.95 L210.28,105.42 L210.33,105.89 L210.38,106.36 L210.43,106.84 L210.47,107.31 L210.52,107.78 L210.56,108.26 L210.61,108.73 L210.65,109.20 L210.70,109.68 L210.74,110.15 L210.78,110.62 L210.83,111.10 L210.87,111.57 L210.91,112.05 L210.95,112.52 L210.99,113.00 L211.03,113.47 L211.07,113.94 L211.11,114.42 L211.15,114.90 L211.19,115.37 L211.22,115.85 L211.26,116.32 L211.30,116.80 L211.33,117.27 L211.37,117.75 L211.41,118.23 L211.44,118.70 L211.47,119.18 L211.51,119.65 L211.54,120.13 L211.58,120.61 L211.61,121.09 L211.64,121.56 L211.67,122.04 L211.71,122.52 L211.74,122.99 L211.77,123.47 L211.80,123.95 L211.83,124.43 L211.86,124.90 L211.89,125.38 L211.92,125.86 L211.95,126.34 L211.97,126.82 L212.00,127.30 L212.03,127.77 L212.06,128.25 L212.08,128.73 L212.11,129.21 L212.14,129.69 L212.16,130.17 L212.19,130.65 L212.22,131.13 L212.24,131.60 L212.26,132.08 L212.29,132.56 L212.31,133.04 L212.34,133.52 L212.36,134.00 L212.38,134.48 L212.41,134.96 L212.43,135.44 L212.45,135.92 L212.47,136.40 L212.50,136.88 L212.52,137.36 L212.54,137.84 L212.56,138.32 L212.58,138.80 L212.60,139.28 L212.62,139.76 L212.64,140.24 L212.66,140.72 L212.68,141.20 L212.70,141.69 L212.72,142.17 L212.74,142.65 L212.75,143.13 L212.77,143.61 L212.79,144.09 L212.81,144.57 L212.83,145.05 L212.84,145.53 L212.86,146.01 L212.88,146.50 L212.89,146.98 L212.91,147.46 L212.93,147.94 L212.94,148.42 L212.96,148.90 L212.98,149.38 L212.99,149.86 L213.01,150.35 L213.02,150.83 L213.04,151.31 L213.05,151.79 L213.07,152.27 L213.08,152.75 L213.10,153.24 L213.11,153.72 L213.13,154.20 L213.14,154.68 L213.15,155.16 L213.17,155.64 L213.18,156.13 L213.19,156.61 L213.21,157.09 L213.22,157.57 L213.24,158.05 L213.25,158.54 L213.26,159.02 L213.27,159.50 L213.29,159.98 L213.30,160.46 L213.31,160.94 L213.33,161.43 L213.34,161.91 L213.35,162.39 L213.36,162.87 L213.38,163.35 L213.39,163.83 L213.40,164.32 L213.41,164.80 L213.42,165.28 L213.44,165.76 L213.45,166.24 L213.46,166.73 L213.47,167.21 L213.49,167.69 L213.50,168.17 L213.51,168.65 L213.52,169.13 L213.53,169.61 L213.54,170.10 L213.56,170.58 L213.57,171.06 L213.58,171.54 L213.59,172.02 L213.60,172.50 L213.62,172.99 L213.63,173.47 L213.64,173.95 L213.65,174.43 L213.66,174.91 L213.67,175.39 L213.68,175.87 L213.70,176.35 L213.71,176.84 L213.72,177.32 L213.73,177.80 L213.74,178.28 L213.75,178.76 L213.77,179.24 L213.78,179.72 L213.79,180.20 L213.80,180.68 L213.81,181.17 L213.82,181.65 L213.83,182.13 L213.84,182.61 L213.86,183.09 L213.87,183.57 L213.88,184.05 L213.89,184.53 L213.90,185.01 L213.91,185.49 L213.92,185.97 L213.93,186.46 L213.94,186.94 L213.96,187.42 L213.97,187.90 L213.98,188.38 L213.99,188.86 L214.00,189.34 L214.01,189.82 L214.02,190.30 L214.03,190.78 L214.04,191.26 L214.05,191.74 L214.07,192.22 L214.08,192.70 L214.09,193.18 L214.10,193.66 L214.11,194.15 L214.12,194.63 L214.13,195.11 L214.14,195.59 L214.15,196.07 L214.16,196.55 L214.17,197.03 L214.18,197.51 L214.20,197.99 L214.21,198.47 L214.22,198.95 L214.23,199.43 L214.24,199.91 L214.25,200.39 L214.26,200.87 L214.27,201.35 L214.28,201.83 L214.29,202.31 L214.30,202.79 L214.31,203.27 L214.32,203.75 L214.33,204.23 L214.34,204.71 L214.35,205.19 L214.36,205.67 L214.38,206.15 L214.39,206.63 L214.40,207.11 L214.41,207.59 L214.42,208.07 L214.43,208.55 L214.44,209.03 L214.45,209.51 L214.46,209.99 L214.47,210.47 L214.48,210.95 L214.49,211.43 L214.50,211.91 L214.51,212.39 L214.52,212.87 L214.53,213.35 L214.54,213.83 L214.55,214.31 L214.56,214.79 L214.57,215.27 L214.58,215.75 L214.59,216.23 L214.60,216.71 L214.61,217.19 L214.62,217.67 L214.63,218.15 L214.64,218.63 L214.65,219.10 L214.67,219.58 L214.68,220.06 L214.69,220.54 L214.70,221.02 L214.71,221.50 L214.72,221.98 L214.73,222.46 L214.74,222.94 L214.75,223.42 L214.76,223.90 L214.77,224.38 L214.78,224.86 L214.79,225.34 L214.80,225.82 L214.81,226.30 L214.82,226.78 L214.83,227.26 L214.84,227.73 L214.85,228.21 L214.86,228.69 L214.87,229.17 L214.88,229.65 L214.89,230.13 L214.90,230.61 L214.91,231.09 L214.92,231.57 L214.93,232.05 L214.94,232.53 L214.95,233.01 L214.96,233.48 L214.97,233.96 L214.98,234.44 L214.99,234.92 L215.00,235.40 L215.01,235.88 L215.02,236.36 L215.03,236.84 L215.04,237.32 L215.05,237.80 L215.06,238.27 L215.07,238.75 L215.08,239.23 L215.09,239.71 L215.10,240.19 L215.11,240.67 L215.12,241.15 L215.13,241.63 L215.14,242.11 L215.15,242.59 L215.16,243.06 L215.17,243.54 L215.18,244.02 L215.19,244.50 L215.20,244.98 L215.22,245.46 L215.23,245.94 L215.24,246.42 L215.25,246.89 L215.26,247.37 L215.27,247.85 L215.28,248.33 L215.29,248.81 L215.30,249.29 L215.31,249.77 L215.32,250.25 L215.33,250.72 L215.34,251.20 L215.35,251.68 L215.36,252.16 L215.37,252.64 L215.38,253.12 L215.39,253.60 L215.40,254.07 L215.41,254.55 L215.42,255.03 L215.43,255.51 L215.44,255.99 L215.45,256.47 L215.46,256.95 L215.47,257.42 L215.48,257.90 L215.49,258.38 L215.50,258.86 L215.51,259.34 L215.52,259.82 L215.53,260.29 L215.54,260.77 L215.56,261.25 L215.57,261.73 L215.58,262.21 L215.59,262.69 L215.60,263.16 L215.61,263.64 L215.62,264.12 L215.63,264.60 L215.64,265.08 L215.65,265.56 L215.66,266.03 L215.67,266.51 L215.68,266.99 L215.69,267.47 L215.70,267.95 L215.71,268.43 L215.72,268.90 L215.73,269.38 L215.75,269.86 L215.76,270.34 L215.77,270.82 L215.78,271.30 L215.79,271.77 L215.80,272.25 L215.81,272.73 L215.82,273.21 L215.83,273.69 L215.84,274.16 L215.85,274.64 L215.86,275.12 L215.87,275.60 L215.89,276.08 L215.90,276.56 L215.91,277.03 L215.92,277.51 L215.93,277.99 L215.94,278.47 L215.95,278.95 L215.96,279.42 L215.97,279.90 L215.98,280.38 L215.99,280.86 L216.01,281.34 L216.02,281.81 L216.03,282.29 L216.04,282.77 L216.05,283.25 L216.06,283.73 L216.07,284.20 L216.08,284.68 L216.09,285.16 L216.11,285.64 L216.12,286.12 L216.13,286.59 L216.14,287.07 L216.15,287.55 L216.16,288.03 L216.17,288.51 L216.18,288.98 L216.20,289.46 L216.21,289.94 L216.22,290.42 L216.23,290.90 L216.24,291.37 L216.25,291.85 L216.26,292.33 L216.28,292.81 L216.29,293.29 L216.30,293.76 L216.31,294.24 L216.32,294.72 L216.33,295.20 L216.35,295.67 L216.36,296.15 L216.37,296.63 L216.38,297.11 L216.39,297.59 L216.40,298.06 L216.42,298.54 L216.43,299.02 L216.44,299.50 L216.45,299.98 L216.46,300.45 L216.48,300.93 L216.49,301.41 L216.50,301.89 L216.51,302.36 L216.52,302.84 L216.54,303.32 L216.55,303.80 L216.56,304.28 L216.57,304.75 L216.58,305.23 L216.60,305.71 L216.61,306.19 L216.62,306.66 L216.63,307.14 L216.65,307.62 L216.66,308.10 L216.67,308.57 L216.68,309.05 L216.70,309.53 L216.71,310.01 L216.72,310.49 L216.73,310.96 L216.75,311.44 L216.76,311.92 L216.77,312.40 L216.78,312.87 L216.80,313.35 L216.81,313.83 L216.82,314.31 L216.83,314.79 L216.85,315.26 L216.86,315.74 L216.87,316.22 L216.89,316.70 L216.90,317.17 L216.91,317.65 L216.92,318.13 L216.94,318.61 L216.95,319.08 L216.96,319.56 L216.98,320.04 L216.99,320.52 L217.00,320.99 L217.02,321.47 L217.03,321.95 L217.04,322.43 L217.06,322.91 L217.07,323.38 L217.08,323.86 L217.10,324.34 L217.11,324.82 L217.12,325.29 L217.14,325.77 L217.15,326.25 L217.16,326.73 L217.18,327.20 L217.19,327.68 L217.20,328.16 L217.22,328.64 L217.23,329.12 L217.25,329.59 L217.26,330.07 L217.27,330.55 L217.29,331.03 L217.30,331.50 L217.32,331.98 L217.33,332.46 L217.34,332.94 L217.36,333.41 L217.37,333.89 L217.39,334.37 L217.40,334.85 L217.41,335.32 L217.43,335.80 L217.44,336.28 L217.46,336.76 L217.47,337.24 L217.49,337.71 L217.50,338.19 L217.52,338.67 L217.53,339.15 L217.55,339.62 L217.56,340.10 L217.58,340.58 L217.59,341.06 L217.61,341.54 L217.62,342.01 L217.64,342.49 L217.65,342.97 L217.67,343.45 L217.68,343.93 L217.70,344.40 L217.71,344.88 L217.73,345.36 L217.74,345.84 L217.76,346.31 L217.77,346.79 L217.79,347.27 L217.80,347.75 L217.82,348.23 L217.84,348.71 L217.85,349.18 L217.87,349.66 L217.88,350.14 L217.90,350.62 L217.92,351.10 L217.93,351.57 L217.95,352.05 L217.96,352.53 L217.98,353.01 L218.00,353.49 L218.01,353.97 L218.03,354.44 L218.05,354.92 L218.06,355.40 L218.08,355.88 L218.10,356.36 L218.11,356.84 L218.13,357.31 L218.15,357.79 L218.16,358.27 L218.18,358.75 L218.20,359.23 L218.22,359.71 L218.23,360.19 L218.25,360.66 L218.27,361.14 L218.29,361.62 L218.30,362.10 L218.32,362.58 L218.34,363.06 L218.36,363.54 L218.37,364.02 L218.39,364.49 L218.41,364.97 L218.43,365.45 L218.45,365.93 L218.47,366.41 L218.48,366.89 L218.50,367.37 L218.52,367.85 L218.54,368.33 L218.56,368.81 L218.58,369.28 L218.60,369.76 L218.61,370.24 L218.63,370.72 L218.65,371.20 L218.67,371.68 L218.69,372.16 L218.71,372.64 L218.73,373.12 L218.75,373.60 L218.77,374.08 L218.79,374.56 L218.81,375.04 L218.83,375.52 L218.85,376.00 L218.87,376.48 L218.89,376.96 L218.91,377.44 L218.93,377.92 L218.95,378.40 L218.97,378.88 L218.99,379.36 L219.01,379.84 L219.03,380.32 L219.05,380.80 L219.07,381.28 L219.09,381.76 L219.11,382.24 L219.13,382.72 L219.16,383.20 L219.18,383.68 L219.20,384.16 L219.22,384.64 L219.24,385.12 L219.26,385.60 L219.28,386.08 L219.31,386.56 L219.33,387.04 L219.35,387.53 L219.37,388.01 L219.40,388.49 L219.42,388.97 L219.44,389.45 L219.46,389.93 L219.49,390.41 L219.51,390.89 L219.53,391.37 L219.55,391.86 L219.58,392.34 L219.60,392.82 L219.62,393.30 L219.65,393.78 L219.67,394.26 L219.69,394.74 L219.72,395.23 L219.74,395.71 L219.76,396.19 L219.79,396.67 L219.81,397.15 L219.84,397.64 L219.86,398.12 L219.89,398.60 L219.91,399.08 L219.94,399.56 L219.96,400.05 L219.98,400.53 L220.01,401.01 L220.03,401.49 L220.06,401.98 L220.09,402.46 L220.11,402.94 L220.14,403.42 L220.16,403.91 L220.19,404.39 L220.21,404.87 L220.24,405.36 L220.27,405.84 L220.29,406.32 L220.32,406.81 L220.34,407.29 L220.37,407.77 L220.40,408.26 L220.42,408.74 L220.45,409.22 L220.48,409.71 L220.51,410.19 L220.53,410.67 L220.56,411.16 L220.59,411.64 L220.62,412.12 L220.65,412.61 L220.68,413.09 L220.70,413.57 L220.73,414.06 L220.76,414.54 L220.79,415.02 L220.83,415.51 L220.86,415.99 L220.89,416.47 L220.92,416.96 L220.95,417.44 L220.98,417.92 L221.02,418.40 L221.05,418.89 L221.08,419.37 L221.12,419.85 L221.15,420.33 L221.19,420.81 L221.23,421.29 L221.26,421.78 L221.30,422.26 L221.34,422.74 L221.38,423.22 L221.41,423.70 L221.45,424.18 L221.49,424.66 L221.54,425.14 L221.58,425.62 L221.62,426.09 L221.66,426.57 L221.71,427.05 L221.75,427.53 L221.80,428.01 L221.84,428.48 L221.89,428.96 L221.94,429.44 L221.98,429.91 L222.03,430.39 L222.08,430.87 L222.13,431.34 L222.19,431.82 L222.24,432.29 L222.29,432.76 L222.35,433.24 L222.40,433.71 L222.46,434.18 L222.51,434.65 L222.57,435.13 L222.63,435.60 L222.69,436.07 L222.75,436.54 L222.81,437.01 L222.88,437.48 L222.94,437.95 L223.01,438.41 L223.07,438.88 L223.14,439.35 L223.21,439.82 L223.28,440.28 L223.35,440.75 L223.42,441.21 L223.50,441.68 L223.57,442.14 L223.65,442.60 L223.72,443.06 L223.80,443.53 L223.88,443.99 L223.96,444.45 L224.04,444.91 L224.12,445.37 L224.21,445.83 L224.29,446.28 L224.38,446.74 L224.47,447.20 L224.56,447.65 L224.65,448.11 L224.74,448.56 L224.84,449.02 L224.93,449.47 L225.03,449.92 L225.13,450.37 L225.23,450.82 L225.33,451.27 L225.43,451.72 L225.54,452.17 L225.64,452.62 L225.75,453.06 L225.86,453.51 L225.97,453.95 L226.08,454.40 L226.19,454.84 L226.31,455.28 L226.42,455.72 L226.54,456.16 L226.66,456.60 L226.79,457.04 L226.91,457.48 L227.03,457.92 L227.16,458.35 L227.29,458.79 L227.42,459.22 L227.55,459.65 L227.69,460.09 L227.82,460.52 L227.96,460.94 L228.10,461.37 L228.24,461.80 L228.38,462.22 L228.53,462.65 L228.67,463.07 L228.82,463.49 L228.97,463.91 L229.12,464.33 L229.28,464.74 L229.43,465.16 L229.59,465.57 L229.75,465.98 L229.91,466.39 L230.07,466.80 L230.24,467.20 L230.40,467.60 L230.57,468.00 L230.74,468.40 L230.92,468.80 L231.09,469.19 L231.27,469.59 L231.45,469.98 L231.63,470.36 L231.81,470.75 L232.00,471.13 L232.18,471.51 L232.37,471.89 L232.56,472.26 L232.76,472.64 L232.95,473.01 L233.15,473.37 L233.35,473.74 L233.55,474.10 L233.75,474.46 L233.96,474.81 L234.17,475.17 L234.38,475.52 L234.59,475.86 L234.80,476.21 L235.02,476.55 L235.24,476.88 L235.46,477.22 L235.68,477.55 L235.91,477.88 L236.13,478.20 L236.36,478.52 L236.59,478.84 L236.83,479.15 L237.06,479.46 L237.30,479.77 L237.54,480.07 L237.79,480.37 L238.03,480.66 L238.28,480.95 L238.53,481.24 L238.78,481.53 L239.04,481.81 L239.29,482.08 L239.55,482.36 L239.81,482.62 L240.08,482.89 L240.34,483.15 L240.61,483.41 L240.87,483.67 L241.15,483.92 L241.42,484.17 L241.69,484.41 L241.97,484.65 L242.24,484.89 L242.52,485.13 L242.80,485.36 L243.09,485.59 L243.37,485.81 L243.65,486.04 L243.94,486.26 L244.23,486.47 L244.52,486.69 L244.81,486.90 L245.10,487.11 L245.39,487.31 L245.68,487.51 L245.98,487.71 L246.27,487.91 L246.57,488.10 L246.87,488.30 L247.17,488.49 L247.47,488.67 L247.77,488.86 L248.07,489.04 L248.37,489.22 L248.67,489.39 L248.98,489.57 L249.28,489.74 L249.59,489.91 L249.89,490.08 L250.20,490.24 L250.50,490.41 L250.81,490.57 L251.12,490.73 L251.42,490.88 L251.73,491.04 L252.04,491.19 L252.35,491.34 L252.65,491.49 L252.96,491.64 L253.27,491.78 L253.58,491.92 L253.89,492.07 L254.20,492.21 L254.51,492.34 L254.82,492.48 L255.13,492.61 L255.44,492.74 L255.75,492.88 L256.06,493.00 L256.37,493.13 L256.68,493.26 L256.99,493.38 L257.31,493.50 L257.62,493.62 L257.93,493.74 L258.24,493.86 L258.56,493.98 L258.87,494.09 L259.18,494.20 L259.49,494.31 L259.81,494.42 L260.12,494.53 L260.43,494.64 L260.75,494.75 L261.06,494.85 L261.38,494.95 L261.69,495.05 L262.00,495.15 L262.32,495.25 L262.63,495.35 L262.95,495.45 L263.26,495.54 L263.58,495.64 L263.89,495.73 L264.21,495.82 L264.52,495.91 L264.84,496.00 L265.15,496.09 L265.47,496.18 L265.78,496.27 L266.10,496.35 L266.41,496.44 L266.73,496.52 L267.05,496.60 L267.36,496.68 L267.68,496.77 L267.99,496.85 L268.31,496.92 L268.63,497.00 L268.94,497.08 L269.26,497.16 L269.57,497.23 L269.89,497.31 L270.21,497.38 L270.52,497.46 L270.84,497.53 L271.16,497.60 L271.47,497.67 L271.79,497.74 L272.11,497.81 L272.42,497.88 L272.74,497.95 L273.06,498.01 L273.37,498.08 L273.69,498.15 L274.01,498.21 L274.32,498.28 L274.64,498.34 L274.96,498.40 L275.27,498.46 L275.59,498.53 L275.91,498.59 L276.22,498.65 L276.54,498.71 L276.86,498.76 L277.17,498.82 L277.49,498.88 L277.81,498.94 L278.13,498.99 L278.44,499.05 L278.76,499.10 L279.08,499.16 L279.39,499.21 L279.71,499.26 L280.03,499.31 L280.35,499.37 L280.66,499.42 L280.98,499.47 L281.30,499.52 L281.62,499.57 L281.93,499.61 L282.25,499.66 L282.57,499.71 L282.89,499.76 L283.20,499.80 L283.52,499.85 L283.84,499.89 L284.16,499.94 L284.48,499.98 L284.79,500.02 L285.11,500.07 L285.43,500.11 L285.75,500.15 L286.06,500.19 L286.38,500.23 L286.70,500.27 L287.02,500.31 L287.34,500.35 L287.65,500.39 L287.97,500.43 L288.29,500.47 L288.61,500.50 L288.93,500.54 L289.25,500.58 L289.56,500.61 L289.88,500.65 L290.20,500.68 L290.52,500.72 L290.84,500.75 L291.15,500.79 L291.47,500.82 L291.79,500.85 L292.11,500.88 L292.43,500.92 L292.75,500.95 L293.07,500.98 L293.38,501.01 L293.70,501.04 L294.02,501.07 L294.34,501.10 L294.66,501.13 L294.98,501.16 L295.30,501.19 L295.61,501.22 L295.93,501.24 L296.25,501.27 L296.57,501.30 L296.89,501.32 L297.21,501.35 L297.53,501.38 L297.84,501.40 L298.16,501.43 L298.48,501.45 L298.80,501.48 L299.12,501.50 L299.44,501.53 L299.76,501.55 L300.08,501.58 L300.40,501.60 L300.71,501.62 L301.03,501.65 L301.35,501.67 L301.67,501.69 L301.99,501.72 L302.31,501.74 L302.63,501.76 L302.95,501.78 L303.27,501.80 L303.58,501.82 L303.90,501.85 L304.22,501.87 L304.54,501.89 L304.86,501.91 L305.18,501.93 L305.50,501.95 L305.82,501.97 L306.14,501.99 L306.46,502.01 L306.78,502.03 L307.09,502.05 L307.41,502.07 L307.73,502.09 L308.05,502.11 L308.37,502.12 L308.69,502.14 L309.01,502.16 L309.33,502.18 L309.65,502.20 L309.97,502.22 L310.29,502.24 L310.61,502.25 L310.93,502.27 L311.24,502.29 L311.56,502.31 L311.88,502.33 L312.20,502.34 L312.52,502.36 L312.84,502.38 L313.16,502.40 L313.48,502.41 L313.80,502.43 L314.12,502.45 L314.44,502.47 L314.76,502.49 L315.08,502.50 L315.40,502.52 L315.72,502.54 L316.03,502.56 L316.35,502.57 L316.67,502.59 L316.99,502.61 L317.31,502.63 L317.63,502.64 L317.95,502.66 L318.27,502.68 L318.59,502.69 L318.91,502.71 L319.23,502.73 L319.55,502.75 L319.87,502.76 L320.19,502.78 L320.51,502.80 L320.83,502.82 L321.15,502.83 L321.46,502.85 L321.78,502.87 L322.10,502.88 L322.42,502.90 L322.74,502.92 L323.06,502.93 L323.38,502.95 L323.70,502.97 L324.02,502.98 L324.34,503.00 L324.66,503.02 L324.98,503.03 L325.30,503.05 L325.62,503.07 L325.94,503.08 L326.26,503.10 L326.58,503.12 L326.90,503.13 L327.22,503.15 L327.54,503.17 L327.85,503.18 L328.17,503.20 L328.49,503.22 L328.81,503.23 L329.13,503.25 L329.45,503.27 L329.77,503.28 L330.09,503.30 L330.41,503.31 L330.73,503.33 L331.05,503.35 L331.37,503.36 L331.69,503.38 L332.01,503.39 L332.33,503.41 L332.65,503.43 L332.97,503.44 L333.29,503.46 L333.61,503.47 L333.93,503.49 L334.25,503.51 L334.57,503.52 L334.89,503.54 L335.21,503.55 L335.53,503.57 L335.84,503.58 L336.16,503.60 L336.48,503.62 L336.80,503.63 L337.12,503.65 L337.44,503.66 L337.76,503.68 L338.08,503.69 L338.40,503.71 L338.72,503.72 L339.04,503.74 L339.36,503.75 L339.68,503.77 L340.00,503.79 L340.32,503.80 L340.64,503.82 L340.96,503.83 L341.28,503.85 L341.60,503.86 L341.92,503.88 L342.24,503.89 L342.56,503.91 L342.88,503.92 L343.20,503.94 L343.52,503.95 L343.84,503.97 L344.16,503.98 L344.48,504.00 L344.80,504.01 L345.12,504.03 L345.43,504.04 L345.75,504.05 L346.07,504.07 L346.39,504.08 L346.71,504.10 L347.03,504.11 L347.35,504.13 L347.67,504.14 L347.99,504.16 L348.31,504.17 L348.63,504.19 L348.95,504.20 L349.27,504.21 L349.59,504.23 L349.91,504.24 L350.23,504.26 L350.55,504.27 L350.87,504.29 L351.19,504.30 L351.51,504.31 L351.83,504.33 L352.15,504.34 L352.47,504.36 L352.79,504.37 L353.11,504.38 L353.43,504.40 L353.75,504.41 L354.07,504.43 L354.39,504.44 L354.71,504.45 L355.03,504.47 L355.35,504.48 L355.67,504.49 L355.99,504.51 L356.31,504.52 L356.62,504.53 L356.94,504.55 L357.26,504.56 L357.58,504.58 L357.90,504.59 L358.22,504.60 L358.54,504.62 L358.86,504.63 L359.18,504.64 L359.50,504.66 L359.82,504.67 L360.14,504.68 L360.46,504.70 L360.78,504.71 L361.10,504.72 L361.42,504.73 L361.74,504.75 L362.06,504.76 L362.38,504.77 L362.70,504.79 L363.02,504.80 L363.34,504.81 L363.66,504.83 L363.98,504.84 L364.30,504.85 L364.62,504.86 L364.94,504.88 L365.26,504.89 L365.58,504.90 L365.90,504.91 L366.22,504.93 L366.54,504.94 L366.86,504.95 L367.18,504.96 L367.50,504.98 L367.81,504.99 L368.13,505.00 L368.45,505.01 L368.77,505.03 L369.09,505.04 L369.41,505.05 L369.73,505.06 L370.05,505.08 L370.37,505.09 L370.69,505.10 L371.01,505.11 L371.33,505.12 L371.65,505.14 L371.97,505.15 L372.29,505.16 L372.61,505.17 L372.93,505.18 L373.25,505.20 L373.57,505.21 L373.89,505.22 L374.21,505.23 L374.53,505.24 L374.85,505.25 L375.17,505.27 L375.49,505.28 L375.81,505.29 L376.13,505.30 L376.45,505.31 L376.77,505.32 L377.09,505.34 L377.41,505.35 L377.73,505.36 L378.05,505.37 L378.37,505.38 L378.69,505.39 L379.00,505.40 L379.32,505.42 L379.64,505.43 L379.96,505.44 L380.28,505.45 L380.60,505.46 L380.92,505.47 L381.24,505.48 L381.56,505.49 L381.88,505.51 L382.20,505.52 L382.52,505.53 L382.84,505.54 L383.16,505.55 L383.48,505.56 L383.80,505.57 L384.12,505.58 L384.44,505.59 L384.76,505.60 L385.08,505.61 L385.40,505.62 L385.72,505.64 L386.04,505.65 L386.36,505.66 L386.68,505.67 L387.00,505.68 L387.32,505.69 L387.64,505.70 L387.96,505.71 L388.28,505.72 L388.60,505.73 L388.92,505.74 L389.23,505.75 L389.55,505.76 L389.87,505.77 L390.19,505.78 L390.51,505.79 L390.83,505.80 L391.15,505.81 L391.47,505.82 L391.79,505.83 L392.11,505.84 L392.43,505.85 L392.75,505.86 L393.07,505.87 L393.39,505.88 L393.71,505.89 L394.03,505.90 L394.35,505.91 L394.67,505.92 L394.99,505.93 L395.31,505.94 L395.63,505.95 L395.95,505.96 L396.27,505.97 L396.59,505.98 L396.91,505.99 L397.23,506.00 L397.55,506.01 L397.87,506.02 L398.19,506.03 L398.51,506.04 L398.83,506.05 L399.15,506.06 L399.46,506.07 L399.78,506.08 L400.10,506.09 L400.42,506.10 L400.74,506.11 L401.06,506.12 L401.38,506.13 L401.70,506.14 L402.02,506.14 L402.34,506.15 L402.66,506.16 L402.98,506.17 L403.30,506.18 L403.62,506.19 L403.94,506.20 L404.26,506.21 L404.58,506.22 L404.90,506.23 L405.22,506.24 L405.54,506.25 L405.86,506.25 L406.18,506.26 L406.50,506.27 L406.82,506.28 L407.14,506.29 L407.46,506.30 L407.78,506.31 L408.10,506.32 L408.42,506.33 L408.74,506.33 L409.06,506.34 L409.37,506.35 L409.69,506.36 L410.01,506.37 L410.33,506.38 L410.65,506.39 L410.97,506.39 L411.29,506.40 L411.61,506.41 L411.93,506.42 L412.25,506.43 L412.57,506.44 L412.89,506.45 L413.21,506.45 L413.53,506.46 L413.85,506.47 L414.17,506.48 L414.49,506.49 L414.81,506.50 L415.13,506.50 L415.45,506.51 L415.77,506.52 L416.09,506.53 L416.41,506.54 L416.73,506.55 L417.05,506.55 L417.37,506.56 L417.69,506.57 L418.01,506.58 L418.33,506.59 L418.65,506.59 L418.96,506.60 L419.28,506.61 L419.60,506.62 L419.92,506.63 L420.24,506.63 L420.56,506.64 L420.88,506.65 L421.20,506.66 L421.52,506.67 L421.84,506.67 L422.16,506.68 L422.48,506.69 L422.80,506.70 L423.12,506.70 L423.44,506.71 L423.76,506.72 L424.08,506.73 L424.40,506.73 L424.72,506.74 L425.04,506.75 L425.36,506.76 L425.68,506.76 L426.00,506.77 L426.32,506.78 L426.64,506.79 L426.96,506.79 L427.28,506.80 L427.60,506.81 L427.92,506.82 L428.24,506.82 L428.55,506.83 L428.87,506.84 L429.19,506.85 L429.51,506.85 L429.83,506.86 L430.15,506.87 L430.47,506.87 L430.79,506.88 L431.11,506.89 L431.43,506.90 L431.75,506.90 L432.07,506.91 L432.39,506.92 L432.71,506.92 L433.03,506.93 L433.35,506.94 L433.67,506.95 L433.99,506.95 L434.31,506.96 L434.63,506.97 L434.95,506.97 L435.27,506.98 L435.59,506.99 L435.91,506.99 L436.23,507.00 L436.55,507.01 L436.87,507.01 L437.19,507.02 L437.51,507.03 L437.82,507.03 L438.14,507.04 L438.46,507.05 L438.78,507.05 L439.10,507.06 L439.42,507.07 L439.74,507.07 L440.06,507.08 L440.38,507.09 L440.70,507.09 L441.02,507.10 L441.34,507.11 L441.66,507.11 L441.98,507.12 L442.30,507.13 L442.62,507.13 L442.94,507.14 L443.26,507.15 L443.58,507.15 L443.90,507.16 L444.22,507.16 L444.54,507.17 L444.86,507.18 L445.18,507.18 L445.50,507.19 L445.82,507.20 L446.14,507.20 L446.46,507.21 L446.78,507.21 L447.09,507.22 L447.41,507.23 L447.73,507.23 L448.05,507.24 L448.37,507.25 L448.69,507.25 L449.01,507.26 L449.33,507.26 L449.65,507.27 L449.97,507.28 L450.29,507.28 L450.61,507.29 L450.93,507.29 L451.25,507.30 L451.57,507.31 L451.89,507.31 L452.21,507.32 L452.53,507.32 L452.85,507.33 L453.17,507.33 L453.49,507.34 L453.81,507.35 L454.13,507.35 L454.45,507.36 L454.77,507.36 L455.09,507.37 L455.41,507.38 L455.73,507.38 L456.05,507.39 L456.36,507.39 L456.68,507.40 L457.00,507.40 L457.32,507.41 L457.64,507.41 L457.96,507.42 L458.28,507.43 L458.60,507.43 L458.92,507.44 L459.24,507.44 L459.56,507.45 L459.88,507.45 L460.20,507.46 L460.52,507.46 L460.84,507.47 L461.16,507.48 L461.48,507.48 L461.80,507.49 L462.12,507.49 L462.44,507.50 L462.76,507.50 L463.08,507.51 L463.40,507.51 L463.72,507.52 L464.04,507.52 L464.36,507.53 L464.68,507.53 L465.00,507.54 L465.32,507.54 L465.63,507.55 L465.95,507.55 L466.27,507.56 L466.59,507.56 L466.91,507.57 L467.23,507.58 L467.55,507.58 L467.87,507.59 L468.19,507.59 L468.51,507.60 L468.83,507.60 L469.15,507.61 L469.47,507.61 L469.79,507.62 L470.11,507.62 L470.43,507.63 L470.75,507.63 L471.07,507.64 L471.39,507.64 L471.71,507.65 L472.03,507.65 L472.35,507.66 L472.67,507.66 L472.99,507.66 L473.31,507.67 L473.63,507.67 L473.95,507.68 L474.27,507.68 L474.59,507.69 L474.90,507.69 L475.22,507.70 L475.54,507.70 L475.86,507.71 L476.18,507.71 L476.50,507.72 L476.82,507.72 L477.14,507.73 L477.46,507.73 L477.78,507.74 L478.10,507.74 L478.42,507.75 L478.74,507.75 L479.06,507.75 L479.38,507.76 L479.70,507.76 L480.02,507.77 L480.34,507.77 L480.66,507.78 L480.98,507.78 L481.30,507.79 L481.62,507.79 L481.94,507.80 L482.26,507.80 L482.58,507.80 L482.90,507.81 L483.22,507.81 L483.54,507.82 L483.86,507.82 L484.17,507.83 L484.49,507.83 L484.81,507.84 L485.13,507.84 L485.45,507.84 L485.77,507.85 L486.09,507.85 L486.41,507.86 L486.73,507.86 L487.05,507.87 L487.37,507.87 L487.69,507.87 L488.01,507.88 L488.33,507.88 L488.65,507.89 L488.97,507.89 L489.29,507.90 L489.61,507.90 L489.93,507.90 L490.25,507.91 L490.57,507.91 L490.89,507.92 L491.21,507.92 L491.53,507.93 L491.85,507.93 L492.17,507.93 L492.49,507.94 L492.81,507.94 L493.13,507.95 L493.44,507.95 L493.76,507.95 L494.08,507.96 L494.40,507.96 L494.72,507.97 L495.04,507.97 L495.36,507.97 L495.68,507.98 L496.00,507.98 L496.32,507.99 L496.64,507.99 L496.96,507.99 L497.28,508.00 L497.60,508.00 L497.92,508.01 L498.24,508.01 L498.56,508.01 L498.88,508.02 L499.20,508.02 L499.52,508.03 L499.84,508.03 L500.16,508.03 L500.48,508.04 L500.80,508.04 L501.12,508.05 L501.44,508.05 L501.76,508.05 L502.08,508.06 L502.40,508.06 L502.71,508.06 L503.03,508.07 L503.35,508.07 L503.67,508.08 L503.99,508.08 L504.31,508.08 L504.63,508.09 L504.95,508.09 L505.27,508.09 L505.59,508.10 L505.91,508.10 L506.23,508.11 L506.55,508.11 L506.87,508.11 L507.19,508.12 L507.51,508.12 L507.83,508.12 L508.15,508.13 L508.47,508.13 L508.79,508.14 L509.11,508.14 L509.43,508.14 L509.75,508.15 L510.07,508.15 L510.39,508.15 L510.71,508.16 L511.03,508.16 L511.35,508.16 L511.67,508.17 L511.99,508.17 L512.30,508.18 L512.62,508.18 L512.94,508.18 L513.26,508.19 L513.58,508.19 L513.90,508.19 L514.22,508.20 L514.54,508.20 L514.86,508.20 L515.18,508.21 L515.50,508.21 L515.82,508.21 L516.14,508.22 L516.46,508.22 L516.78,508.23 L517.10,508.23 L517.42,508.23 L517.74,508.24 L518.06,508.24 L518.38,508.24 L518.70,508.25 L519.02,508.25 L519.34,508.25 L519.66,508.26 L519.98,508.26 L520.30,508.26 L520.62,508.27 L520.94,508.27 L521.26,508.27 L521.58,508.28 L521.89,508.28 L522.21,508.28 L522.53,508.29 L522.85,508.29 L523.17,508.29 L523.49,508.30 L523.81,508.30 L524.13,508.30 L524.45,508.31 L524.77,508.31 L525.09,508.31 L525.41,508.32 L525.73,508.32 L526.05,508.32 L526.37,508.33 L526.69,508.33 L527.01,508.33 L527.33,508.34 L527.65,508.34 L527.97,508.34 L528.29,508.35 L528.61,508.35 L528.93,508.35 L529.25,508.36 L529.57,508.36 L529.89,508.36 L530.21,508.37 L530.53,508.37 L530.85,508.37 L531.17,508.38 L531.49,508.38 L531.80,508.38 L532.12,508.39 L532.44,508.39 L532.76,508.39 L533.08,508.40 L533.40,508.40 L533.72,508.40 L534.04,508.41 L534.36,508.41 L534.68,508.41 L535.00,508.42 L535.32,508.42 L535.64,508.42 L535.96,508.43 L536.28,508.43 L536.60,508.43 L536.92,508.44 L537.24,508.44 L537.56,508.44 L537.88,508.45 L538.20,508.45 L538.52,508.45 L538.84,508.46 L539.16,508.46 L539.48,508.46 L539.80,508.46 L540.12,508.47 L540.44,508.47 L540.76,508.47 L541.08,508.48 L541.40,508.48 L541.72,508.48 L542.03,508.49 L542.35,508.49 L542.67,508.49 L542.99,508.50 L543.31,508.50 L543.63,508.50 L543.95,508.51 L544.27,508.51 L544.59,508.51 L544.91,508.52 L545.23,508.52 L545.55,508.52 L545.87,508.53 L546.19,508.53 L546.51,508.53 L546.83,508.53 L547.15,508.54 L547.47,508.54 L547.79,508.54 L548.11,508.55 L548.43,508.55 L548.75,508.55 L549.07,508.56 L549.39,508.56 L549.71,508.56 L550.03,508.57 L550.35,508.57 L550.67,508.57 L550.99,508.58 L551.31,508.58 L551.63,508.58 L551.95,508.59 L552.26,508.59 L552.58,508.59 L552.90,508.59 L553.22,508.60 L553.54,508.60 L553.86,508.60 L554.18,508.61 L554.50,508.61 L554.82,508.61 L555.14,508.62 L555.46,508.62 L555.78,508.62 L556.10,508.63 L556.42,508.63 L556.74,508.63 L557.06,508.64 L557.38,508.64 L557.70,508.64 L558.02,508.65 L558.34,508.65 L558.66,508.65 L558.98,508.66 L559.30,508.66 L559.62,508.66 L559.94,508.66 L560.26,508.67 L560.58,508.67 L560.90,508.67 L561.22,508.68 L561.54,508.68 L561.86,508.68 L562.18,508.69 L562.50,508.69 L562.82,508.69 L563.13,508.70 L563.45,508.70 L563.77,508.70 L564.09,508.71 L564.41,508.71 L564.73,508.71 L565.05,508.72 L565.37,508.72 L565.69,508.72 L566.01,508.73 L566.33,508.73 L566.65,508.73 L566.97,508.73 L567.29,508.74 L567.61,508.74 L567.93,508.74 L568.25,508.75 L568.57,508.75 L568.89,508.75 L569.21,508.76 L569.53,508.76 L569.85,508.76 L570.17,508.77 L570.49,508.77 L570.81,508.77 L571.13,508.78 L571.45,508.78 L571.77,508.78 L572.09,508.79 L572.41,508.79 L572.73,508.79 L573.05,508.80 L573.37,508.80 L573.69,508.80 L574.01,508.81 L574.33,508.81 L574.64,508.81 L574.96,508.82 L575.28,508.82 L575.60,508.82 L575.92,508.83 L576.24,508.83 L576.56,508.83 L576.88,508.84 L577.20,508.84 L577.52,508.84 L577.84,508.85 L578.16,508.85 L578.48,508.85 L578.80,508.86 L579.12,508.86 L579.44,508.86 L579.76,508.87 L580.08,508.87 L580.40,508.87 L580.72,508.88 L581.04,508.88 L581.36,508.88 L581.68,508.89 L582.00,508.89 L582.32,508.89 L582.64,508.90 L582.96,508.90 L583.28,508.90 L583.60,508.91 L583.92,508.91 L584.24,508.91 L584.56,508.92 L584.88,508.92 L585.20,508.92 L585.52,508.93 L585.84,508.93 L586.16,508.94 L586.48,508.94 L586.79,508.94 L587.11,508.95 L587.43,508.95 L587.75,508.95 L588.07,508.96 L588.39,508.96 L588.71,508.96 L589.03,508.97 L589.35,508.97 L589.67,508.97 L589.99,508.98 L590.31,508.98 L590.63,508.98 L590.95,508.99 L591.27,508.99 L591.59,509.00 L591.91,509.00 L592.23,509.00 L592.55,509.01 L592.87,509.01 L593.19,509.01 L593.51,509.02 L593.83,509.02 L594.15,509.02 L594.47,509.03 L594.79,509.03 L595.11,509.04 L595.43,509.04 L595.75,509.04 L596.07,509.05 L596.39,509.05 L596.71,509.05 L597.03,509.06 L597.35,509.06 L597.67,509.07 L597.99,509.07 L598.31,509.07 L598.63,509.08 L598.95,509.08 L599.27,509.08 L599.59,509.09 L599.90,509.09 L600.22,509.10 L600.54,509.10 L600.86,509.10 L601.18,509.11 L601.50,509.11 L601.82,509.11 L602.14,509.12 L602.46,509.12 L602.78,509.13 L603.10,509.13 L603.42,509.13 L603.74,509.14 L604.06,509.14 L604.38,509.15 L604.70,509.15 L605.02,509.15 L605.34,509.16 L605.66,509.16 L605.98,509.17 L606.30,509.17 L606.62,509.17 L606.94,509.18 L607.26,509.18 L607.58,509.19 L607.90,509.19 L608.22,509.19 L608.54,509.20 L608.86,509.20 L609.18,509.21 L609.50,509.21 L609.82,509.21 L610.14,509.22 L610.46,509.22 L610.78,509.23 L611.10,509.23 L611.42,509.23 L611.74,509.24 L612.06,509.24 L612.38,509.25 L612.70,509.25 L613.02,509.25 L613.34,509.26 L613.66,509.26 L613.98,509.27 L614.29,509.27 L614.61,509.28 L614.93,509.28 L615.25,509.28 L615.57,509.29 L615.89,509.29 L616.21,509.30 L616.53,509.30" fill="none" stroke="#ff00ff" stroke-width="3.5" stroke-linejoin="round" stroke-linecap="round"/>
</g>
<path d="M491.9,51.0 H776.3" stroke="#2660a8" stroke-width="3.0" stroke-linecap="butt"/>
<text transform="translate(789.16,58.40) scale(1.5305,1)" font-size="25.00" fill="#000" stroke="#000" stroke-width="0.45" stroke-linejoin="round">T=200K</text>
<path d="M491.8,98.6 H776.6" stroke="#f40000" stroke-width="3.1" stroke-linecap="butt"/>
<text transform="translate(789.16,103.60) scale(1.5129,1)" font-size="25.29" fill="#000" stroke="#000" stroke-width="0.45" stroke-linejoin="round">T=250K</text>
<path d="M491.8,142.5 H776.6" stroke="#000000" stroke-width="3.1" stroke-linecap="butt"/>
<text transform="translate(789.16,148.60) scale(1.5669,1)" font-size="24.42" fill="#000" stroke="#000" stroke-width="0.45" stroke-linejoin="round">T=300K</text>
<path d="M488.1,181.0 H772.5" stroke="#e000cc" stroke-width="3.6" stroke-linecap="butt"/>
<text transform="translate(789.16,189.20) scale(1.5216,1)" font-size="25.15" fill="#000" stroke="#000" stroke-width="0.45" stroke-linejoin="round">T=350K</text>
<text transform="translate(54.78,516.89) scale(1.5180,1)" font-size="20.62" fill="#000" stroke="#000" stroke-width="0.45" stroke-linejoin="round" >0.0</text>
<text transform="translate(54.78,418.79) scale(1.5154,1)" font-size="20.62" fill="#000" stroke="#000" stroke-width="0.45" stroke-linejoin="round" >0.</text>
<path d="M89.90,404.60 H93.30 V418.70 H89.90 V407.60 L83.10,409.80 L83.10,407.80 Z" fill="#000" stroke="#000" stroke-width="0.3" stroke-linejoin="round"/>
<text transform="translate(54.77,319.34) scale(1.5320,1)" font-size="20.62" fill="#000" stroke="#000" stroke-width="0.45" stroke-linejoin="round" >0.2</text>
<text transform="translate(54.77,218.59) scale(1.5238,1)" font-size="20.62" fill="#000" stroke="#000" stroke-width="0.45" stroke-linejoin="round" >0.3</text>
<text transform="translate(54.79,119.29) scale(1.5076,1)" font-size="20.62" fill="#000" stroke="#000" stroke-width="0.45" stroke-linejoin="round" >0.4</text>
<text transform="translate(54.78,20.44) scale(1.5214,1)" font-size="20.62" fill="#000" stroke="#000" stroke-width="0.45" stroke-linejoin="round" >0.5</text>
<text transform="translate(102.24,544.60) scale(1.6544,1)" font-size="19.77" fill="#000" stroke="#000" stroke-width="0.45" stroke-linejoin="round" >0</text>
<text transform="translate(255.76,544.60) scale(1.6544,1)" font-size="19.77" fill="#000" stroke="#000" stroke-width="0.45" stroke-linejoin="round" >20</text>
<text transform="translate(417.72,544.60) scale(1.6544,1)" font-size="19.77" fill="#000" stroke="#000" stroke-width="0.45" stroke-linejoin="round" >40</text>
<text transform="translate(578.56,544.60) scale(1.6544,1)" font-size="19.77" fill="#000" stroke="#000" stroke-width="0.45" stroke-linejoin="round" >60</text>
<text transform="translate(739.93,544.60) scale(1.6544,1)" font-size="19.77" fill="#000" stroke="#000" stroke-width="0.45" stroke-linejoin="round" >80</text>
<path d="M902.00,531.10 H906.20 V544.50 H902.00 V534.10 L895.40,536.30 L895.40,534.30 Z" fill="#000" stroke="#000" stroke-width="0.3" stroke-linejoin="round"/>
<text transform="translate(911.40,544.60) scale(1.4253,1)" font-size="19.77" fill="#000" stroke="#000" stroke-width="0.45" stroke-linejoin="round" >0</text>
<text transform="translate(928.86,544.60) scale(1.2141,1)" font-size="19.77" fill="#000" stroke="#000" stroke-width="0.45" stroke-linejoin="round" >0</text>
<text transform="translate(402.08,582.4) scale(1.5636,1)" font-size="25.15" fill="#000" stroke="#000" stroke-width="0.45" stroke-linejoin="round">Frequency (THz)</text>
<text transform="translate(36.9,402.25) scale(1.8912,1) rotate(-90)" font-size="21.29" fill="#000" textLength="250.02" lengthAdjust="spacing" stroke="#000" stroke-width="0.45" stroke-linejoin="round">Penetration depth (δ)</text>
</g>
</svg></div>
</body></html>
